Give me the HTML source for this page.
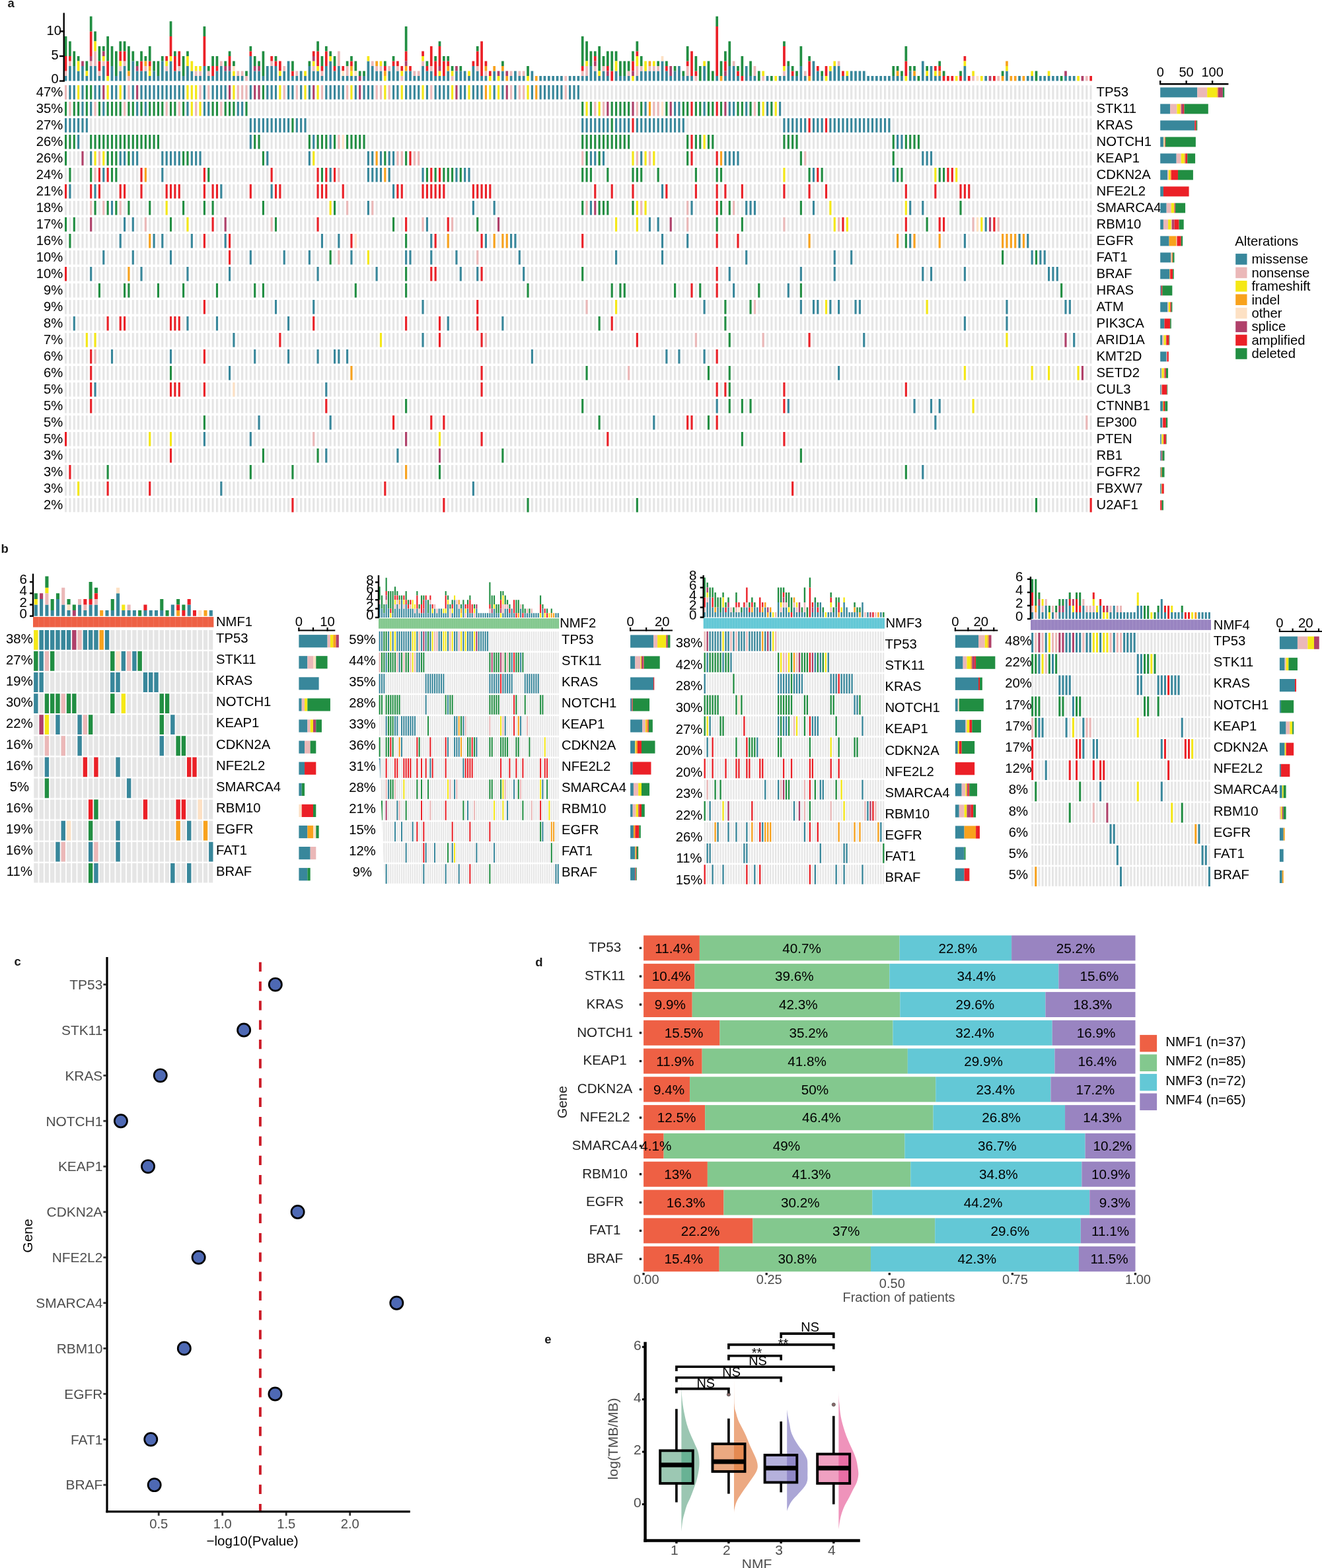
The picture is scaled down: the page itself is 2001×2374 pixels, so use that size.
<!DOCTYPE html><html><head><meta charset="utf-8"><style>html,body{margin:0;padding:0;background:#fff}svg{display:block}text{font-family:Liberation Sans, Arial, Helvetica, sans-serif}</style></head><body>
<svg xmlns="http://www.w3.org/2000/svg" width="2001" height="2374" viewBox="0 0 2001 2374">
<rect x="0" y="0" width="2001" height="2374" fill="#fff"/>
<text x="11.5" y="11.3" font-size="18.5" text-anchor="start" fill="#1a1a1a" font-weight="bold">a</text>
<path fill="#38879b" d="M97.7 115.08h3.7v7.52h-3.7zM104.06 100.04h3.7v22.56h-3.7zM110.42 100.04h3.7v22.56h-3.7zM116.78 107.56h3.7v15.04h-3.7zM123.14 100.04h3.7v22.56h-3.7zM129.5 115.08h3.7v7.52h-3.7zM135.85 100.04h3.7v22.56h-3.7zM142.21 100.04h3.7v22.56h-3.7zM148.57 115.08h3.7v7.52h-3.7zM154.93 100.04h3.7v22.56h-3.7zM167.65 100.04h3.7v22.56h-3.7zM174.01 115.08h3.7v7.52h-3.7zM180.37 107.56h3.7v15.04h-3.7zM186.73 100.04h3.7v22.56h-3.7zM199.44 92.52h3.7v30.08h-3.7zM205.8 107.56h3.7v15.04h-3.7zM212.16 107.56h3.7v15.04h-3.7zM218.52 107.56h3.7v15.04h-3.7zM224.88 115.08h3.7v7.52h-3.7zM231.24 107.56h3.7v15.04h-3.7zM237.6 115.08h3.7v7.52h-3.7zM243.96 92.52h3.7v30.08h-3.7zM250.32 107.56h3.7v15.04h-3.7zM256.67 92.52h3.7v30.08h-3.7zM263.03 107.56h3.7v15.04h-3.7zM269.39 107.56h3.7v15.04h-3.7zM275.75 115.08h3.7v7.52h-3.7zM282.11 100.04h3.7v22.56h-3.7zM288.47 107.56h3.7v15.04h-3.7zM294.83 115.08h3.7v7.52h-3.7zM301.19 115.08h3.7v7.52h-3.7zM307.55 100.04h3.7v22.56h-3.7zM313.91 115.08h3.7v7.52h-3.7zM320.26 115.08h3.7v7.52h-3.7zM326.62 107.56h3.7v15.04h-3.7zM332.98 100.04h3.7v22.56h-3.7zM339.34 107.56h3.7v15.04h-3.7zM345.7 107.56h3.7v15.04h-3.7zM352.06 115.08h3.7v7.52h-3.7zM358.42 115.08h3.7v7.52h-3.7zM364.78 115.08h3.7v7.52h-3.7zM377.5 85h3.7v37.6h-3.7zM383.85 107.56h3.7v15.04h-3.7zM390.21 107.56h3.7v15.04h-3.7zM396.57 115.08h3.7v7.52h-3.7zM402.93 100.04h3.7v22.56h-3.7zM409.29 100.04h3.7v22.56h-3.7zM415.65 100.04h3.7v22.56h-3.7zM422.01 115.08h3.7v7.52h-3.7zM428.37 107.56h3.7v15.04h-3.7zM434.73 92.52h3.7v30.08h-3.7zM441.09 115.08h3.7v7.52h-3.7zM447.44 115.08h3.7v7.52h-3.7zM453.8 107.56h3.7v15.04h-3.7zM460.16 115.08h3.7v7.52h-3.7zM466.52 100.04h3.7v22.56h-3.7zM472.88 107.56h3.7v15.04h-3.7zM479.24 107.56h3.7v15.04h-3.7zM485.6 115.08h3.7v7.52h-3.7zM491.96 100.04h3.7v22.56h-3.7zM498.32 92.52h3.7v30.08h-3.7zM504.68 107.56h3.7v15.04h-3.7zM511.03 100.04h3.7v22.56h-3.7zM517.39 115.08h3.7v7.52h-3.7zM523.75 115.08h3.7v7.52h-3.7zM530.11 115.08h3.7v7.52h-3.7zM536.47 115.08h3.7v7.52h-3.7zM549.19 115.08h3.7v7.52h-3.7zM555.55 92.52h3.7v30.08h-3.7zM561.91 100.04h3.7v22.56h-3.7zM568.27 107.56h3.7v15.04h-3.7zM574.62 107.56h3.7v15.04h-3.7zM587.34 107.56h3.7v15.04h-3.7zM593.7 100.04h3.7v22.56h-3.7zM600.06 107.56h3.7v15.04h-3.7zM612.78 107.56h3.7v15.04h-3.7zM619.14 107.56h3.7v15.04h-3.7zM625.5 115.08h3.7v7.52h-3.7zM631.86 115.08h3.7v7.52h-3.7zM638.21 100.04h3.7v22.56h-3.7zM644.57 107.56h3.7v15.04h-3.7zM650.93 107.56h3.7v15.04h-3.7zM657.29 115.08h3.7v7.52h-3.7zM663.65 115.08h3.7v7.52h-3.7zM670.01 115.08h3.7v7.52h-3.7zM676.37 107.56h3.7v15.04h-3.7zM689.09 107.56h3.7v15.04h-3.7zM695.45 107.56h3.7v15.04h-3.7zM701.8 107.56h3.7v15.04h-3.7zM708.16 115.08h3.7v7.52h-3.7zM714.52 100.04h3.7v22.56h-3.7zM720.88 107.56h3.7v15.04h-3.7zM727.24 115.08h3.7v7.52h-3.7zM733.6 115.08h3.7v7.52h-3.7zM746.32 107.56h3.7v15.04h-3.7zM759.04 107.56h3.7v15.04h-3.7zM771.75 115.08h3.7v7.52h-3.7zM778.11 107.56h3.7v15.04h-3.7zM784.47 115.08h3.7v7.52h-3.7zM790.83 115.08h3.7v7.52h-3.7zM803.55 107.56h3.7v15.04h-3.7zM816.27 115.08h3.7v7.52h-3.7zM822.63 115.08h3.7v7.52h-3.7zM828.98 115.08h3.7v7.52h-3.7zM835.34 115.08h3.7v7.52h-3.7zM841.7 115.08h3.7v7.52h-3.7zM848.06 115.08h3.7v7.52h-3.7zM860.78 115.08h3.7v7.52h-3.7zM867.14 115.08h3.7v7.52h-3.7zM873.5 115.08h3.7v7.52h-3.7zM879.86 115.08h3.7v7.52h-3.7zM886.22 115.08h3.7v7.52h-3.7zM892.57 100.04h3.7v22.56h-3.7zM898.93 107.56h3.7v15.04h-3.7zM905.29 115.08h3.7v7.52h-3.7zM911.65 107.56h3.7v15.04h-3.7zM918.01 115.08h3.7v7.52h-3.7zM930.73 107.56h3.7v15.04h-3.7zM937.09 115.08h3.7v7.52h-3.7zM943.45 115.08h3.7v7.52h-3.7zM949.81 115.08h3.7v7.52h-3.7zM962.52 115.08h3.7v7.52h-3.7zM968.88 107.56h3.7v15.04h-3.7zM975.24 107.56h3.7v15.04h-3.7zM981.6 107.56h3.7v15.04h-3.7zM987.96 107.56h3.7v15.04h-3.7zM994.32 107.56h3.7v15.04h-3.7zM1000.68 92.52h3.7v30.08h-3.7zM1007.04 107.56h3.7v15.04h-3.7zM1013.4 115.08h3.7v7.52h-3.7zM1019.75 107.56h3.7v15.04h-3.7zM1026.11 100.04h3.7v22.56h-3.7zM1032.47 115.08h3.7v7.52h-3.7zM1038.83 115.08h3.7v7.52h-3.7zM1045.19 115.08h3.7v7.52h-3.7zM1064.27 100.04h3.7v22.56h-3.7zM1083.35 115.08h3.7v7.52h-3.7zM1096.06 115.08h3.7v7.52h-3.7zM1102.42 100.04h3.7v22.56h-3.7zM1108.78 100.04h3.7v22.56h-3.7zM1115.14 115.08h3.7v7.52h-3.7zM1127.86 100.04h3.7v22.56h-3.7zM1134.22 115.08h3.7v7.52h-3.7zM1140.58 115.08h3.7v7.52h-3.7zM1159.65 115.08h3.7v7.52h-3.7zM1178.73 115.08h3.7v7.52h-3.7zM1185.09 115.08h3.7v7.52h-3.7zM1191.45 100.04h3.7v22.56h-3.7zM1197.81 115.08h3.7v7.52h-3.7zM1204.17 115.08h3.7v7.52h-3.7zM1210.53 100.04h3.7v22.56h-3.7zM1216.88 115.08h3.7v7.52h-3.7zM1229.6 92.52h3.7v30.08h-3.7zM1235.96 107.56h3.7v15.04h-3.7zM1242.32 115.08h3.7v7.52h-3.7zM1255.04 107.56h3.7v15.04h-3.7zM1261.4 100.04h3.7v22.56h-3.7zM1267.76 100.04h3.7v22.56h-3.7zM1274.12 115.08h3.7v7.52h-3.7zM1280.47 115.08h3.7v7.52h-3.7zM1286.83 107.56h3.7v15.04h-3.7zM1293.19 107.56h3.7v15.04h-3.7zM1299.55 107.56h3.7v15.04h-3.7zM1305.91 107.56h3.7v15.04h-3.7zM1312.27 115.08h3.7v7.52h-3.7zM1318.63 115.08h3.7v7.52h-3.7zM1324.99 115.08h3.7v7.52h-3.7zM1331.35 115.08h3.7v7.52h-3.7zM1337.71 115.08h3.7v7.52h-3.7zM1344.06 115.08h3.7v7.52h-3.7zM1350.42 115.08h3.7v7.52h-3.7zM1356.78 115.08h3.7v7.52h-3.7zM1363.14 115.08h3.7v7.52h-3.7zM1375.86 107.56h3.7v15.04h-3.7zM1382.22 115.08h3.7v7.52h-3.7zM1394.94 92.52h3.7v30.08h-3.7zM1401.3 115.08h3.7v7.52h-3.7zM1407.65 100.04h3.7v22.56h-3.7zM1414.01 115.08h3.7v7.52h-3.7zM1420.37 115.08h3.7v7.52h-3.7zM1458.53 100.04h3.7v22.56h-3.7zM1490.32 115.08h3.7v7.52h-3.7zM1522.12 107.56h3.7v15.04h-3.7zM1541.19 115.08h3.7v7.52h-3.7zM1553.91 115.08h3.7v7.52h-3.7zM1560.27 115.08h3.7v7.52h-3.7zM1572.99 115.08h3.7v7.52h-3.7zM1579.35 115.08h3.7v7.52h-3.7zM1585.71 115.08h3.7v7.52h-3.7zM1592.07 115.08h3.7v7.52h-3.7zM1598.42 115.08h3.7v7.52h-3.7zM1611.14 115.08h3.7v7.52h-3.7zM1617.5 115.08h3.7v7.52h-3.7zM1623.86 115.08h3.7v7.52h-3.7z"/>
<path fill="#ebb8b8" d="M97.7 107.56h3.7v7.52h-3.7zM104.06 92.52h3.7v7.52h-3.7zM135.85 92.52h3.7v7.52h-3.7zM142.21 77.48h3.7v22.56h-3.7zM148.57 107.56h3.7v7.52h-3.7zM154.93 92.52h3.7v7.52h-3.7zM180.37 100.04h3.7v7.52h-3.7zM186.73 92.52h3.7v7.52h-3.7zM193.09 115.08h3.7v7.52h-3.7zM218.52 100.04h3.7v7.52h-3.7zM250.32 100.04h3.7v7.52h-3.7zM269.39 100.04h3.7v7.52h-3.7zM294.83 107.56h3.7v7.52h-3.7zM301.19 107.56h3.7v7.52h-3.7zM313.91 107.56h3.7v7.52h-3.7zM332.98 92.52h3.7v7.52h-3.7zM358.42 107.56h3.7v7.52h-3.7zM364.78 107.56h3.7v7.52h-3.7zM371.14 115.08h3.7v7.52h-3.7zM409.29 92.52h3.7v7.52h-3.7zM428.37 100.04h3.7v7.52h-3.7zM447.44 107.56h3.7v7.52h-3.7zM472.88 100.04h3.7v7.52h-3.7zM485.6 107.56h3.7v7.52h-3.7zM511.03 77.48h3.7v22.56h-3.7zM523.75 100.04h3.7v15.04h-3.7zM561.91 92.52h3.7v7.52h-3.7zM568.27 100.04h3.7v7.52h-3.7zM574.62 100.04h3.7v7.52h-3.7zM587.34 100.04h3.7v7.52h-3.7zM600.06 100.04h3.7v7.52h-3.7zM606.42 115.08h3.7v7.52h-3.7zM625.5 107.56h3.7v7.52h-3.7zM631.86 107.56h3.7v7.52h-3.7zM638.21 92.52h3.7v7.52h-3.7zM650.93 100.04h3.7v7.52h-3.7zM682.73 115.08h3.7v7.52h-3.7zM720.88 100.04h3.7v7.52h-3.7zM733.6 107.56h3.7v7.52h-3.7zM771.75 107.56h3.7v7.52h-3.7zM784.47 107.56h3.7v7.52h-3.7zM790.83 107.56h3.7v7.52h-3.7zM854.42 115.08h3.7v7.52h-3.7zM879.86 107.56h3.7v7.52h-3.7zM886.22 100.04h3.7v15.04h-3.7zM898.93 100.04h3.7v7.52h-3.7zM911.65 100.04h3.7v7.52h-3.7zM949.81 107.56h3.7v7.52h-3.7zM962.52 100.04h3.7v15.04h-3.7zM968.88 100.04h3.7v7.52h-3.7zM981.6 100.04h3.7v7.52h-3.7zM987.96 100.04h3.7v7.52h-3.7zM994.32 100.04h3.7v7.52h-3.7zM1038.83 100.04h3.7v15.04h-3.7zM1051.55 115.08h3.7v7.52h-3.7zM1108.78 92.52h3.7v7.52h-3.7zM1140.58 100.04h3.7v15.04h-3.7zM1153.29 115.08h3.7v7.52h-3.7zM1185.09 107.56h3.7v7.52h-3.7zM1216.88 107.56h3.7v7.52h-3.7zM1267.76 92.52h3.7v7.52h-3.7zM1471.24 115.08h3.7v7.52h-3.7zM1509.4 115.08h3.7v7.52h-3.7zM1642.94 115.08h3.7v7.52h-3.7z"/>
<path fill="#eb2027" d="M97.7 85h3.7v22.56h-3.7zM104.06 85h3.7v7.52h-3.7zM135.85 47.4h3.7v37.6h-3.7zM148.57 92.52h3.7v15.04h-3.7zM161.29 92.52h3.7v22.56h-3.7zM180.37 77.48h3.7v15.04h-3.7zM186.73 77.48h3.7v15.04h-3.7zM212.16 92.52h3.7v15.04h-3.7zM224.88 92.52h3.7v7.52h-3.7zM250.32 85h3.7v7.52h-3.7zM256.67 54.92h3.7v30.08h-3.7zM263.03 85h3.7v22.56h-3.7zM269.39 77.48h3.7v22.56h-3.7zM307.55 54.92h3.7v45.12h-3.7zM320.26 100.04h3.7v15.04h-3.7zM326.62 100.04h3.7v7.52h-3.7zM345.7 85h3.7v15.04h-3.7zM377.5 77.48h3.7v7.52h-3.7zM409.29 85h3.7v7.52h-3.7zM415.65 92.52h3.7v7.52h-3.7zM422.01 92.52h3.7v15.04h-3.7zM441.09 107.56h3.7v7.52h-3.7zM472.88 77.48h3.7v7.52h-3.7zM479.24 77.48h3.7v22.56h-3.7zM485.6 100.04h3.7v7.52h-3.7zM491.96 77.48h3.7v22.56h-3.7zM504.68 100.04h3.7v7.52h-3.7zM517.39 100.04h3.7v7.52h-3.7zM530.11 92.52h3.7v7.52h-3.7zM580.98 100.04h3.7v7.52h-3.7zM593.7 92.52h3.7v7.52h-3.7zM600.06 92.52h3.7v7.52h-3.7zM606.42 100.04h3.7v7.52h-3.7zM612.78 77.48h3.7v15.04h-3.7zM619.14 100.04h3.7v7.52h-3.7zM638.21 77.48h3.7v7.52h-3.7zM644.57 100.04h3.7v7.52h-3.7zM650.93 69.96h3.7v30.08h-3.7zM657.29 92.52h3.7v22.56h-3.7zM663.65 69.96h3.7v30.08h-3.7zM670.01 92.52h3.7v22.56h-3.7zM676.37 92.52h3.7v7.52h-3.7zM714.52 92.52h3.7v7.52h-3.7zM720.88 77.48h3.7v22.56h-3.7zM727.24 62.44h3.7v52.64h-3.7zM733.6 92.52h3.7v7.52h-3.7zM739.96 107.56h3.7v7.52h-3.7zM879.86 100.04h3.7v7.52h-3.7zM898.93 85h3.7v7.52h-3.7zM918.01 100.04h3.7v7.52h-3.7zM924.37 107.56h3.7v15.04h-3.7zM956.16 92.52h3.7v15.04h-3.7zM962.52 77.48h3.7v7.52h-3.7zM1007.04 100.04h3.7v7.52h-3.7zM1038.83 92.52h3.7v7.52h-3.7zM1045.19 77.48h3.7v37.6h-3.7zM1051.55 107.56h3.7v7.52h-3.7zM1083.35 39.88h3.7v75.2h-3.7zM1096.06 92.52h3.7v15.04h-3.7zM1115.14 107.56h3.7v7.52h-3.7zM1121.5 115.08h3.7v7.52h-3.7zM1185.09 69.96h3.7v30.08h-3.7zM1197.81 107.56h3.7v7.52h-3.7zM1223.24 92.52h3.7v22.56h-3.7zM1235.96 100.04h3.7v7.52h-3.7zM1248.68 100.04h3.7v15.04h-3.7zM1274.12 107.56h3.7v7.52h-3.7zM1369.5 92.52h3.7v22.56h-3.7zM1414.01 100.04h3.7v7.52h-3.7zM1420.37 100.04h3.7v7.52h-3.7zM1426.73 115.08h3.7v7.52h-3.7zM1433.09 115.08h3.7v7.52h-3.7zM1439.45 115.08h3.7v7.52h-3.7zM1452.17 115.08h3.7v7.52h-3.7zM1458.53 85h3.7v7.52h-3.7zM1464.88 115.08h3.7v7.52h-3.7zM1503.04 115.08h3.7v7.52h-3.7zM1649.3 115.08h3.7v7.52h-3.7z"/>
<path fill="#218e42" d="M97.7 54.92h3.7v30.08h-3.7zM104.06 62.44h3.7v22.56h-3.7zM110.42 77.48h3.7v22.56h-3.7zM116.78 85h3.7v7.52h-3.7zM129.5 92.52h3.7v15.04h-3.7zM135.85 24.84h3.7v22.56h-3.7zM142.21 47.4h3.7v15.04h-3.7zM148.57 69.96h3.7v22.56h-3.7zM154.93 69.96h3.7v7.52h-3.7zM161.29 54.92h3.7v37.6h-3.7zM167.65 69.96h3.7v30.08h-3.7zM174.01 77.48h3.7v37.6h-3.7zM180.37 62.44h3.7v15.04h-3.7zM186.73 62.44h3.7v15.04h-3.7zM193.09 69.96h3.7v37.6h-3.7zM199.44 77.48h3.7v15.04h-3.7zM205.8 92.52h3.7v7.52h-3.7zM212.16 77.48h3.7v15.04h-3.7zM218.52 85h3.7v7.52h-3.7zM224.88 69.96h3.7v22.56h-3.7zM231.24 92.52h3.7v15.04h-3.7zM237.6 92.52h3.7v22.56h-3.7zM243.96 85h3.7v7.52h-3.7zM256.67 32.36h3.7v22.56h-3.7zM263.03 77.48h3.7v7.52h-3.7zM275.75 85h3.7v30.08h-3.7zM282.11 77.48h3.7v7.52h-3.7zM307.55 39.88h3.7v15.04h-3.7zM313.91 100.04h3.7v7.52h-3.7zM320.26 85h3.7v15.04h-3.7zM326.62 85h3.7v15.04h-3.7zM339.34 92.52h3.7v7.52h-3.7zM345.7 77.48h3.7v7.52h-3.7zM352.06 92.52h3.7v7.52h-3.7zM371.14 107.56h3.7v7.52h-3.7zM377.5 69.96h3.7v7.52h-3.7zM383.85 85h3.7v15.04h-3.7zM390.21 92.52h3.7v7.52h-3.7zM396.57 77.48h3.7v37.6h-3.7zM415.65 85h3.7v7.52h-3.7zM441.09 92.52h3.7v15.04h-3.7zM466.52 92.52h3.7v7.52h-3.7zM479.24 62.44h3.7v15.04h-3.7zM485.6 85h3.7v15.04h-3.7zM491.96 69.96h3.7v7.52h-3.7zM498.32 77.48h3.7v7.52h-3.7zM504.68 85h3.7v15.04h-3.7zM523.75 92.52h3.7v7.52h-3.7zM530.11 85h3.7v7.52h-3.7zM536.47 92.52h3.7v15.04h-3.7zM542.83 107.56h3.7v7.52h-3.7zM549.19 107.56h3.7v7.52h-3.7zM580.98 92.52h3.7v7.52h-3.7zM593.7 85h3.7v7.52h-3.7zM612.78 39.88h3.7v37.6h-3.7zM644.57 92.52h3.7v7.52h-3.7zM657.29 85h3.7v7.52h-3.7zM663.65 62.44h3.7v7.52h-3.7zM670.01 85h3.7v7.52h-3.7zM676.37 85h3.7v7.52h-3.7zM682.73 100.04h3.7v7.52h-3.7zM695.45 100.04h3.7v7.52h-3.7zM720.88 69.96h3.7v7.52h-3.7zM759.04 92.52h3.7v7.52h-3.7zM797.19 100.04h3.7v15.04h-3.7zM879.86 54.92h3.7v45.12h-3.7zM886.22 62.44h3.7v30.08h-3.7zM892.57 77.48h3.7v22.56h-3.7zM898.93 77.48h3.7v7.52h-3.7zM905.29 69.96h3.7v37.6h-3.7zM911.65 85h3.7v15.04h-3.7zM918.01 77.48h3.7v22.56h-3.7zM924.37 77.48h3.7v30.08h-3.7zM930.73 77.48h3.7v15.04h-3.7zM937.09 92.52h3.7v22.56h-3.7zM943.45 92.52h3.7v22.56h-3.7zM949.81 92.52h3.7v15.04h-3.7zM956.16 77.48h3.7v15.04h-3.7zM962.52 62.44h3.7v15.04h-3.7zM968.88 85h3.7v15.04h-3.7zM994.32 92.52h3.7v7.52h-3.7zM1007.04 92.52h3.7v7.52h-3.7zM1019.75 100.04h3.7v7.52h-3.7zM1032.47 107.56h3.7v7.52h-3.7zM1038.83 69.96h3.7v22.56h-3.7zM1051.55 85h3.7v22.56h-3.7zM1057.91 100.04h3.7v22.56h-3.7zM1070.63 92.52h3.7v30.08h-3.7zM1076.99 107.56h3.7v15.04h-3.7zM1083.35 24.84h3.7v15.04h-3.7zM1089.7 92.52h3.7v22.56h-3.7zM1096.06 77.48h3.7v15.04h-3.7zM1102.42 62.44h3.7v37.6h-3.7zM1115.14 100.04h3.7v7.52h-3.7zM1121.5 85h3.7v30.08h-3.7zM1134.22 92.52h3.7v22.56h-3.7zM1146.93 107.56h3.7v15.04h-3.7zM1166.01 115.08h3.7v7.52h-3.7zM1185.09 62.44h3.7v7.52h-3.7zM1191.45 92.52h3.7v7.52h-3.7zM1197.81 100.04h3.7v7.52h-3.7zM1204.17 107.56h3.7v7.52h-3.7zM1210.53 69.96h3.7v30.08h-3.7zM1223.24 85h3.7v7.52h-3.7zM1242.32 107.56h3.7v7.52h-3.7zM1350.42 100.04h3.7v15.04h-3.7zM1356.78 100.04h3.7v7.52h-3.7zM1363.14 107.56h3.7v7.52h-3.7zM1369.5 69.96h3.7v22.56h-3.7zM1375.86 100.04h3.7v7.52h-3.7zM1382.22 100.04h3.7v7.52h-3.7zM1388.58 115.08h3.7v7.52h-3.7zM1401.3 100.04h3.7v7.52h-3.7zM1420.37 92.52h3.7v7.52h-3.7zM1426.73 107.56h3.7v7.52h-3.7zM1452.17 107.56h3.7v7.52h-3.7zM1515.76 107.56h3.7v7.52h-3.7zM1566.63 107.56h3.7v15.04h-3.7zM1604.78 115.08h3.7v7.52h-3.7z"/>
<path fill="#f5e816" d="M116.78 92.52h3.7v15.04h-3.7zM129.5 107.56h3.7v7.52h-3.7zM142.21 62.44h3.7v15.04h-3.7zM154.93 85h3.7v7.52h-3.7zM161.29 115.08h3.7v7.52h-3.7zM180.37 92.52h3.7v7.52h-3.7zM224.88 107.56h3.7v7.52h-3.7zM250.32 92.52h3.7v7.52h-3.7zM256.67 85h3.7v7.52h-3.7zM282.11 85h3.7v15.04h-3.7zM288.47 92.52h3.7v15.04h-3.7zM294.83 100.04h3.7v7.52h-3.7zM301.19 100.04h3.7v7.52h-3.7zM352.06 107.56h3.7v7.52h-3.7zM422.01 107.56h3.7v7.52h-3.7zM460.16 107.56h3.7v7.52h-3.7zM472.88 92.52h3.7v7.52h-3.7zM479.24 100.04h3.7v7.52h-3.7zM498.32 85h3.7v7.52h-3.7zM530.11 107.56h3.7v7.52h-3.7zM555.55 85h3.7v7.52h-3.7zM574.62 92.52h3.7v7.52h-3.7zM580.98 115.08h3.7v7.52h-3.7zM606.42 107.56h3.7v7.52h-3.7zM638.21 85h3.7v7.52h-3.7zM663.65 107.56h3.7v7.52h-3.7zM682.73 107.56h3.7v7.52h-3.7zM708.16 107.56h3.7v7.52h-3.7zM739.96 115.08h3.7v7.52h-3.7zM752.68 115.08h3.7v7.52h-3.7zM797.19 115.08h3.7v7.52h-3.7zM886.22 92.52h3.7v7.52h-3.7zM905.29 107.56h3.7v7.52h-3.7zM930.73 92.52h3.7v15.04h-3.7zM956.16 115.08h3.7v7.52h-3.7zM962.52 85h3.7v15.04h-3.7zM975.24 92.52h3.7v15.04h-3.7zM987.96 92.52h3.7v7.52h-3.7zM1064.27 92.52h3.7v7.52h-3.7zM1153.29 107.56h3.7v7.52h-3.7zM1172.37 115.08h3.7v7.52h-3.7zM1185.09 100.04h3.7v7.52h-3.7zM1248.68 115.08h3.7v7.52h-3.7zM1255.04 100.04h3.7v7.52h-3.7zM1261.4 92.52h3.7v7.52h-3.7zM1280.47 107.56h3.7v7.52h-3.7zM1369.5 115.08h3.7v7.52h-3.7zM1401.3 107.56h3.7v7.52h-3.7zM1414.01 107.56h3.7v7.52h-3.7zM1445.81 115.08h3.7v7.52h-3.7zM1458.53 92.52h3.7v7.52h-3.7zM1471.24 107.56h3.7v7.52h-3.7zM1483.96 115.08h3.7v7.52h-3.7zM1522.12 100.04h3.7v7.52h-3.7zM1560.27 107.56h3.7v7.52h-3.7zM1585.71 107.56h3.7v7.52h-3.7zM1630.22 115.08h3.7v7.52h-3.7z"/>
<path fill="#b0406a" d="M123.14 92.52h3.7v7.52h-3.7zM135.85 85h3.7v7.52h-3.7zM154.93 77.48h3.7v7.52h-3.7zM205.8 100.04h3.7v7.52h-3.7zM339.34 100.04h3.7v7.52h-3.7zM345.7 100.04h3.7v7.52h-3.7zM383.85 100.04h3.7v7.52h-3.7zM390.21 100.04h3.7v7.52h-3.7zM472.88 85h3.7v7.52h-3.7zM542.83 115.08h3.7v7.52h-3.7zM612.78 92.52h3.7v7.52h-3.7zM663.65 100.04h3.7v7.52h-3.7zM689.09 100.04h3.7v7.52h-3.7zM752.68 107.56h3.7v7.52h-3.7zM765.39 107.56h3.7v7.52h-3.7zM898.93 92.52h3.7v7.52h-3.7zM918.01 107.56h3.7v7.52h-3.7zM956.16 107.56h3.7v7.52h-3.7zM1013.4 100.04h3.7v15.04h-3.7zM1096.06 107.56h3.7v7.52h-3.7zM1496.68 115.08h3.7v7.52h-3.7zM1611.14 107.56h3.7v7.52h-3.7zM1636.58 115.08h3.7v7.52h-3.7z"/>
<path fill="#f8a21d" d="M193.09 107.56h3.7v7.52h-3.7zM218.52 92.52h3.7v7.52h-3.7zM224.88 100.04h3.7v7.52h-3.7zM530.11 100.04h3.7v7.52h-3.7zM568.27 92.52h3.7v7.52h-3.7zM580.98 107.56h3.7v7.52h-3.7zM612.78 100.04h3.7v7.52h-3.7zM676.37 100.04h3.7v7.52h-3.7zM733.6 100.04h3.7v7.52h-3.7zM746.32 100.04h3.7v7.52h-3.7zM759.04 100.04h3.7v7.52h-3.7zM765.39 115.08h3.7v7.52h-3.7zM809.91 115.08h3.7v7.52h-3.7zM981.6 92.52h3.7v7.52h-3.7zM1089.7 115.08h3.7v7.52h-3.7zM1223.24 115.08h3.7v7.52h-3.7zM1356.78 107.56h3.7v7.52h-3.7zM1382.22 107.56h3.7v7.52h-3.7zM1420.37 107.56h3.7v7.52h-3.7zM1515.76 115.08h3.7v7.52h-3.7zM1522.12 92.52h3.7v7.52h-3.7zM1528.48 115.08h3.7v7.52h-3.7zM1534.83 115.08h3.7v7.52h-3.7zM1547.55 115.08h3.7v7.52h-3.7z"/>
<path fill="#fde1c4" d="M352.06 100.04h3.7v7.52h-3.7zM517.39 107.56h3.7v7.52h-3.7zM536.47 107.56h3.7v7.52h-3.7zM1000.68 85h3.7v7.52h-3.7zM1477.6 115.08h3.7v7.52h-3.7z"/>
<line x1="96.7" y1="19.5" x2="96.7" y2="123.3" stroke="#000" stroke-width="2.4"/>
<line x1="90" y1="122.6" x2="97.8" y2="122.6" stroke="#000" stroke-width="2.4"/>
<line x1="90" y1="85" x2="97.8" y2="85" stroke="#000" stroke-width="2.4"/>
<line x1="90" y1="47.4" x2="97.8" y2="47.4" stroke="#000" stroke-width="2.4"/>
<text x="88.7" y="126.3" font-size="20" text-anchor="end" fill="#000">0</text>
<text x="88.7" y="89.6" font-size="20" text-anchor="end" fill="#000">5</text>
<text x="92.8" y="52.8" font-size="20" text-anchor="end" fill="#000">10</text>
<defs><pattern id="gp1" patternUnits="userSpaceOnUse" x="98" y="129.1" width="6.359" height="25.0"><rect x="0" y="0" width="3.1" height="21.5" fill="#e5e5e5"/></pattern></defs>
<rect x="98" y="129.1" width="1554.7" height="646.5" fill="url(#gp1)"/>
<path fill="#ebb8b8" d="M98 129.1h3.1v21.5h-3.1zM193.38 129.1h3.1v21.5h-3.1zM301.49 129.1h3.1v21.5h-3.1zM314.21 129.1h3.1v21.5h-3.1zM358.72 129.1h3.1v21.5h-3.1zM365.08 129.1h3.1v21.5h-3.1zM371.44 129.1h3.1v21.5h-3.1zM428.67 129.1h3.1v21.5h-3.1zM447.75 129.1h3.1v21.5h-3.1zM485.9 129.1h3.1v21.5h-3.1zM524.05 129.1h3.1v21.5h-3.1zM568.57 129.1h3.1v21.5h-3.1zM574.93 129.1h3.1v21.5h-3.1zM587.64 129.1h3.1v21.5h-3.1zM651.23 129.1h3.1v21.5h-3.1zM772.05 129.1h3.1v21.5h-3.1zM784.77 129.1h3.1v21.5h-3.1zM791.13 129.1h3.1v21.5h-3.1zM854.72 129.1h3.1v21.5h-3.1zM104.36 154.1h3.1v21.5h-3.1zM142.51 154.1h3.1v21.5h-3.1zM187.03 154.1h3.1v21.5h-3.1zM250.62 154.1h3.1v21.5h-3.1zM269.69 154.1h3.1v21.5h-3.1zM295.13 154.1h3.1v21.5h-3.1zM333.28 154.1h3.1v21.5h-3.1zM899.23 154.1h3.1v21.5h-3.1zM911.95 154.1h3.1v21.5h-3.1zM962.82 154.1h3.1v21.5h-3.1zM988.26 154.1h3.1v21.5h-3.1zM994.62 154.1h3.1v21.5h-3.1zM1140.88 154.1h3.1v21.5h-3.1zM511.33 204.1h3.1v21.5h-3.1zM148.87 229.1h3.1v21.5h-3.1zM600.36 229.1h3.1v21.5h-3.1zM606.72 229.1h3.1v21.5h-3.1zM625.8 229.1h3.1v21.5h-3.1zM632.16 229.1h3.1v21.5h-3.1zM880.16 229.1h3.1v21.5h-3.1zM962.82 229.1h3.1v21.5h-3.1zM981.9 229.1h3.1v21.5h-3.1zM1217.18 229.1h3.1v21.5h-3.1zM142.51 254.1h3.1v21.5h-3.1zM511.33 254.1h3.1v21.5h-3.1zM136.15 304.1h3.1v21.5h-3.1zM155.23 304.1h3.1v21.5h-3.1zM180.67 304.1h3.1v21.5h-3.1zM524.05 304.1h3.1v21.5h-3.1zM562.21 304.1h3.1v21.5h-3.1zM886.52 304.1h3.1v21.5h-3.1zM969.18 304.1h3.1v21.5h-3.1zM1039.13 304.1h3.1v21.5h-3.1zM1109.08 304.1h3.1v21.5h-3.1zM218.82 329.1h3.1v21.5h-3.1zM409.59 329.1h3.1v21.5h-3.1zM638.51 329.1h3.1v21.5h-3.1zM683.03 329.1h3.1v21.5h-3.1zM1039.13 329.1h3.1v21.5h-3.1zM1185.39 329.1h3.1v21.5h-3.1zM1268.06 329.1h3.1v21.5h-3.1zM1471.54 329.1h3.1v21.5h-3.1zM1509.7 329.1h3.1v21.5h-3.1zM511.33 379.1h3.1v21.5h-3.1zM721.18 379.1h3.1v21.5h-3.1zM886.52 454.1h3.1v21.5h-3.1zM1140.88 454.1h3.1v21.5h-3.1zM733.9 504.1h3.1v21.5h-3.1zM1051.85 504.1h3.1v21.5h-3.1zM1153.59 504.1h3.1v21.5h-3.1zM142.51 529.1h3.1v21.5h-3.1zM950.11 554.1h3.1v21.5h-3.1zM1643.24 629.1h3.1v21.5h-3.1zM473.18 654.1h3.1v21.5h-3.1z"/>
<path fill="#38879b" d="M104.36 129.1h3.1v21.5h-3.1zM110.72 129.1h3.1v21.5h-3.1zM123.44 129.1h3.1v21.5h-3.1zM142.51 129.1h3.1v21.5h-3.1zM148.87 129.1h3.1v21.5h-3.1zM167.95 129.1h3.1v21.5h-3.1zM174.31 129.1h3.1v21.5h-3.1zM187.03 129.1h3.1v21.5h-3.1zM199.74 129.1h3.1v21.5h-3.1zM212.46 129.1h3.1v21.5h-3.1zM218.82 129.1h3.1v21.5h-3.1zM225.18 129.1h3.1v21.5h-3.1zM231.54 129.1h3.1v21.5h-3.1zM237.9 129.1h3.1v21.5h-3.1zM244.26 129.1h3.1v21.5h-3.1zM250.62 129.1h3.1v21.5h-3.1zM256.97 129.1h3.1v21.5h-3.1zM263.33 129.1h3.1v21.5h-3.1zM269.69 129.1h3.1v21.5h-3.1zM276.05 129.1h3.1v21.5h-3.1zM307.85 129.1h3.1v21.5h-3.1zM320.56 129.1h3.1v21.5h-3.1zM326.92 129.1h3.1v21.5h-3.1zM333.28 129.1h3.1v21.5h-3.1zM339.64 129.1h3.1v21.5h-3.1zM377.8 129.1h3.1v21.5h-3.1zM403.23 129.1h3.1v21.5h-3.1zM409.59 129.1h3.1v21.5h-3.1zM415.95 129.1h3.1v21.5h-3.1zM435.03 129.1h3.1v21.5h-3.1zM441.39 129.1h3.1v21.5h-3.1zM454.1 129.1h3.1v21.5h-3.1zM466.82 129.1h3.1v21.5h-3.1zM492.26 129.1h3.1v21.5h-3.1zM498.62 129.1h3.1v21.5h-3.1zM504.98 129.1h3.1v21.5h-3.1zM511.33 129.1h3.1v21.5h-3.1zM517.69 129.1h3.1v21.5h-3.1zM536.77 129.1h3.1v21.5h-3.1zM549.49 129.1h3.1v21.5h-3.1zM555.85 129.1h3.1v21.5h-3.1zM562.21 129.1h3.1v21.5h-3.1zM594 129.1h3.1v21.5h-3.1zM600.36 129.1h3.1v21.5h-3.1zM613.08 129.1h3.1v21.5h-3.1zM619.44 129.1h3.1v21.5h-3.1zM625.8 129.1h3.1v21.5h-3.1zM632.16 129.1h3.1v21.5h-3.1zM644.87 129.1h3.1v21.5h-3.1zM657.59 129.1h3.1v21.5h-3.1zM663.95 129.1h3.1v21.5h-3.1zM670.31 129.1h3.1v21.5h-3.1zM676.67 129.1h3.1v21.5h-3.1zM695.75 129.1h3.1v21.5h-3.1zM702.11 129.1h3.1v21.5h-3.1zM714.82 129.1h3.1v21.5h-3.1zM721.18 129.1h3.1v21.5h-3.1zM727.54 129.1h3.1v21.5h-3.1zM746.62 129.1h3.1v21.5h-3.1zM759.34 129.1h3.1v21.5h-3.1zM778.41 129.1h3.1v21.5h-3.1zM803.85 129.1h3.1v21.5h-3.1zM816.57 129.1h3.1v21.5h-3.1zM822.93 129.1h3.1v21.5h-3.1zM829.28 129.1h3.1v21.5h-3.1zM835.64 129.1h3.1v21.5h-3.1zM842 129.1h3.1v21.5h-3.1zM848.36 129.1h3.1v21.5h-3.1zM861.08 129.1h3.1v21.5h-3.1zM867.44 129.1h3.1v21.5h-3.1zM873.8 129.1h3.1v21.5h-3.1zM123.44 154.1h3.1v21.5h-3.1zM136.15 154.1h3.1v21.5h-3.1zM155.23 154.1h3.1v21.5h-3.1zM206.1 154.1h3.1v21.5h-3.1zM218.82 154.1h3.1v21.5h-3.1zM282.41 154.1h3.1v21.5h-3.1zM307.85 154.1h3.1v21.5h-3.1zM314.21 154.1h3.1v21.5h-3.1zM358.72 154.1h3.1v21.5h-3.1zM365.08 154.1h3.1v21.5h-3.1zM975.54 154.1h3.1v21.5h-3.1zM1020.05 154.1h3.1v21.5h-3.1zM1026.41 154.1h3.1v21.5h-3.1zM1064.57 154.1h3.1v21.5h-3.1zM1102.72 154.1h3.1v21.5h-3.1zM1109.08 154.1h3.1v21.5h-3.1zM1128.16 154.1h3.1v21.5h-3.1zM1159.95 154.1h3.1v21.5h-3.1zM1179.03 154.1h3.1v21.5h-3.1zM98 179.1h3.1v21.5h-3.1zM104.36 179.1h3.1v21.5h-3.1zM110.72 179.1h3.1v21.5h-3.1zM117.08 179.1h3.1v21.5h-3.1zM123.44 179.1h3.1v21.5h-3.1zM129.79 179.1h3.1v21.5h-3.1zM377.8 179.1h3.1v21.5h-3.1zM384.15 179.1h3.1v21.5h-3.1zM390.51 179.1h3.1v21.5h-3.1zM396.87 179.1h3.1v21.5h-3.1zM403.23 179.1h3.1v21.5h-3.1zM409.59 179.1h3.1v21.5h-3.1zM415.95 179.1h3.1v21.5h-3.1zM422.31 179.1h3.1v21.5h-3.1zM428.67 179.1h3.1v21.5h-3.1zM435.03 179.1h3.1v21.5h-3.1zM447.75 179.1h3.1v21.5h-3.1zM454.1 179.1h3.1v21.5h-3.1zM460.46 179.1h3.1v21.5h-3.1zM880.16 179.1h3.1v21.5h-3.1zM886.52 179.1h3.1v21.5h-3.1zM892.88 179.1h3.1v21.5h-3.1zM899.23 179.1h3.1v21.5h-3.1zM905.59 179.1h3.1v21.5h-3.1zM911.95 179.1h3.1v21.5h-3.1zM918.31 179.1h3.1v21.5h-3.1zM931.03 179.1h3.1v21.5h-3.1zM937.39 179.1h3.1v21.5h-3.1zM943.75 179.1h3.1v21.5h-3.1zM950.11 179.1h3.1v21.5h-3.1zM962.82 179.1h3.1v21.5h-3.1zM969.18 179.1h3.1v21.5h-3.1zM975.54 179.1h3.1v21.5h-3.1zM981.9 179.1h3.1v21.5h-3.1zM988.26 179.1h3.1v21.5h-3.1zM994.62 179.1h3.1v21.5h-3.1zM1000.98 179.1h3.1v21.5h-3.1zM1007.34 179.1h3.1v21.5h-3.1zM1013.7 179.1h3.1v21.5h-3.1zM1020.05 179.1h3.1v21.5h-3.1zM1026.41 179.1h3.1v21.5h-3.1zM1032.77 179.1h3.1v21.5h-3.1zM1185.39 179.1h3.1v21.5h-3.1zM1191.75 179.1h3.1v21.5h-3.1zM1198.11 179.1h3.1v21.5h-3.1zM1204.47 179.1h3.1v21.5h-3.1zM1210.83 179.1h3.1v21.5h-3.1zM1217.18 179.1h3.1v21.5h-3.1zM1229.9 179.1h3.1v21.5h-3.1zM1236.26 179.1h3.1v21.5h-3.1zM1242.62 179.1h3.1v21.5h-3.1zM1255.34 179.1h3.1v21.5h-3.1zM1261.7 179.1h3.1v21.5h-3.1zM1268.06 179.1h3.1v21.5h-3.1zM1274.41 179.1h3.1v21.5h-3.1zM1280.77 179.1h3.1v21.5h-3.1zM1287.13 179.1h3.1v21.5h-3.1zM1293.49 179.1h3.1v21.5h-3.1zM1299.85 179.1h3.1v21.5h-3.1zM1306.21 179.1h3.1v21.5h-3.1zM1312.57 179.1h3.1v21.5h-3.1zM1318.93 179.1h3.1v21.5h-3.1zM1325.29 179.1h3.1v21.5h-3.1zM1331.65 179.1h3.1v21.5h-3.1zM1338.01 179.1h3.1v21.5h-3.1zM1344.36 179.1h3.1v21.5h-3.1zM117.08 204.1h3.1v21.5h-3.1zM377.8 204.1h3.1v21.5h-3.1zM473.18 204.1h3.1v21.5h-3.1zM498.62 204.1h3.1v21.5h-3.1zM1357.08 204.1h3.1v21.5h-3.1zM1363.44 204.1h3.1v21.5h-3.1zM136.15 229.1h3.1v21.5h-3.1zM180.67 229.1h3.1v21.5h-3.1zM187.03 229.1h3.1v21.5h-3.1zM199.74 229.1h3.1v21.5h-3.1zM206.1 229.1h3.1v21.5h-3.1zM244.26 229.1h3.1v21.5h-3.1zM250.62 229.1h3.1v21.5h-3.1zM256.97 229.1h3.1v21.5h-3.1zM263.33 229.1h3.1v21.5h-3.1zM269.69 229.1h3.1v21.5h-3.1zM288.77 229.1h3.1v21.5h-3.1zM295.13 229.1h3.1v21.5h-3.1zM301.49 229.1h3.1v21.5h-3.1zM403.23 229.1h3.1v21.5h-3.1zM466.82 229.1h3.1v21.5h-3.1zM555.85 229.1h3.1v21.5h-3.1zM562.21 229.1h3.1v21.5h-3.1zM574.93 229.1h3.1v21.5h-3.1zM587.64 229.1h3.1v21.5h-3.1zM594 229.1h3.1v21.5h-3.1zM892.88 229.1h3.1v21.5h-3.1zM899.23 229.1h3.1v21.5h-3.1zM911.95 229.1h3.1v21.5h-3.1zM969.18 229.1h3.1v21.5h-3.1zM1096.36 229.1h3.1v21.5h-3.1zM1102.72 229.1h3.1v21.5h-3.1zM1109.08 229.1h3.1v21.5h-3.1zM1115.44 229.1h3.1v21.5h-3.1zM1395.24 229.1h3.1v21.5h-3.1zM1401.6 229.1h3.1v21.5h-3.1zM1407.95 229.1h3.1v21.5h-3.1zM155.23 254.1h3.1v21.5h-3.1zM244.26 254.1h3.1v21.5h-3.1zM498.62 254.1h3.1v21.5h-3.1zM555.85 254.1h3.1v21.5h-3.1zM562.21 254.1h3.1v21.5h-3.1zM568.57 254.1h3.1v21.5h-3.1zM574.93 254.1h3.1v21.5h-3.1zM587.64 254.1h3.1v21.5h-3.1zM638.51 254.1h3.1v21.5h-3.1zM689.39 254.1h3.1v21.5h-3.1zM702.11 254.1h3.1v21.5h-3.1zM708.46 254.1h3.1v21.5h-3.1zM1229.9 254.1h3.1v21.5h-3.1zM1350.72 254.1h3.1v21.5h-3.1zM104.36 279.1h3.1v21.5h-3.1zM142.51 279.1h3.1v21.5h-3.1zM333.28 279.1h3.1v21.5h-3.1zM409.59 279.1h3.1v21.5h-3.1zM594 279.1h3.1v21.5h-3.1zM1000.98 279.1h3.1v21.5h-3.1zM167.95 304.1h3.1v21.5h-3.1zM555.85 304.1h3.1v21.5h-3.1zM714.82 304.1h3.1v21.5h-3.1zM746.62 304.1h3.1v21.5h-3.1zM892.88 304.1h3.1v21.5h-3.1zM1045.49 304.1h3.1v21.5h-3.1zM1128.16 304.1h3.1v21.5h-3.1zM1134.52 304.1h3.1v21.5h-3.1zM1140.88 304.1h3.1v21.5h-3.1zM1229.9 304.1h3.1v21.5h-3.1zM1376.16 304.1h3.1v21.5h-3.1zM1395.24 304.1h3.1v21.5h-3.1zM187.03 329.1h3.1v21.5h-3.1zM199.74 329.1h3.1v21.5h-3.1zM644.87 329.1h3.1v21.5h-3.1zM981.9 329.1h3.1v21.5h-3.1zM994.62 329.1h3.1v21.5h-3.1zM1490.62 329.1h3.1v21.5h-3.1zM180.67 354.1h3.1v21.5h-3.1zM231.54 354.1h3.1v21.5h-3.1zM244.26 354.1h3.1v21.5h-3.1zM288.77 354.1h3.1v21.5h-3.1zM339.64 354.1h3.1v21.5h-3.1zM485.9 354.1h3.1v21.5h-3.1zM511.33 354.1h3.1v21.5h-3.1zM651.23 354.1h3.1v21.5h-3.1zM733.9 354.1h3.1v21.5h-3.1zM772.05 354.1h3.1v21.5h-3.1zM778.41 354.1h3.1v21.5h-3.1zM1000.98 354.1h3.1v21.5h-3.1zM1039.13 354.1h3.1v21.5h-3.1zM1376.16 354.1h3.1v21.5h-3.1zM1458.83 354.1h3.1v21.5h-3.1zM1541.49 354.1h3.1v21.5h-3.1zM1554.21 354.1h3.1v21.5h-3.1zM155.23 379.1h3.1v21.5h-3.1zM199.74 379.1h3.1v21.5h-3.1zM256.97 379.1h3.1v21.5h-3.1zM377.8 379.1h3.1v21.5h-3.1zM428.67 379.1h3.1v21.5h-3.1zM466.82 379.1h3.1v21.5h-3.1zM530.41 379.1h3.1v21.5h-3.1zM613.08 379.1h3.1v21.5h-3.1zM619.44 379.1h3.1v21.5h-3.1zM651.23 379.1h3.1v21.5h-3.1zM689.39 379.1h3.1v21.5h-3.1zM784.77 379.1h3.1v21.5h-3.1zM931.03 379.1h3.1v21.5h-3.1zM1000.98 379.1h3.1v21.5h-3.1zM1128.16 379.1h3.1v21.5h-3.1zM1261.7 379.1h3.1v21.5h-3.1zM1287.13 379.1h3.1v21.5h-3.1zM1560.57 379.1h3.1v21.5h-3.1zM1573.29 379.1h3.1v21.5h-3.1zM1579.65 379.1h3.1v21.5h-3.1zM136.15 404.1h3.1v21.5h-3.1zM212.46 404.1h3.1v21.5h-3.1zM282.41 404.1h3.1v21.5h-3.1zM346 404.1h3.1v21.5h-3.1zM479.54 404.1h3.1v21.5h-3.1zM568.57 404.1h3.1v21.5h-3.1zM695.75 404.1h3.1v21.5h-3.1zM721.18 404.1h3.1v21.5h-3.1zM791.13 404.1h3.1v21.5h-3.1zM1102.72 404.1h3.1v21.5h-3.1zM1210.83 404.1h3.1v21.5h-3.1zM1261.7 404.1h3.1v21.5h-3.1zM1395.24 404.1h3.1v21.5h-3.1zM1407.95 404.1h3.1v21.5h-3.1zM1458.83 404.1h3.1v21.5h-3.1zM1586.01 404.1h3.1v21.5h-3.1zM1592.37 404.1h3.1v21.5h-3.1zM1598.72 404.1h3.1v21.5h-3.1zM1109.08 429.1h3.1v21.5h-3.1zM1191.75 429.1h3.1v21.5h-3.1zM415.95 454.1h3.1v21.5h-3.1zM473.18 454.1h3.1v21.5h-3.1zM638.51 454.1h3.1v21.5h-3.1zM1064.57 454.1h3.1v21.5h-3.1zM1210.83 454.1h3.1v21.5h-3.1zM1229.9 454.1h3.1v21.5h-3.1zM1236.26 454.1h3.1v21.5h-3.1zM1255.34 454.1h3.1v21.5h-3.1zM1268.06 454.1h3.1v21.5h-3.1zM1293.49 454.1h3.1v21.5h-3.1zM1299.85 454.1h3.1v21.5h-3.1zM1522.42 454.1h3.1v21.5h-3.1zM1611.44 454.1h3.1v21.5h-3.1zM1617.8 454.1h3.1v21.5h-3.1zM110.72 479.1h3.1v21.5h-3.1zM282.41 479.1h3.1v21.5h-3.1zM326.92 479.1h3.1v21.5h-3.1zM435.03 479.1h3.1v21.5h-3.1zM676.67 479.1h3.1v21.5h-3.1zM759.34 479.1h3.1v21.5h-3.1zM1458.83 479.1h3.1v21.5h-3.1zM1522.42 479.1h3.1v21.5h-3.1zM352.36 504.1h3.1v21.5h-3.1zM638.51 504.1h3.1v21.5h-3.1zM1306.21 504.1h3.1v21.5h-3.1zM1624.16 504.1h3.1v21.5h-3.1zM167.95 529.1h3.1v21.5h-3.1zM256.97 529.1h3.1v21.5h-3.1zM384.15 529.1h3.1v21.5h-3.1zM435.03 529.1h3.1v21.5h-3.1zM479.54 529.1h3.1v21.5h-3.1zM504.98 529.1h3.1v21.5h-3.1zM511.33 529.1h3.1v21.5h-3.1zM524.05 529.1h3.1v21.5h-3.1zM803.85 529.1h3.1v21.5h-3.1zM1007.34 529.1h3.1v21.5h-3.1zM1026.41 529.1h3.1v21.5h-3.1zM1064.57 529.1h3.1v21.5h-3.1zM346 554.1h3.1v21.5h-3.1zM1268.06 554.1h3.1v21.5h-3.1zM142.51 579.1h3.1v21.5h-3.1zM492.26 579.1h3.1v21.5h-3.1zM1083.64 604.1h3.1v21.5h-3.1zM1191.75 604.1h3.1v21.5h-3.1zM1382.52 604.1h3.1v21.5h-3.1zM1407.95 604.1h3.1v21.5h-3.1zM1420.67 604.1h3.1v21.5h-3.1zM390.51 629.1h3.1v21.5h-3.1zM498.62 629.1h3.1v21.5h-3.1zM988.26 629.1h3.1v21.5h-3.1zM1414.31 629.1h3.1v21.5h-3.1zM307.85 654.1h3.1v21.5h-3.1zM377.8 654.1h3.1v21.5h-3.1zM492.26 679.1h3.1v21.5h-3.1zM600.36 679.1h3.1v21.5h-3.1zM1395.24 704.1h3.1v21.5h-3.1zM333.28 729.1h3.1v21.5h-3.1zM714.82 729.1h3.1v21.5h-3.1z"/>
<path fill="#f5e816" d="M117.08 129.1h3.1v21.5h-3.1zM161.59 129.1h3.1v21.5h-3.1zM180.67 129.1h3.1v21.5h-3.1zM282.41 129.1h3.1v21.5h-3.1zM288.77 129.1h3.1v21.5h-3.1zM295.13 129.1h3.1v21.5h-3.1zM352.36 129.1h3.1v21.5h-3.1zM422.31 129.1h3.1v21.5h-3.1zM460.46 129.1h3.1v21.5h-3.1zM479.54 129.1h3.1v21.5h-3.1zM530.41 129.1h3.1v21.5h-3.1zM581.28 129.1h3.1v21.5h-3.1zM606.72 129.1h3.1v21.5h-3.1zM638.51 129.1h3.1v21.5h-3.1zM683.03 129.1h3.1v21.5h-3.1zM708.46 129.1h3.1v21.5h-3.1zM740.26 129.1h3.1v21.5h-3.1zM752.98 129.1h3.1v21.5h-3.1zM797.49 129.1h3.1v21.5h-3.1zM288.77 154.1h3.1v21.5h-3.1zM301.49 154.1h3.1v21.5h-3.1zM886.52 154.1h3.1v21.5h-3.1zM905.59 154.1h3.1v21.5h-3.1zM1153.59 154.1h3.1v21.5h-3.1zM1172.67 154.1h3.1v21.5h-3.1zM1064.57 204.1h3.1v21.5h-3.1zM142.51 229.1h3.1v21.5h-3.1zM155.23 229.1h3.1v21.5h-3.1zM473.18 229.1h3.1v21.5h-3.1zM956.47 229.1h3.1v21.5h-3.1zM975.54 229.1h3.1v21.5h-3.1zM988.26 229.1h3.1v21.5h-3.1zM1185.39 254.1h3.1v21.5h-3.1zM1414.31 254.1h3.1v21.5h-3.1zM1446.11 254.1h3.1v21.5h-3.1zM250.62 304.1h3.1v21.5h-3.1zM498.62 304.1h3.1v21.5h-3.1zM962.82 304.1h3.1v21.5h-3.1zM975.54 304.1h3.1v21.5h-3.1zM1255.34 304.1h3.1v21.5h-3.1zM1369.8 304.1h3.1v21.5h-3.1zM282.41 329.1h3.1v21.5h-3.1zM931.03 329.1h3.1v21.5h-3.1zM962.82 329.1h3.1v21.5h-3.1zM1261.7 329.1h3.1v21.5h-3.1zM1280.77 329.1h3.1v21.5h-3.1zM1484.26 329.1h3.1v21.5h-3.1zM555.85 379.1h3.1v21.5h-3.1zM931.03 454.1h3.1v21.5h-3.1zM1248.98 454.1h3.1v21.5h-3.1zM1401.6 454.1h3.1v21.5h-3.1zM129.79 504.1h3.1v21.5h-3.1zM142.51 504.1h3.1v21.5h-3.1zM574.93 504.1h3.1v21.5h-3.1zM1522.42 504.1h3.1v21.5h-3.1zM1458.83 554.1h3.1v21.5h-3.1zM1560.57 554.1h3.1v21.5h-3.1zM1586.01 554.1h3.1v21.5h-3.1zM1630.52 554.1h3.1v21.5h-3.1zM1471.54 604.1h3.1v21.5h-3.1zM225.18 654.1h3.1v21.5h-3.1zM256.97 654.1h3.1v21.5h-3.1zM663.95 654.1h3.1v21.5h-3.1zM117.08 729.1h3.1v21.5h-3.1z"/>
<path fill="#218e42" d="M129.79 129.1h3.1v21.5h-3.1zM136.15 129.1h3.1v21.5h-3.1zM396.87 129.1h3.1v21.5h-3.1zM98 154.1h3.1v21.5h-3.1zM110.72 154.1h3.1v21.5h-3.1zM117.08 154.1h3.1v21.5h-3.1zM129.79 154.1h3.1v21.5h-3.1zM148.87 154.1h3.1v21.5h-3.1zM161.59 154.1h3.1v21.5h-3.1zM167.95 154.1h3.1v21.5h-3.1zM174.31 154.1h3.1v21.5h-3.1zM180.67 154.1h3.1v21.5h-3.1zM193.38 154.1h3.1v21.5h-3.1zM199.74 154.1h3.1v21.5h-3.1zM212.46 154.1h3.1v21.5h-3.1zM225.18 154.1h3.1v21.5h-3.1zM231.54 154.1h3.1v21.5h-3.1zM237.9 154.1h3.1v21.5h-3.1zM244.26 154.1h3.1v21.5h-3.1zM256.97 154.1h3.1v21.5h-3.1zM263.33 154.1h3.1v21.5h-3.1zM276.05 154.1h3.1v21.5h-3.1zM320.56 154.1h3.1v21.5h-3.1zM326.92 154.1h3.1v21.5h-3.1zM339.64 154.1h3.1v21.5h-3.1zM346 154.1h3.1v21.5h-3.1zM352.36 154.1h3.1v21.5h-3.1zM371.44 154.1h3.1v21.5h-3.1zM880.16 154.1h3.1v21.5h-3.1zM892.88 154.1h3.1v21.5h-3.1zM924.67 154.1h3.1v21.5h-3.1zM931.03 154.1h3.1v21.5h-3.1zM937.39 154.1h3.1v21.5h-3.1zM943.75 154.1h3.1v21.5h-3.1zM950.11 154.1h3.1v21.5h-3.1zM969.18 154.1h3.1v21.5h-3.1zM1007.34 154.1h3.1v21.5h-3.1zM1032.77 154.1h3.1v21.5h-3.1zM1039.13 154.1h3.1v21.5h-3.1zM1051.85 154.1h3.1v21.5h-3.1zM1058.21 154.1h3.1v21.5h-3.1zM1070.93 154.1h3.1v21.5h-3.1zM1077.29 154.1h3.1v21.5h-3.1zM1090 154.1h3.1v21.5h-3.1zM1115.44 154.1h3.1v21.5h-3.1zM1121.8 154.1h3.1v21.5h-3.1zM1134.52 154.1h3.1v21.5h-3.1zM1147.23 154.1h3.1v21.5h-3.1zM1166.31 154.1h3.1v21.5h-3.1zM441.39 179.1h3.1v21.5h-3.1zM924.67 179.1h3.1v21.5h-3.1zM98 204.1h3.1v21.5h-3.1zM104.36 204.1h3.1v21.5h-3.1zM110.72 204.1h3.1v21.5h-3.1zM136.15 204.1h3.1v21.5h-3.1zM142.51 204.1h3.1v21.5h-3.1zM148.87 204.1h3.1v21.5h-3.1zM155.23 204.1h3.1v21.5h-3.1zM161.59 204.1h3.1v21.5h-3.1zM167.95 204.1h3.1v21.5h-3.1zM174.31 204.1h3.1v21.5h-3.1zM180.67 204.1h3.1v21.5h-3.1zM187.03 204.1h3.1v21.5h-3.1zM193.38 204.1h3.1v21.5h-3.1zM199.74 204.1h3.1v21.5h-3.1zM206.1 204.1h3.1v21.5h-3.1zM212.46 204.1h3.1v21.5h-3.1zM218.82 204.1h3.1v21.5h-3.1zM225.18 204.1h3.1v21.5h-3.1zM231.54 204.1h3.1v21.5h-3.1zM237.9 204.1h3.1v21.5h-3.1zM384.15 204.1h3.1v21.5h-3.1zM390.51 204.1h3.1v21.5h-3.1zM466.82 204.1h3.1v21.5h-3.1zM479.54 204.1h3.1v21.5h-3.1zM485.9 204.1h3.1v21.5h-3.1zM492.26 204.1h3.1v21.5h-3.1zM504.98 204.1h3.1v21.5h-3.1zM524.05 204.1h3.1v21.5h-3.1zM530.41 204.1h3.1v21.5h-3.1zM536.77 204.1h3.1v21.5h-3.1zM543.13 204.1h3.1v21.5h-3.1zM549.49 204.1h3.1v21.5h-3.1zM880.16 204.1h3.1v21.5h-3.1zM886.52 204.1h3.1v21.5h-3.1zM892.88 204.1h3.1v21.5h-3.1zM899.23 204.1h3.1v21.5h-3.1zM905.59 204.1h3.1v21.5h-3.1zM911.95 204.1h3.1v21.5h-3.1zM918.31 204.1h3.1v21.5h-3.1zM924.67 204.1h3.1v21.5h-3.1zM931.03 204.1h3.1v21.5h-3.1zM937.39 204.1h3.1v21.5h-3.1zM943.75 204.1h3.1v21.5h-3.1zM950.11 204.1h3.1v21.5h-3.1zM1039.13 204.1h3.1v21.5h-3.1zM1051.85 204.1h3.1v21.5h-3.1zM1058.21 204.1h3.1v21.5h-3.1zM1070.93 204.1h3.1v21.5h-3.1zM1077.29 204.1h3.1v21.5h-3.1zM1185.39 204.1h3.1v21.5h-3.1zM1191.75 204.1h3.1v21.5h-3.1zM1198.11 204.1h3.1v21.5h-3.1zM1204.47 204.1h3.1v21.5h-3.1zM1350.72 204.1h3.1v21.5h-3.1zM1369.8 204.1h3.1v21.5h-3.1zM1376.16 204.1h3.1v21.5h-3.1zM1382.52 204.1h3.1v21.5h-3.1zM1388.88 204.1h3.1v21.5h-3.1zM98 229.1h3.1v21.5h-3.1zM161.59 229.1h3.1v21.5h-3.1zM167.95 229.1h3.1v21.5h-3.1zM174.31 229.1h3.1v21.5h-3.1zM193.38 229.1h3.1v21.5h-3.1zM276.05 229.1h3.1v21.5h-3.1zM282.41 229.1h3.1v21.5h-3.1zM396.87 229.1h3.1v21.5h-3.1zM581.28 229.1h3.1v21.5h-3.1zM613.08 229.1h3.1v21.5h-3.1zM886.52 229.1h3.1v21.5h-3.1zM905.59 229.1h3.1v21.5h-3.1zM1039.13 229.1h3.1v21.5h-3.1zM1210.83 229.1h3.1v21.5h-3.1zM1350.72 229.1h3.1v21.5h-3.1zM104.36 254.1h3.1v21.5h-3.1zM136.15 254.1h3.1v21.5h-3.1zM167.95 254.1h3.1v21.5h-3.1zM174.31 254.1h3.1v21.5h-3.1zM314.21 254.1h3.1v21.5h-3.1zM485.9 254.1h3.1v21.5h-3.1zM644.87 254.1h3.1v21.5h-3.1zM657.59 254.1h3.1v21.5h-3.1zM670.31 254.1h3.1v21.5h-3.1zM676.67 254.1h3.1v21.5h-3.1zM683.03 254.1h3.1v21.5h-3.1zM695.75 254.1h3.1v21.5h-3.1zM880.16 254.1h3.1v21.5h-3.1zM886.52 254.1h3.1v21.5h-3.1zM892.88 254.1h3.1v21.5h-3.1zM918.31 254.1h3.1v21.5h-3.1zM956.47 254.1h3.1v21.5h-3.1zM962.82 254.1h3.1v21.5h-3.1zM969.18 254.1h3.1v21.5h-3.1zM994.62 254.1h3.1v21.5h-3.1zM1051.85 254.1h3.1v21.5h-3.1zM1083.64 254.1h3.1v21.5h-3.1zM1090 254.1h3.1v21.5h-3.1zM1223.54 254.1h3.1v21.5h-3.1zM1242.62 254.1h3.1v21.5h-3.1zM1357.08 254.1h3.1v21.5h-3.1zM1363.44 254.1h3.1v21.5h-3.1zM1420.67 254.1h3.1v21.5h-3.1zM1427.03 254.1h3.1v21.5h-3.1zM142.51 304.1h3.1v21.5h-3.1zM161.59 304.1h3.1v21.5h-3.1zM174.31 304.1h3.1v21.5h-3.1zM193.38 304.1h3.1v21.5h-3.1zM225.18 304.1h3.1v21.5h-3.1zM276.05 304.1h3.1v21.5h-3.1zM307.85 304.1h3.1v21.5h-3.1zM320.56 304.1h3.1v21.5h-3.1zM396.87 304.1h3.1v21.5h-3.1zM504.98 304.1h3.1v21.5h-3.1zM880.16 304.1h3.1v21.5h-3.1zM905.59 304.1h3.1v21.5h-3.1zM911.95 304.1h3.1v21.5h-3.1zM918.31 304.1h3.1v21.5h-3.1zM956.47 304.1h3.1v21.5h-3.1zM1090 304.1h3.1v21.5h-3.1zM1102.72 304.1h3.1v21.5h-3.1zM1210.83 304.1h3.1v21.5h-3.1zM1452.47 304.1h3.1v21.5h-3.1zM98 329.1h3.1v21.5h-3.1zM110.72 329.1h3.1v21.5h-3.1zM256.97 329.1h3.1v21.5h-3.1zM415.95 329.1h3.1v21.5h-3.1zM594 329.1h3.1v21.5h-3.1zM721.18 329.1h3.1v21.5h-3.1zM1083.64 329.1h3.1v21.5h-3.1zM1121.8 329.1h3.1v21.5h-3.1zM1401.6 329.1h3.1v21.5h-3.1zM104.36 354.1h3.1v21.5h-3.1zM613.08 354.1h3.1v21.5h-3.1zM1369.8 354.1h3.1v21.5h-3.1zM498.62 379.1h3.1v21.5h-3.1zM1516.06 379.1h3.1v21.5h-3.1zM1566.93 379.1h3.1v21.5h-3.1zM613.08 404.1h3.1v21.5h-3.1zM880.16 404.1h3.1v21.5h-3.1zM148.87 429.1h3.1v21.5h-3.1zM187.03 429.1h3.1v21.5h-3.1zM193.38 429.1h3.1v21.5h-3.1zM237.9 429.1h3.1v21.5h-3.1zM276.05 429.1h3.1v21.5h-3.1zM326.92 429.1h3.1v21.5h-3.1zM384.15 429.1h3.1v21.5h-3.1zM396.87 429.1h3.1v21.5h-3.1zM536.77 429.1h3.1v21.5h-3.1zM613.08 429.1h3.1v21.5h-3.1zM797.49 429.1h3.1v21.5h-3.1zM924.67 429.1h3.1v21.5h-3.1zM937.39 429.1h3.1v21.5h-3.1zM943.75 429.1h3.1v21.5h-3.1zM1020.05 429.1h3.1v21.5h-3.1zM1058.21 429.1h3.1v21.5h-3.1zM1147.23 429.1h3.1v21.5h-3.1zM1210.83 429.1h3.1v21.5h-3.1zM1605.08 429.1h3.1v21.5h-3.1zM1096.36 454.1h3.1v21.5h-3.1zM1134.52 454.1h3.1v21.5h-3.1zM905.59 479.1h3.1v21.5h-3.1zM1096.36 479.1h3.1v21.5h-3.1zM1102.72 504.1h3.1v21.5h-3.1zM256.97 554.1h3.1v21.5h-3.1zM886.52 554.1h3.1v21.5h-3.1zM1070.93 554.1h3.1v21.5h-3.1zM1102.72 554.1h3.1v21.5h-3.1zM1102.72 579.1h3.1v21.5h-3.1zM613.08 604.1h3.1v21.5h-3.1zM880.16 604.1h3.1v21.5h-3.1zM1102.72 604.1h3.1v21.5h-3.1zM1121.8 604.1h3.1v21.5h-3.1zM1134.52 604.1h3.1v21.5h-3.1zM307.85 629.1h3.1v21.5h-3.1zM905.59 629.1h3.1v21.5h-3.1zM1070.93 629.1h3.1v21.5h-3.1zM1121.8 654.1h3.1v21.5h-3.1zM396.87 679.1h3.1v21.5h-3.1zM479.54 679.1h3.1v21.5h-3.1zM759.34 679.1h3.1v21.5h-3.1zM1210.83 679.1h3.1v21.5h-3.1zM161.59 704.1h3.1v21.5h-3.1zM377.8 704.1h3.1v21.5h-3.1zM441.39 704.1h3.1v21.5h-3.1zM663.95 704.1h3.1v21.5h-3.1zM1369.8 704.1h3.1v21.5h-3.1zM797.49 754.1h3.1v21.5h-3.1zM962.82 754.1h3.1v21.5h-3.1zM1566.93 754.1h3.1v21.5h-3.1z"/>
<path fill="#b0406a" d="M155.23 129.1h3.1v21.5h-3.1zM206.1 129.1h3.1v21.5h-3.1zM346 129.1h3.1v21.5h-3.1zM384.15 129.1h3.1v21.5h-3.1zM390.51 129.1h3.1v21.5h-3.1zM473.18 129.1h3.1v21.5h-3.1zM543.13 129.1h3.1v21.5h-3.1zM689.39 129.1h3.1v21.5h-3.1zM765.7 129.1h3.1v21.5h-3.1zM918.31 154.1h3.1v21.5h-3.1zM956.47 154.1h3.1v21.5h-3.1zM1013.7 154.1h3.1v21.5h-3.1zM1096.36 154.1h3.1v21.5h-3.1zM123.44 229.1h3.1v21.5h-3.1zM899.23 304.1h3.1v21.5h-3.1zM136.15 329.1h3.1v21.5h-3.1zM339.64 329.1h3.1v21.5h-3.1zM752.98 329.1h3.1v21.5h-3.1zM1013.7 329.1h3.1v21.5h-3.1zM1496.98 329.1h3.1v21.5h-3.1zM1611.44 504.1h3.1v21.5h-3.1zM1636.88 554.1h3.1v21.5h-3.1zM613.08 654.1h3.1v21.5h-3.1zM663.95 679.1h3.1v21.5h-3.1z"/>
<path fill="#f8a21d" d="M733.9 129.1h3.1v21.5h-3.1zM810.21 129.1h3.1v21.5h-3.1zM981.9 154.1h3.1v21.5h-3.1zM568.57 229.1h3.1v21.5h-3.1zM1090 229.1h3.1v21.5h-3.1zM218.82 254.1h3.1v21.5h-3.1zM581.28 254.1h3.1v21.5h-3.1zM225.18 354.1h3.1v21.5h-3.1zM676.67 354.1h3.1v21.5h-3.1zM746.62 354.1h3.1v21.5h-3.1zM759.34 354.1h3.1v21.5h-3.1zM765.7 354.1h3.1v21.5h-3.1zM1223.54 354.1h3.1v21.5h-3.1zM1357.08 354.1h3.1v21.5h-3.1zM1382.52 354.1h3.1v21.5h-3.1zM1420.67 354.1h3.1v21.5h-3.1zM1516.06 354.1h3.1v21.5h-3.1zM1522.42 354.1h3.1v21.5h-3.1zM1528.78 354.1h3.1v21.5h-3.1zM1535.13 354.1h3.1v21.5h-3.1zM1547.85 354.1h3.1v21.5h-3.1zM193.38 404.1h3.1v21.5h-3.1zM530.41 554.1h3.1v21.5h-3.1zM613.08 704.1h3.1v21.5h-3.1z"/>
<path fill="#fde1c4" d="M1000.98 154.1h3.1v21.5h-3.1zM517.69 204.1h3.1v21.5h-3.1zM1477.9 329.1h3.1v21.5h-3.1zM536.77 354.1h3.1v21.5h-3.1zM352.36 579.1h3.1v21.5h-3.1z"/>
<path fill="#eb2027" d="M1045.49 154.1h3.1v21.5h-3.1zM1083.64 154.1h3.1v21.5h-3.1zM956.47 179.1h3.1v21.5h-3.1zM1223.54 179.1h3.1v21.5h-3.1zM1248.98 179.1h3.1v21.5h-3.1zM1045.49 204.1h3.1v21.5h-3.1zM619.44 229.1h3.1v21.5h-3.1zM1045.49 229.1h3.1v21.5h-3.1zM1083.64 229.1h3.1v21.5h-3.1zM148.87 254.1h3.1v21.5h-3.1zM161.59 254.1h3.1v21.5h-3.1zM212.46 254.1h3.1v21.5h-3.1zM307.85 254.1h3.1v21.5h-3.1zM409.59 254.1h3.1v21.5h-3.1zM479.54 254.1h3.1v21.5h-3.1zM492.26 254.1h3.1v21.5h-3.1zM504.98 254.1h3.1v21.5h-3.1zM651.23 254.1h3.1v21.5h-3.1zM663.95 254.1h3.1v21.5h-3.1zM1236.26 254.1h3.1v21.5h-3.1zM1433.39 254.1h3.1v21.5h-3.1zM1439.75 254.1h3.1v21.5h-3.1zM98 279.1h3.1v21.5h-3.1zM136.15 279.1h3.1v21.5h-3.1zM148.87 279.1h3.1v21.5h-3.1zM180.67 279.1h3.1v21.5h-3.1zM187.03 279.1h3.1v21.5h-3.1zM212.46 279.1h3.1v21.5h-3.1zM250.62 279.1h3.1v21.5h-3.1zM256.97 279.1h3.1v21.5h-3.1zM263.33 279.1h3.1v21.5h-3.1zM269.69 279.1h3.1v21.5h-3.1zM307.85 279.1h3.1v21.5h-3.1zM320.56 279.1h3.1v21.5h-3.1zM326.92 279.1h3.1v21.5h-3.1zM377.8 279.1h3.1v21.5h-3.1zM415.95 279.1h3.1v21.5h-3.1zM422.31 279.1h3.1v21.5h-3.1zM479.54 279.1h3.1v21.5h-3.1zM485.9 279.1h3.1v21.5h-3.1zM492.26 279.1h3.1v21.5h-3.1zM517.69 279.1h3.1v21.5h-3.1zM600.36 279.1h3.1v21.5h-3.1zM606.72 279.1h3.1v21.5h-3.1zM638.51 279.1h3.1v21.5h-3.1zM644.87 279.1h3.1v21.5h-3.1zM651.23 279.1h3.1v21.5h-3.1zM657.59 279.1h3.1v21.5h-3.1zM663.95 279.1h3.1v21.5h-3.1zM670.31 279.1h3.1v21.5h-3.1zM714.82 279.1h3.1v21.5h-3.1zM721.18 279.1h3.1v21.5h-3.1zM727.54 279.1h3.1v21.5h-3.1zM733.9 279.1h3.1v21.5h-3.1zM740.26 279.1h3.1v21.5h-3.1zM899.23 279.1h3.1v21.5h-3.1zM924.67 279.1h3.1v21.5h-3.1zM956.47 279.1h3.1v21.5h-3.1zM1007.34 279.1h3.1v21.5h-3.1zM1051.85 279.1h3.1v21.5h-3.1zM1083.64 279.1h3.1v21.5h-3.1zM1096.36 279.1h3.1v21.5h-3.1zM1121.8 279.1h3.1v21.5h-3.1zM1185.39 279.1h3.1v21.5h-3.1zM1223.54 279.1h3.1v21.5h-3.1zM1248.98 279.1h3.1v21.5h-3.1zM1369.8 279.1h3.1v21.5h-3.1zM1414.31 279.1h3.1v21.5h-3.1zM1452.47 279.1h3.1v21.5h-3.1zM1458.83 279.1h3.1v21.5h-3.1zM1465.18 279.1h3.1v21.5h-3.1zM1083.64 304.1h3.1v21.5h-3.1zM320.56 329.1h3.1v21.5h-3.1zM479.54 329.1h3.1v21.5h-3.1zM613.08 329.1h3.1v21.5h-3.1zM676.67 329.1h3.1v21.5h-3.1zM1274.41 329.1h3.1v21.5h-3.1zM1369.8 329.1h3.1v21.5h-3.1zM1420.67 329.1h3.1v21.5h-3.1zM1427.03 329.1h3.1v21.5h-3.1zM1503.34 329.1h3.1v21.5h-3.1zM307.85 354.1h3.1v21.5h-3.1zM346 354.1h3.1v21.5h-3.1zM530.41 354.1h3.1v21.5h-3.1zM657.59 354.1h3.1v21.5h-3.1zM727.54 354.1h3.1v21.5h-3.1zM880.16 354.1h3.1v21.5h-3.1zM1083.64 354.1h3.1v21.5h-3.1zM1115.44 354.1h3.1v21.5h-3.1zM346 379.1h3.1v21.5h-3.1zM98 404.1h3.1v21.5h-3.1zM651.23 404.1h3.1v21.5h-3.1zM657.59 404.1h3.1v21.5h-3.1zM727.54 404.1h3.1v21.5h-3.1zM1083.64 404.1h3.1v21.5h-3.1zM1045.49 429.1h3.1v21.5h-3.1zM1083.64 429.1h3.1v21.5h-3.1zM307.85 454.1h3.1v21.5h-3.1zM721.18 454.1h3.1v21.5h-3.1zM161.59 479.1h3.1v21.5h-3.1zM180.67 479.1h3.1v21.5h-3.1zM187.03 479.1h3.1v21.5h-3.1zM256.97 479.1h3.1v21.5h-3.1zM263.33 479.1h3.1v21.5h-3.1zM269.69 479.1h3.1v21.5h-3.1zM473.18 479.1h3.1v21.5h-3.1zM613.08 479.1h3.1v21.5h-3.1zM663.95 479.1h3.1v21.5h-3.1zM721.18 479.1h3.1v21.5h-3.1zM924.67 479.1h3.1v21.5h-3.1zM422.31 504.1h3.1v21.5h-3.1zM663.95 504.1h3.1v21.5h-3.1zM727.54 504.1h3.1v21.5h-3.1zM962.82 504.1h3.1v21.5h-3.1zM1223.54 504.1h3.1v21.5h-3.1zM136.15 529.1h3.1v21.5h-3.1zM307.85 529.1h3.1v21.5h-3.1zM1083.64 529.1h3.1v21.5h-3.1zM136.15 554.1h3.1v21.5h-3.1zM727.54 554.1h3.1v21.5h-3.1zM136.15 579.1h3.1v21.5h-3.1zM256.97 579.1h3.1v21.5h-3.1zM263.33 579.1h3.1v21.5h-3.1zM269.69 579.1h3.1v21.5h-3.1zM307.85 579.1h3.1v21.5h-3.1zM727.54 579.1h3.1v21.5h-3.1zM1083.64 579.1h3.1v21.5h-3.1zM1096.36 579.1h3.1v21.5h-3.1zM1185.39 579.1h3.1v21.5h-3.1zM1369.8 579.1h3.1v21.5h-3.1zM136.15 604.1h3.1v21.5h-3.1zM492.26 604.1h3.1v21.5h-3.1zM1185.39 604.1h3.1v21.5h-3.1zM594 629.1h3.1v21.5h-3.1zM651.23 629.1h3.1v21.5h-3.1zM670.31 629.1h3.1v21.5h-3.1zM1039.13 629.1h3.1v21.5h-3.1zM1045.49 629.1h3.1v21.5h-3.1zM1083.64 629.1h3.1v21.5h-3.1zM98 654.1h3.1v21.5h-3.1zM727.54 654.1h3.1v21.5h-3.1zM918.31 654.1h3.1v21.5h-3.1zM1185.39 654.1h3.1v21.5h-3.1zM256.97 679.1h3.1v21.5h-3.1zM104.36 704.1h3.1v21.5h-3.1zM161.59 729.1h3.1v21.5h-3.1zM225.18 729.1h3.1v21.5h-3.1zM581.28 729.1h3.1v21.5h-3.1zM1198.11 729.1h3.1v21.5h-3.1zM441.39 754.1h3.1v21.5h-3.1zM670.31 754.1h3.1v21.5h-3.1zM1649.6 754.1h3.1v21.5h-3.1z"/>
<text x="95.2" y="146.4" font-size="20.2" text-anchor="end" fill="#000">47%</text>
<text x="1659.6" y="145.8" font-size="20.3" text-anchor="start" fill="#000">TP53</text>
<rect x="1756.2" y="132.4" width="56.02" height="15" fill="#38879b"/>
<rect x="1812.22" y="132.4" width="14.99" height="15" fill="#ebb8b8"/>
<rect x="1827.21" y="132.4" width="14.99" height="15" fill="#f5e816"/>
<rect x="1842.2" y="132.4" width="1.58" height="15" fill="#f8a21d"/>
<rect x="1843.78" y="132.4" width="7.1" height="15" fill="#b0406a"/>
<rect x="1850.88" y="132.4" width="2.37" height="15" fill="#218e42"/>
<text x="95.2" y="171.4" font-size="20.2" text-anchor="end" fill="#000">35%</text>
<text x="1659.6" y="170.8" font-size="20.3" text-anchor="start" fill="#000">STK11</text>
<rect x="1756.2" y="157.4" width="14.99" height="15" fill="#38879b"/>
<rect x="1771.19" y="157.4" width="10.26" height="15" fill="#ebb8b8"/>
<rect x="1781.45" y="157.4" width="4.73" height="15" fill="#f5e816"/>
<rect x="1786.18" y="157.4" width="0.79" height="15" fill="#f8a21d"/>
<rect x="1786.97" y="157.4" width="0.79" height="15" fill="#fde1c4"/>
<rect x="1787.76" y="157.4" width="3.16" height="15" fill="#b0406a"/>
<rect x="1790.92" y="157.4" width="1.58" height="15" fill="#eb2027"/>
<rect x="1792.49" y="157.4" width="36.29" height="15" fill="#218e42"/>
<text x="95.2" y="196.4" font-size="20.2" text-anchor="end" fill="#000">27%</text>
<text x="1659.6" y="195.8" font-size="20.3" text-anchor="start" fill="#000">KRAS</text>
<rect x="1756.2" y="182.4" width="52.07" height="15" fill="#38879b"/>
<rect x="1808.27" y="182.4" width="2.37" height="15" fill="#eb2027"/>
<rect x="1810.64" y="182.4" width="1.58" height="15" fill="#218e42"/>
<text x="95.2" y="221.4" font-size="20.2" text-anchor="end" fill="#000">26%</text>
<text x="1659.6" y="220.8" font-size="20.3" text-anchor="start" fill="#000">NOTCH1</text>
<rect x="1756.2" y="207.4" width="4.73" height="15" fill="#38879b"/>
<rect x="1760.93" y="207.4" width="0.79" height="15" fill="#ebb8b8"/>
<rect x="1761.72" y="207.4" width="0.79" height="15" fill="#f5e816"/>
<rect x="1762.51" y="207.4" width="0.79" height="15" fill="#fde1c4"/>
<rect x="1763.3" y="207.4" width="0.79" height="15" fill="#eb2027"/>
<rect x="1764.09" y="207.4" width="45.76" height="15" fill="#218e42"/>
<text x="95.2" y="246.4" font-size="20.2" text-anchor="end" fill="#000">26%</text>
<text x="1659.6" y="245.8" font-size="20.3" text-anchor="start" fill="#000">KEAP1</text>
<rect x="1756.2" y="232.4" width="24.46" height="15" fill="#38879b"/>
<rect x="1780.66" y="232.4" width="7.1" height="15" fill="#ebb8b8"/>
<rect x="1787.76" y="232.4" width="4.73" height="15" fill="#f5e816"/>
<rect x="1792.49" y="232.4" width="1.58" height="15" fill="#f8a21d"/>
<rect x="1794.07" y="232.4" width="0.79" height="15" fill="#b0406a"/>
<rect x="1794.86" y="232.4" width="2.37" height="15" fill="#eb2027"/>
<rect x="1797.23" y="232.4" width="11.84" height="15" fill="#218e42"/>
<text x="95.2" y="271.4" font-size="20.2" text-anchor="end" fill="#000">24%</text>
<text x="1659.6" y="270.8" font-size="20.3" text-anchor="start" fill="#000">CDKN2A</text>
<rect x="1756.2" y="257.4" width="11.05" height="15" fill="#38879b"/>
<rect x="1767.25" y="257.4" width="1.58" height="15" fill="#ebb8b8"/>
<rect x="1768.82" y="257.4" width="2.37" height="15" fill="#f5e816"/>
<rect x="1771.19" y="257.4" width="1.58" height="15" fill="#f8a21d"/>
<rect x="1772.77" y="257.4" width="10.26" height="15" fill="#eb2027"/>
<rect x="1783.03" y="257.4" width="22.88" height="15" fill="#218e42"/>
<text x="95.2" y="296.4" font-size="20.2" text-anchor="end" fill="#000">21%</text>
<text x="1659.6" y="295.8" font-size="20.3" text-anchor="start" fill="#000">NFE2L2</text>
<rect x="1756.2" y="282.4" width="4.73" height="15" fill="#38879b"/>
<rect x="1760.93" y="282.4" width="38.66" height="15" fill="#eb2027"/>
<text x="95.2" y="321.4" font-size="20.2" text-anchor="end" fill="#000">18%</text>
<text x="1659.6" y="320.8" font-size="20.3" text-anchor="start" fill="#000">SMARCA4</text>
<rect x="1756.2" y="307.4" width="9.47" height="15" fill="#38879b"/>
<rect x="1765.67" y="307.4" width="7.1" height="15" fill="#ebb8b8"/>
<rect x="1772.77" y="307.4" width="4.73" height="15" fill="#f5e816"/>
<rect x="1777.5" y="307.4" width="0.79" height="15" fill="#b0406a"/>
<rect x="1778.29" y="307.4" width="0.79" height="15" fill="#eb2027"/>
<rect x="1779.08" y="307.4" width="14.99" height="15" fill="#218e42"/>
<text x="95.2" y="346.4" font-size="20.2" text-anchor="end" fill="#000">17%</text>
<text x="1659.6" y="345.8" font-size="20.3" text-anchor="start" fill="#000">RBM10</text>
<rect x="1756.2" y="332.4" width="4.73" height="15" fill="#38879b"/>
<rect x="1760.93" y="332.4" width="7.1" height="15" fill="#ebb8b8"/>
<rect x="1768.04" y="332.4" width="4.73" height="15" fill="#f5e816"/>
<rect x="1772.77" y="332.4" width="0.79" height="15" fill="#fde1c4"/>
<rect x="1773.56" y="332.4" width="3.95" height="15" fill="#b0406a"/>
<rect x="1777.5" y="332.4" width="7.1" height="15" fill="#eb2027"/>
<rect x="1784.6" y="332.4" width="7.1" height="15" fill="#218e42"/>
<text x="95.2" y="371.4" font-size="20.2" text-anchor="end" fill="#000">16%</text>
<text x="1659.6" y="370.8" font-size="20.3" text-anchor="start" fill="#000">EGFR</text>
<rect x="1756.2" y="357.4" width="13.41" height="15" fill="#38879b"/>
<rect x="1769.61" y="357.4" width="11.05" height="15" fill="#f8a21d"/>
<rect x="1780.66" y="357.4" width="0.79" height="15" fill="#fde1c4"/>
<rect x="1781.45" y="357.4" width="6.31" height="15" fill="#eb2027"/>
<rect x="1787.76" y="357.4" width="2.37" height="15" fill="#218e42"/>
<text x="95.2" y="396.4" font-size="20.2" text-anchor="end" fill="#000">10%</text>
<text x="1659.6" y="395.8" font-size="20.3" text-anchor="start" fill="#000">FAT1</text>
<rect x="1756.2" y="382.4" width="15.78" height="15" fill="#38879b"/>
<rect x="1771.98" y="382.4" width="1.58" height="15" fill="#ebb8b8"/>
<rect x="1773.56" y="382.4" width="0.79" height="15" fill="#f5e816"/>
<rect x="1774.35" y="382.4" width="0.79" height="15" fill="#eb2027"/>
<rect x="1775.14" y="382.4" width="2.37" height="15" fill="#218e42"/>
<text x="95.2" y="421.4" font-size="20.2" text-anchor="end" fill="#000">10%</text>
<text x="1659.6" y="420.8" font-size="20.3" text-anchor="start" fill="#000">BRAF</text>
<rect x="1756.2" y="407.4" width="14.2" height="15" fill="#38879b"/>
<rect x="1770.4" y="407.4" width="0.79" height="15" fill="#f8a21d"/>
<rect x="1771.19" y="407.4" width="3.95" height="15" fill="#eb2027"/>
<rect x="1775.14" y="407.4" width="1.58" height="15" fill="#218e42"/>
<text x="95.2" y="446.4" font-size="20.2" text-anchor="end" fill="#000">9%</text>
<text x="1659.6" y="445.8" font-size="20.3" text-anchor="start" fill="#000">HRAS</text>
<rect x="1756.2" y="432.4" width="1.58" height="15" fill="#38879b"/>
<rect x="1757.78" y="432.4" width="1.58" height="15" fill="#eb2027"/>
<rect x="1759.36" y="432.4" width="14.99" height="15" fill="#218e42"/>
<text x="95.2" y="471.4" font-size="20.2" text-anchor="end" fill="#000">9%</text>
<text x="1659.6" y="470.8" font-size="20.3" text-anchor="start" fill="#000">ATM</text>
<rect x="1756.2" y="457.4" width="11.05" height="15" fill="#38879b"/>
<rect x="1767.25" y="457.4" width="1.58" height="15" fill="#ebb8b8"/>
<rect x="1768.82" y="457.4" width="2.37" height="15" fill="#f5e816"/>
<rect x="1771.19" y="457.4" width="1.58" height="15" fill="#eb2027"/>
<rect x="1772.77" y="457.4" width="1.58" height="15" fill="#218e42"/>
<text x="95.2" y="496.4" font-size="20.2" text-anchor="end" fill="#000">8%</text>
<text x="1659.6" y="495.8" font-size="20.3" text-anchor="start" fill="#000">PIK3CA</text>
<rect x="1756.2" y="482.4" width="6.31" height="15" fill="#38879b"/>
<rect x="1762.51" y="482.4" width="8.68" height="15" fill="#eb2027"/>
<rect x="1771.19" y="482.4" width="1.58" height="15" fill="#218e42"/>
<text x="95.2" y="521.4" font-size="20.2" text-anchor="end" fill="#000">7%</text>
<text x="1659.6" y="520.8" font-size="20.3" text-anchor="start" fill="#000">ARID1A</text>
<rect x="1756.2" y="507.4" width="3.16" height="15" fill="#38879b"/>
<rect x="1759.36" y="507.4" width="2.37" height="15" fill="#ebb8b8"/>
<rect x="1761.72" y="507.4" width="3.16" height="15" fill="#f5e816"/>
<rect x="1764.88" y="507.4" width="0.79" height="15" fill="#b0406a"/>
<rect x="1765.67" y="507.4" width="3.95" height="15" fill="#eb2027"/>
<rect x="1769.61" y="507.4" width="0.79" height="15" fill="#218e42"/>
<text x="95.2" y="546.4" font-size="20.2" text-anchor="end" fill="#000">6%</text>
<text x="1659.6" y="545.8" font-size="20.3" text-anchor="start" fill="#000">KMT2D</text>
<rect x="1756.2" y="532.4" width="9.47" height="15" fill="#38879b"/>
<rect x="1765.67" y="532.4" width="0.79" height="15" fill="#ebb8b8"/>
<rect x="1766.46" y="532.4" width="2.37" height="15" fill="#eb2027"/>
<text x="95.2" y="571.4" font-size="20.2" text-anchor="end" fill="#000">6%</text>
<text x="1659.6" y="570.8" font-size="20.3" text-anchor="start" fill="#000">SETD2</text>
<rect x="1756.2" y="557.4" width="1.58" height="15" fill="#38879b"/>
<rect x="1757.78" y="557.4" width="0.79" height="15" fill="#ebb8b8"/>
<rect x="1758.57" y="557.4" width="3.16" height="15" fill="#f5e816"/>
<rect x="1761.72" y="557.4" width="0.79" height="15" fill="#f8a21d"/>
<rect x="1762.51" y="557.4" width="0.79" height="15" fill="#b0406a"/>
<rect x="1763.3" y="557.4" width="1.58" height="15" fill="#eb2027"/>
<rect x="1764.88" y="557.4" width="3.16" height="15" fill="#218e42"/>
<text x="95.2" y="596.4" font-size="20.2" text-anchor="end" fill="#000">5%</text>
<text x="1659.6" y="595.8" font-size="20.3" text-anchor="start" fill="#000">CUL3</text>
<rect x="1756.2" y="582.4" width="1.58" height="15" fill="#38879b"/>
<rect x="1757.78" y="582.4" width="0.79" height="15" fill="#fde1c4"/>
<rect x="1758.57" y="582.4" width="7.89" height="15" fill="#eb2027"/>
<rect x="1766.46" y="582.4" width="0.79" height="15" fill="#218e42"/>
<text x="95.2" y="621.4" font-size="20.2" text-anchor="end" fill="#000">5%</text>
<text x="1659.6" y="620.8" font-size="20.3" text-anchor="start" fill="#000">CTNNB1</text>
<rect x="1756.2" y="607.4" width="3.95" height="15" fill="#38879b"/>
<rect x="1760.14" y="607.4" width="0.79" height="15" fill="#f5e816"/>
<rect x="1760.93" y="607.4" width="2.37" height="15" fill="#eb2027"/>
<rect x="1763.3" y="607.4" width="3.95" height="15" fill="#218e42"/>
<text x="95.2" y="646.4" font-size="20.2" text-anchor="end" fill="#000">5%</text>
<text x="1659.6" y="645.8" font-size="20.3" text-anchor="start" fill="#000">EP300</text>
<rect x="1756.2" y="632.4" width="3.16" height="15" fill="#38879b"/>
<rect x="1759.36" y="632.4" width="0.79" height="15" fill="#ebb8b8"/>
<rect x="1760.14" y="632.4" width="4.73" height="15" fill="#eb2027"/>
<rect x="1764.88" y="632.4" width="2.37" height="15" fill="#218e42"/>
<text x="95.2" y="671.4" font-size="20.2" text-anchor="end" fill="#000">5%</text>
<text x="1659.6" y="670.8" font-size="20.3" text-anchor="start" fill="#000">PTEN</text>
<rect x="1756.2" y="657.4" width="1.58" height="15" fill="#38879b"/>
<rect x="1757.78" y="657.4" width="0.79" height="15" fill="#ebb8b8"/>
<rect x="1758.57" y="657.4" width="2.37" height="15" fill="#f5e816"/>
<rect x="1760.93" y="657.4" width="0.79" height="15" fill="#b0406a"/>
<rect x="1761.72" y="657.4" width="3.16" height="15" fill="#eb2027"/>
<rect x="1764.88" y="657.4" width="0.79" height="15" fill="#218e42"/>
<text x="95.2" y="696.4" font-size="20.2" text-anchor="end" fill="#000">3%</text>
<text x="1659.6" y="695.8" font-size="20.3" text-anchor="start" fill="#000">RB1</text>
<rect x="1756.2" y="682.4" width="1.58" height="15" fill="#38879b"/>
<rect x="1757.78" y="682.4" width="0.79" height="15" fill="#b0406a"/>
<rect x="1758.57" y="682.4" width="0.79" height="15" fill="#eb2027"/>
<rect x="1759.36" y="682.4" width="3.16" height="15" fill="#218e42"/>
<text x="95.2" y="721.4" font-size="20.2" text-anchor="end" fill="#000">3%</text>
<text x="1659.6" y="720.8" font-size="20.3" text-anchor="start" fill="#000">FGFR2</text>
<rect x="1756.2" y="707.4" width="0.79" height="15" fill="#38879b"/>
<rect x="1756.99" y="707.4" width="0.79" height="15" fill="#f8a21d"/>
<rect x="1757.78" y="707.4" width="0.79" height="15" fill="#eb2027"/>
<rect x="1758.57" y="707.4" width="3.95" height="15" fill="#218e42"/>
<text x="95.2" y="746.4" font-size="20.2" text-anchor="end" fill="#000">3%</text>
<text x="1659.6" y="745.8" font-size="20.3" text-anchor="start" fill="#000">FBXW7</text>
<rect x="1756.2" y="732.4" width="1.58" height="15" fill="#38879b"/>
<rect x="1757.78" y="732.4" width="0.79" height="15" fill="#f5e816"/>
<rect x="1758.57" y="732.4" width="3.16" height="15" fill="#eb2027"/>
<text x="95.2" y="771.4" font-size="20.2" text-anchor="end" fill="#000">2%</text>
<text x="1659.6" y="770.8" font-size="20.3" text-anchor="start" fill="#000">U2AF1</text>
<rect x="1756.2" y="757.4" width="2.37" height="15" fill="#eb2027"/>
<rect x="1758.57" y="757.4" width="2.37" height="15" fill="#218e42"/>
<line x1="1755" y1="127.2" x2="1859.4" y2="127.2" stroke="#000" stroke-width="2.4"/>
<line x1="1756.2" y1="122" x2="1756.2" y2="128" stroke="#000" stroke-width="2.4"/>
<line x1="1795.65" y1="122" x2="1795.65" y2="128" stroke="#000" stroke-width="2.4"/>
<line x1="1835.1" y1="122" x2="1835.1" y2="128" stroke="#000" stroke-width="2.4"/>
<text x="1756.2" y="116.3" font-size="20" text-anchor="middle" fill="#000">0</text>
<text x="1795.6" y="116.3" font-size="20" text-anchor="middle" fill="#000">50</text>
<text x="1835.1" y="116.3" font-size="20" text-anchor="middle" fill="#000">100</text>
<text x="1869.3" y="371.8" font-size="20.3" text-anchor="start" fill="#000">Alterations</text>
<rect x="1870.2" y="384.1" width="17.3" height="16.6" fill="#38879b"/>
<text x="1894.4" y="399.2" font-size="20.3" text-anchor="start" fill="#000">missense</text>
<rect x="1870.2" y="404.54" width="17.3" height="16.6" fill="#ebb8b8"/>
<text x="1894.4" y="419.64" font-size="20.3" text-anchor="start" fill="#000">nonsense</text>
<rect x="1870.2" y="424.98" width="17.3" height="16.6" fill="#f5e816"/>
<text x="1894.4" y="440.08" font-size="20.3" text-anchor="start" fill="#000">frameshift</text>
<rect x="1870.2" y="445.42" width="17.3" height="16.6" fill="#f8a21d"/>
<text x="1894.4" y="460.52" font-size="20.3" text-anchor="start" fill="#000">indel</text>
<rect x="1870.2" y="465.86" width="17.3" height="16.6" fill="#fde1c4"/>
<text x="1894.4" y="480.96" font-size="20.3" text-anchor="start" fill="#000">other</text>
<rect x="1870.2" y="486.3" width="17.3" height="16.6" fill="#b0406a"/>
<text x="1894.4" y="501.4" font-size="20.3" text-anchor="start" fill="#000">splice</text>
<rect x="1870.2" y="506.74" width="17.3" height="16.6" fill="#eb2027"/>
<text x="1894.4" y="521.84" font-size="20.3" text-anchor="start" fill="#000">amplified</text>
<rect x="1870.2" y="527.18" width="17.3" height="16.6" fill="#218e42"/>
<text x="1894.4" y="542.28" font-size="20.3" text-anchor="start" fill="#000">deleted</text>
<text x="1.5" y="836.8" font-size="18.5" text-anchor="start" fill="#1a1a1a" font-weight="bold">b</text>
<path fill="#38879b" d="M51.8 915.5h5.1v17.2h-5.1zM60.08 906.9h5.1v25.8h-5.1zM68.36 915.5h5.1v17.2h-5.1zM76.64 924.1h5.1v8.6h-5.1zM84.92 906.9h5.1v25.8h-5.1zM93.2 915.5h5.1v17.2h-5.1zM101.48 924.1h5.1v8.6h-5.1zM118.04 915.5h5.1v17.2h-5.1zM126.32 924.1h5.1v8.6h-5.1zM134.6 915.5h5.1v17.2h-5.1zM142.88 915.5h5.1v17.2h-5.1zM159.44 924.1h5.1v8.6h-5.1zM167.72 924.1h5.1v8.6h-5.1zM176 898.3h5.1v34.4h-5.1zM184.28 924.1h5.1v8.6h-5.1zM192.56 924.1h5.1v8.6h-5.1zM200.84 924.1h5.1v8.6h-5.1zM217.4 924.1h5.1v8.6h-5.1zM225.68 924.1h5.1v8.6h-5.1zM233.96 924.1h5.1v8.6h-5.1zM242.24 924.1h5.1v8.6h-5.1zM258.8 915.5h5.1v17.2h-5.1zM283.64 915.5h5.1v17.2h-5.1zM316.76 924.1h5.1v8.6h-5.1z"/>
<path fill="#f5e816" d="M51.8 906.9h5.1v8.6h-5.1zM68.36 889.7h5.1v8.6h-5.1zM184.28 915.5h5.1v8.6h-5.1z"/>
<path fill="#218e42" d="M51.8 898.3h5.1v8.6h-5.1zM68.36 872.5h5.1v17.2h-5.1zM76.64 906.9h5.1v17.2h-5.1zM84.92 898.3h5.1v8.6h-5.1zM101.48 906.9h5.1v8.6h-5.1zM109.76 915.5h5.1v8.6h-5.1zM134.6 881.1h5.1v25.8h-5.1zM142.88 889.7h5.1v8.6h-5.1zM167.72 906.9h5.1v17.2h-5.1zM209.12 924.1h5.1v8.6h-5.1zM242.24 906.9h5.1v17.2h-5.1zM250.52 924.1h5.1v8.6h-5.1zM267.08 906.9h5.1v8.6h-5.1zM275.36 915.5h5.1v8.6h-5.1z"/>
<path fill="#b0406a" d="M60.08 898.3h5.1v8.6h-5.1zM109.76 924.1h5.1v8.6h-5.1z"/>
<path fill="#ebb8b8" d="M68.36 898.3h5.1v17.2h-5.1zM93.2 889.7h5.1v25.8h-5.1zM118.04 906.9h5.1v8.6h-5.1zM126.32 915.5h5.1v8.6h-5.1zM142.88 906.9h5.1v8.6h-5.1zM192.56 915.5h5.1v8.6h-5.1z"/>
<path fill="#fde1c4" d="M101.48 915.5h5.1v8.6h-5.1zM176 889.7h5.1v8.6h-5.1zM300.2 924.1h5.1v8.6h-5.1z"/>
<path fill="#eb2027" d="M126.32 906.9h5.1v8.6h-5.1zM134.6 906.9h5.1v8.6h-5.1zM142.88 898.3h5.1v8.6h-5.1zM217.4 915.5h5.1v8.6h-5.1zM267.08 915.5h5.1v8.6h-5.1zM275.36 924.1h5.1v8.6h-5.1zM283.64 906.9h5.1v8.6h-5.1zM291.92 924.1h5.1v8.6h-5.1z"/>
<path fill="#f8a21d" d="M151.16 924.1h5.1v8.6h-5.1zM267.08 924.1h5.1v8.6h-5.1zM308.48 924.1h5.1v8.6h-5.1z"/>
<line x1="50" y1="868.6" x2="50" y2="933.7" stroke="#000" stroke-width="2.4"/>
<line x1="45" y1="932.7" x2="50.5" y2="932.7" stroke="#000" stroke-width="2.4"/>
<text x="40.8" y="935.7" font-size="20.5" text-anchor="end" fill="#000">0</text>
<line x1="45" y1="915.5" x2="50.5" y2="915.5" stroke="#000" stroke-width="2.4"/>
<text x="40.8" y="918.5" font-size="20.5" text-anchor="end" fill="#000">2</text>
<line x1="45" y1="898.3" x2="50.5" y2="898.3" stroke="#000" stroke-width="2.4"/>
<text x="40.8" y="901.3" font-size="20.5" text-anchor="end" fill="#000">4</text>
<line x1="45" y1="881.1" x2="50.5" y2="881.1" stroke="#000" stroke-width="2.4"/>
<text x="40.8" y="884.1" font-size="20.5" text-anchor="end" fill="#000">6</text>
<rect x="50" y="934" width="273.4" height="15.6" fill="#ee6044"/>
<line x1="58.49" y1="934" x2="58.49" y2="949.6" stroke="#ffffff" stroke-width="0.6" stroke-opacity="0.2"/>
<line x1="66.77" y1="934" x2="66.77" y2="949.6" stroke="#ffffff" stroke-width="0.6" stroke-opacity="0.2"/>
<line x1="75.05" y1="934" x2="75.05" y2="949.6" stroke="#ffffff" stroke-width="0.6" stroke-opacity="0.2"/>
<line x1="83.33" y1="934" x2="83.33" y2="949.6" stroke="#ffffff" stroke-width="0.6" stroke-opacity="0.2"/>
<line x1="91.61" y1="934" x2="91.61" y2="949.6" stroke="#ffffff" stroke-width="0.6" stroke-opacity="0.2"/>
<line x1="99.89" y1="934" x2="99.89" y2="949.6" stroke="#ffffff" stroke-width="0.6" stroke-opacity="0.2"/>
<line x1="108.17" y1="934" x2="108.17" y2="949.6" stroke="#ffffff" stroke-width="0.6" stroke-opacity="0.2"/>
<line x1="116.45" y1="934" x2="116.45" y2="949.6" stroke="#ffffff" stroke-width="0.6" stroke-opacity="0.2"/>
<line x1="124.73" y1="934" x2="124.73" y2="949.6" stroke="#ffffff" stroke-width="0.6" stroke-opacity="0.2"/>
<line x1="133.01" y1="934" x2="133.01" y2="949.6" stroke="#ffffff" stroke-width="0.6" stroke-opacity="0.2"/>
<line x1="141.29" y1="934" x2="141.29" y2="949.6" stroke="#ffffff" stroke-width="0.6" stroke-opacity="0.2"/>
<line x1="149.57" y1="934" x2="149.57" y2="949.6" stroke="#ffffff" stroke-width="0.6" stroke-opacity="0.2"/>
<line x1="157.85" y1="934" x2="157.85" y2="949.6" stroke="#ffffff" stroke-width="0.6" stroke-opacity="0.2"/>
<line x1="166.13" y1="934" x2="166.13" y2="949.6" stroke="#ffffff" stroke-width="0.6" stroke-opacity="0.2"/>
<line x1="174.41" y1="934" x2="174.41" y2="949.6" stroke="#ffffff" stroke-width="0.6" stroke-opacity="0.2"/>
<line x1="182.69" y1="934" x2="182.69" y2="949.6" stroke="#ffffff" stroke-width="0.6" stroke-opacity="0.2"/>
<line x1="190.97" y1="934" x2="190.97" y2="949.6" stroke="#ffffff" stroke-width="0.6" stroke-opacity="0.2"/>
<line x1="199.25" y1="934" x2="199.25" y2="949.6" stroke="#ffffff" stroke-width="0.6" stroke-opacity="0.2"/>
<line x1="207.53" y1="934" x2="207.53" y2="949.6" stroke="#ffffff" stroke-width="0.6" stroke-opacity="0.2"/>
<line x1="215.81" y1="934" x2="215.81" y2="949.6" stroke="#ffffff" stroke-width="0.6" stroke-opacity="0.2"/>
<line x1="224.09" y1="934" x2="224.09" y2="949.6" stroke="#ffffff" stroke-width="0.6" stroke-opacity="0.2"/>
<line x1="232.37" y1="934" x2="232.37" y2="949.6" stroke="#ffffff" stroke-width="0.6" stroke-opacity="0.2"/>
<line x1="240.65" y1="934" x2="240.65" y2="949.6" stroke="#ffffff" stroke-width="0.6" stroke-opacity="0.2"/>
<line x1="248.93" y1="934" x2="248.93" y2="949.6" stroke="#ffffff" stroke-width="0.6" stroke-opacity="0.2"/>
<line x1="257.21" y1="934" x2="257.21" y2="949.6" stroke="#ffffff" stroke-width="0.6" stroke-opacity="0.2"/>
<line x1="265.49" y1="934" x2="265.49" y2="949.6" stroke="#ffffff" stroke-width="0.6" stroke-opacity="0.2"/>
<line x1="273.77" y1="934" x2="273.77" y2="949.6" stroke="#ffffff" stroke-width="0.6" stroke-opacity="0.2"/>
<line x1="282.05" y1="934" x2="282.05" y2="949.6" stroke="#ffffff" stroke-width="0.6" stroke-opacity="0.2"/>
<line x1="290.33" y1="934" x2="290.33" y2="949.6" stroke="#ffffff" stroke-width="0.6" stroke-opacity="0.2"/>
<line x1="298.61" y1="934" x2="298.61" y2="949.6" stroke="#ffffff" stroke-width="0.6" stroke-opacity="0.2"/>
<line x1="306.89" y1="934" x2="306.89" y2="949.6" stroke="#ffffff" stroke-width="0.6" stroke-opacity="0.2"/>
<line x1="315.17" y1="934" x2="315.17" y2="949.6" stroke="#ffffff" stroke-width="0.6" stroke-opacity="0.2"/>
<text x="327" y="947.8" font-size="20.2" text-anchor="start" fill="#000">NMF1</text>
<defs><pattern id="gp2" patternUnits="userSpaceOnUse" x="51.15" y="953.9" width="8.28" height="32.09"><rect x="0" y="0" width="6.4" height="29.8" fill="#e5e5e5"/></pattern></defs>
<rect x="51.15" y="953.9" width="271.36" height="382.79" fill="url(#gp2)"/>
<path fill="#f5e816" d="M51.15 953.9h6.4v29.8h-6.4zM183.63 1050.17h6.4v29.8h-6.4zM67.71 1082.26h6.4v29.8h-6.4z"/>
<path fill="#38879b" d="M59.43 953.9h6.4v29.8h-6.4zM67.71 953.9h6.4v29.8h-6.4zM75.99 953.9h6.4v29.8h-6.4zM84.27 953.9h6.4v29.8h-6.4zM92.55 953.9h6.4v29.8h-6.4zM100.83 953.9h6.4v29.8h-6.4zM125.67 953.9h6.4v29.8h-6.4zM133.95 953.9h6.4v29.8h-6.4zM142.23 953.9h6.4v29.8h-6.4zM158.79 953.9h6.4v29.8h-6.4zM59.43 985.99h6.4v29.8h-6.4zM183.63 985.99h6.4v29.8h-6.4zM200.19 985.99h6.4v29.8h-6.4zM51.15 1018.08h6.4v29.8h-6.4zM59.43 1018.08h6.4v29.8h-6.4zM167.07 1018.08h6.4v29.8h-6.4zM175.35 1018.08h6.4v29.8h-6.4zM216.75 1018.08h6.4v29.8h-6.4zM225.03 1018.08h6.4v29.8h-6.4zM233.31 1018.08h6.4v29.8h-6.4zM51.15 1050.17h6.4v29.8h-6.4zM84.27 1082.26h6.4v29.8h-6.4zM117.39 1082.26h6.4v29.8h-6.4zM258.15 1082.26h6.4v29.8h-6.4zM117.39 1114.35h6.4v29.8h-6.4zM241.59 1114.35h6.4v29.8h-6.4zM67.71 1146.44h6.4v29.8h-6.4zM175.35 1146.44h6.4v29.8h-6.4zM191.91 1178.53h6.4v29.8h-6.4zM92.55 1242.71h6.4v29.8h-6.4zM175.35 1242.71h6.4v29.8h-6.4zM282.99 1242.71h6.4v29.8h-6.4zM84.27 1274.8h6.4v29.8h-6.4zM133.95 1274.8h6.4v29.8h-6.4zM175.35 1274.8h6.4v29.8h-6.4zM316.11 1274.8h6.4v29.8h-6.4zM142.23 1306.89h6.4v29.8h-6.4zM258.15 1306.89h6.4v29.8h-6.4zM282.99 1306.89h6.4v29.8h-6.4z"/>
<path fill="#b0406a" d="M109.11 953.9h6.4v29.8h-6.4zM59.43 1082.26h6.4v29.8h-6.4z"/>
<path fill="#ebb8b8" d="M117.39 953.9h6.4v29.8h-6.4zM67.71 985.99h6.4v29.8h-6.4zM191.91 985.99h6.4v29.8h-6.4zM92.55 1050.17h6.4v29.8h-6.4zM125.67 1082.26h6.4v29.8h-6.4zM67.71 1114.35h6.4v29.8h-6.4zM92.55 1114.35h6.4v29.8h-6.4zM92.55 1274.8h6.4v29.8h-6.4zM142.23 1274.8h6.4v29.8h-6.4z"/>
<path fill="#f8a21d" d="M150.51 953.9h6.4v29.8h-6.4zM266.43 1242.71h6.4v29.8h-6.4zM307.83 1242.71h6.4v29.8h-6.4z"/>
<path fill="#218e42" d="M51.15 985.99h6.4v29.8h-6.4zM75.99 985.99h6.4v29.8h-6.4zM167.07 985.99h6.4v29.8h-6.4zM208.47 985.99h6.4v29.8h-6.4zM67.71 1050.17h6.4v29.8h-6.4zM75.99 1050.17h6.4v29.8h-6.4zM84.27 1050.17h6.4v29.8h-6.4zM100.83 1050.17h6.4v29.8h-6.4zM109.11 1050.17h6.4v29.8h-6.4zM167.07 1050.17h6.4v29.8h-6.4zM241.59 1050.17h6.4v29.8h-6.4zM249.87 1050.17h6.4v29.8h-6.4zM133.95 1082.26h6.4v29.8h-6.4zM241.59 1082.26h6.4v29.8h-6.4zM266.43 1114.35h6.4v29.8h-6.4zM274.71 1114.35h6.4v29.8h-6.4zM67.71 1178.53h6.4v29.8h-6.4zM142.23 1210.62h6.4v29.8h-6.4zM133.95 1242.71h6.4v29.8h-6.4zM133.95 1306.89h6.4v29.8h-6.4z"/>
<path fill="#fde1c4" d="M175.35 985.99h6.4v29.8h-6.4zM299.55 1210.62h6.4v29.8h-6.4zM100.83 1242.71h6.4v29.8h-6.4z"/>
<path fill="#eb2027" d="M125.67 1146.44h6.4v29.8h-6.4zM142.23 1146.44h6.4v29.8h-6.4zM282.99 1146.44h6.4v29.8h-6.4zM291.27 1146.44h6.4v29.8h-6.4zM133.95 1210.62h6.4v29.8h-6.4zM216.75 1210.62h6.4v29.8h-6.4zM266.43 1210.62h6.4v29.8h-6.4zM274.71 1210.62h6.4v29.8h-6.4z"/>
<text x="327" y="973.1" font-size="20.3" text-anchor="start" fill="#000">TP53</text>
<rect x="452.4" y="961.1" width="43.2" height="19.2" fill="#38879b"/>
<rect x="495.6" y="961.1" width="4.32" height="19.2" fill="#ebb8b8"/>
<rect x="499.92" y="961.1" width="4.32" height="19.2" fill="#f5e816"/>
<rect x="504.24" y="961.1" width="4.32" height="19.2" fill="#f8a21d"/>
<rect x="508.56" y="961.1" width="4.32" height="19.2" fill="#b0406a"/>
<text x="327" y="1005.19" font-size="20.3" text-anchor="start" fill="#000">STK11</text>
<rect x="452.4" y="993.19" width="12.96" height="19.2" fill="#38879b"/>
<rect x="465.36" y="993.19" width="8.64" height="19.2" fill="#ebb8b8"/>
<rect x="474" y="993.19" width="4.32" height="19.2" fill="#fde1c4"/>
<rect x="478.32" y="993.19" width="17.28" height="19.2" fill="#218e42"/>
<text x="327" y="1037.28" font-size="20.3" text-anchor="start" fill="#000">KRAS</text>
<rect x="452.4" y="1025.28" width="30.24" height="19.2" fill="#38879b"/>
<text x="327" y="1069.37" font-size="20.3" text-anchor="start" fill="#000">NOTCH1</text>
<rect x="452.4" y="1057.37" width="4.32" height="19.2" fill="#38879b"/>
<rect x="456.72" y="1057.37" width="4.32" height="19.2" fill="#ebb8b8"/>
<rect x="461.04" y="1057.37" width="4.32" height="19.2" fill="#f5e816"/>
<rect x="465.36" y="1057.37" width="34.56" height="19.2" fill="#218e42"/>
<text x="327" y="1101.46" font-size="20.3" text-anchor="start" fill="#000">KEAP1</text>
<rect x="452.4" y="1089.46" width="12.96" height="19.2" fill="#38879b"/>
<rect x="465.36" y="1089.46" width="4.32" height="19.2" fill="#ebb8b8"/>
<rect x="469.68" y="1089.46" width="4.32" height="19.2" fill="#f5e816"/>
<rect x="474" y="1089.46" width="4.32" height="19.2" fill="#b0406a"/>
<rect x="478.32" y="1089.46" width="8.64" height="19.2" fill="#218e42"/>
<text x="327" y="1133.55" font-size="20.3" text-anchor="start" fill="#000">CDKN2A</text>
<rect x="452.4" y="1121.55" width="8.64" height="19.2" fill="#38879b"/>
<rect x="461.04" y="1121.55" width="8.64" height="19.2" fill="#ebb8b8"/>
<rect x="469.68" y="1121.55" width="8.64" height="19.2" fill="#218e42"/>
<text x="327" y="1165.64" font-size="20.3" text-anchor="start" fill="#000">NFE2L2</text>
<rect x="452.4" y="1153.64" width="8.64" height="19.2" fill="#38879b"/>
<rect x="461.04" y="1153.64" width="17.28" height="19.2" fill="#eb2027"/>
<text x="327" y="1197.73" font-size="20.3" text-anchor="start" fill="#000">SMARCA4</text>
<rect x="452.4" y="1185.73" width="4.32" height="19.2" fill="#38879b"/>
<rect x="456.72" y="1185.73" width="4.32" height="19.2" fill="#218e42"/>
<text x="327" y="1229.82" font-size="20.3" text-anchor="start" fill="#000">RBM10</text>
<rect x="452.4" y="1217.82" width="4.32" height="19.2" fill="#fde1c4"/>
<rect x="456.72" y="1217.82" width="17.28" height="19.2" fill="#eb2027"/>
<rect x="474" y="1217.82" width="4.32" height="19.2" fill="#218e42"/>
<text x="327" y="1261.91" font-size="20.3" text-anchor="start" fill="#000">EGFR</text>
<rect x="452.4" y="1249.91" width="12.96" height="19.2" fill="#38879b"/>
<rect x="465.36" y="1249.91" width="8.64" height="19.2" fill="#f8a21d"/>
<rect x="474" y="1249.91" width="4.32" height="19.2" fill="#fde1c4"/>
<rect x="478.32" y="1249.91" width="4.32" height="19.2" fill="#218e42"/>
<text x="327" y="1294" font-size="20.3" text-anchor="start" fill="#000">FAT1</text>
<rect x="452.4" y="1282" width="17.28" height="19.2" fill="#38879b"/>
<rect x="469.68" y="1282" width="8.64" height="19.2" fill="#ebb8b8"/>
<text x="327" y="1326.09" font-size="20.3" text-anchor="start" fill="#000">BRAF</text>
<rect x="452.4" y="1314.09" width="12.96" height="19.2" fill="#38879b"/>
<rect x="465.36" y="1314.09" width="4.32" height="19.2" fill="#218e42"/>
<text x="29.4" y="973.5" font-size="20.3" text-anchor="middle" fill="#000">38%</text>
<text x="29.4" y="1005.5" font-size="20.3" text-anchor="middle" fill="#000">27%</text>
<text x="29.4" y="1037.5" font-size="20.3" text-anchor="middle" fill="#000">19%</text>
<text x="29.4" y="1069.5" font-size="20.3" text-anchor="middle" fill="#000">30%</text>
<text x="29.4" y="1101.5" font-size="20.3" text-anchor="middle" fill="#000">22%</text>
<text x="29.4" y="1133.5" font-size="20.3" text-anchor="middle" fill="#000">16%</text>
<text x="29.4" y="1165.5" font-size="20.3" text-anchor="middle" fill="#000">16%</text>
<text x="29.4" y="1197.5" font-size="20.3" text-anchor="middle" fill="#000">5%</text>
<text x="29.4" y="1229.5" font-size="20.3" text-anchor="middle" fill="#000">16%</text>
<text x="29.4" y="1261.5" font-size="20.3" text-anchor="middle" fill="#000">19%</text>
<text x="29.4" y="1293.5" font-size="20.3" text-anchor="middle" fill="#000">16%</text>
<text x="29.4" y="1325.5" font-size="20.3" text-anchor="middle" fill="#000">11%</text>
<line x1="451.4" y1="954.5" x2="507.3" y2="954.5" stroke="#000" stroke-width="2.2"/>
<line x1="452.4" y1="950" x2="452.4" y2="955.5" stroke="#000" stroke-width="2.2"/>
<line x1="474" y1="950" x2="474" y2="955.5" stroke="#000" stroke-width="2.2"/>
<line x1="495.6" y1="950" x2="495.6" y2="955.5" stroke="#000" stroke-width="2.2"/>
<text x="452.4" y="948" font-size="20.3" text-anchor="middle" fill="#000">0</text>
<text x="495.6" y="948" font-size="20.3" text-anchor="middle" fill="#000">10</text>
<path fill="#38879b" d="M573.6 914.89h2.1v20.01h-2.1zM576.94 921.56h2.1v13.34h-2.1zM580.27 928.23h2.1v6.67h-2.1zM583.61 914.89h2.1v20.01h-2.1zM586.94 921.56h2.1v13.34h-2.1zM593.61 928.23h2.1v6.67h-2.1zM596.95 921.56h2.1v13.34h-2.1zM600.28 914.89h2.1v20.01h-2.1zM603.62 921.56h2.1v13.34h-2.1zM606.95 908.22h2.1v26.68h-2.1zM610.29 921.56h2.1v13.34h-2.1zM613.62 914.89h2.1v20.01h-2.1zM616.96 921.56h2.1v13.34h-2.1zM620.29 921.56h2.1v13.34h-2.1zM623.62 921.56h2.1v13.34h-2.1zM626.96 928.23h2.1v6.67h-2.1zM630.3 921.56h2.1v13.34h-2.1zM633.63 928.23h2.1v6.67h-2.1zM636.97 928.23h2.1v6.67h-2.1zM640.3 928.23h2.1v6.67h-2.1zM643.63 908.22h2.1v26.68h-2.1zM646.97 928.23h2.1v6.67h-2.1zM650.31 914.89h2.1v20.01h-2.1zM653.64 928.23h2.1v6.67h-2.1zM656.98 921.56h2.1v13.34h-2.1zM660.31 928.23h2.1v6.67h-2.1zM663.64 921.56h2.1v13.34h-2.1zM666.98 921.56h2.1v13.34h-2.1zM670.32 928.23h2.1v6.67h-2.1zM673.65 928.23h2.1v6.67h-2.1zM676.99 914.89h2.1v20.01h-2.1zM683.65 928.23h2.1v6.67h-2.1zM686.99 908.22h2.1v26.68h-2.1zM690.33 914.89h2.1v20.01h-2.1zM693.66 921.56h2.1v13.34h-2.1zM700.33 914.89h2.1v20.01h-2.1zM707 921.56h2.1v13.34h-2.1zM710.34 928.23h2.1v6.67h-2.1zM713.67 928.23h2.1v6.67h-2.1zM720.34 921.56h2.1v13.34h-2.1zM723.67 928.23h2.1v6.67h-2.1zM727.01 928.23h2.1v6.67h-2.1zM730.35 928.23h2.1v6.67h-2.1zM733.68 928.23h2.1v6.67h-2.1zM737.01 928.23h2.1v6.67h-2.1zM740.35 928.23h2.1v6.67h-2.1zM743.69 928.23h2.1v6.67h-2.1zM747.02 921.56h2.1v13.34h-2.1zM750.36 928.23h2.1v6.67h-2.1zM753.69 928.23h2.1v6.67h-2.1zM760.36 928.23h2.1v6.67h-2.1zM763.7 921.56h2.1v13.34h-2.1zM767.03 921.56h2.1v13.34h-2.1zM770.37 928.23h2.1v6.67h-2.1zM773.7 921.56h2.1v13.34h-2.1zM777.04 928.23h2.1v6.67h-2.1zM787.04 921.56h2.1v13.34h-2.1zM793.71 928.23h2.1v6.67h-2.1zM797.05 928.23h2.1v6.67h-2.1zM800.38 928.23h2.1v6.67h-2.1zM803.72 928.23h2.1v6.67h-2.1zM807.05 928.23h2.1v6.67h-2.1zM810.38 928.23h2.1v6.67h-2.1zM813.72 928.23h2.1v6.67h-2.1zM820.39 921.56h2.1v13.34h-2.1zM840.4 928.23h2.1v6.67h-2.1zM843.74 928.23h2.1v6.67h-2.1z"/>
<path fill="#ebb8b8" d="M573.6 908.22h2.1v6.67h-2.1zM583.61 908.22h2.1v6.67h-2.1zM596.95 914.89h2.1v6.67h-2.1zM600.28 908.22h2.1v6.67h-2.1zM603.62 914.89h2.1v6.67h-2.1zM610.29 914.89h2.1v6.67h-2.1zM620.29 914.89h2.1v6.67h-2.1zM626.96 921.56h2.1v6.67h-2.1zM633.63 921.56h2.1v6.67h-2.1zM650.31 908.22h2.1v6.67h-2.1zM656.98 914.89h2.1v6.67h-2.1zM660.31 921.56h2.1v6.67h-2.1zM680.32 921.56h2.1v13.34h-2.1zM690.33 908.22h2.1v6.67h-2.1zM693.66 914.89h2.1v6.67h-2.1zM703.66 928.23h2.1v6.67h-2.1zM717 928.23h2.1v6.67h-2.1zM740.35 921.56h2.1v6.67h-2.1zM760.36 914.89h2.1v13.34h-2.1zM763.7 914.89h2.1v6.67h-2.1zM767.03 914.89h2.1v6.67h-2.1zM787.04 914.89h2.1v6.67h-2.1zM797.05 921.56h2.1v6.67h-2.1zM803.72 921.56h2.1v6.67h-2.1z"/>
<path fill="#218e42" d="M573.6 888.21h2.1v20.01h-2.1zM576.94 901.55h2.1v20.01h-2.1zM580.27 914.89h2.1v13.34h-2.1zM583.61 874.87h2.1v20.01h-2.1zM586.94 894.88h2.1v26.68h-2.1zM590.27 894.88h2.1v26.68h-2.1zM593.61 894.88h2.1v33.35h-2.1zM596.95 888.21h2.1v13.34h-2.1zM600.28 894.88h2.1v6.67h-2.1zM603.62 901.55h2.1v6.67h-2.1zM606.95 901.55h2.1v6.67h-2.1zM613.62 894.88h2.1v13.34h-2.1zM616.96 908.22h2.1v6.67h-2.1zM630.3 894.88h2.1v6.67h-2.1zM633.63 914.89h2.1v6.67h-2.1zM636.97 901.55h2.1v13.34h-2.1zM640.3 901.55h2.1v6.67h-2.1zM646.97 908.22h2.1v20.01h-2.1zM673.65 894.88h2.1v6.67h-2.1zM676.99 901.55h2.1v6.67h-2.1zM680.32 914.89h2.1v6.67h-2.1zM683.65 908.22h2.1v6.67h-2.1zM697 914.89h2.1v6.67h-2.1zM700.33 908.22h2.1v6.67h-2.1zM707 908.22h2.1v6.67h-2.1zM710.34 901.55h2.1v6.67h-2.1zM717 914.89h2.1v6.67h-2.1zM740.35 881.54h2.1v33.35h-2.1zM743.69 901.55h2.1v20.01h-2.1zM747.02 901.55h2.1v13.34h-2.1zM750.36 914.89h2.1v13.34h-2.1zM753.69 914.89h2.1v13.34h-2.1zM757.03 894.88h2.1v13.34h-2.1zM760.36 894.88h2.1v6.67h-2.1zM763.7 901.55h2.1v13.34h-2.1zM767.03 908.22h2.1v6.67h-2.1zM770.37 914.89h2.1v6.67h-2.1zM780.37 908.22h2.1v20.01h-2.1zM783.71 908.22h2.1v20.01h-2.1zM790.38 914.89h2.1v13.34h-2.1zM793.71 921.56h2.1v6.67h-2.1zM800.38 921.56h2.1v6.67h-2.1zM817.06 901.55h2.1v13.34h-2.1zM820.39 914.89h2.1v6.67h-2.1zM827.06 921.56h2.1v6.67h-2.1zM833.73 921.56h2.1v6.67h-2.1z"/>
<path fill="#b0406a" d="M583.61 901.55h2.1v6.67h-2.1zM640.3 921.56h2.1v6.67h-2.1zM720.34 914.89h2.1v6.67h-2.1zM743.69 921.56h2.1v6.67h-2.1zM757.03 921.56h2.1v6.67h-2.1z"/>
<path fill="#eb2027" d="M583.61 894.88h2.1v6.67h-2.1zM590.27 921.56h2.1v6.67h-2.1zM596.95 901.55h2.1v6.67h-2.1zM600.28 901.55h2.1v6.67h-2.1zM610.29 901.55h2.1v6.67h-2.1zM613.62 908.22h2.1v6.67h-2.1zM616.96 914.89h2.1v6.67h-2.1zM620.29 908.22h2.1v6.67h-2.1zM630.3 901.55h2.1v20.01h-2.1zM636.97 914.89h2.1v13.34h-2.1zM640.3 908.22h2.1v13.34h-2.1zM643.63 901.55h2.1v6.67h-2.1zM650.31 901.55h2.1v6.67h-2.1zM653.64 914.89h2.1v6.67h-2.1zM673.65 901.55h2.1v20.01h-2.1zM683.65 914.89h2.1v6.67h-2.1zM703.66 914.89h2.1v6.67h-2.1zM707 914.89h2.1v6.67h-2.1zM710.34 908.22h2.1v20.01h-2.1zM713.67 914.89h2.1v13.34h-2.1zM740.35 914.89h2.1v6.67h-2.1zM757.03 908.22h2.1v13.34h-2.1zM770.37 921.56h2.1v6.67h-2.1zM777.04 908.22h2.1v20.01h-2.1zM780.37 928.23h2.1v6.67h-2.1zM790.38 928.23h2.1v6.67h-2.1zM817.06 914.89h2.1v13.34h-2.1zM823.73 921.56h2.1v6.67h-2.1zM827.06 928.23h2.1v6.67h-2.1z"/>
<path fill="#f5e816" d="M590.27 928.23h2.1v6.67h-2.1zM596.95 908.22h2.1v6.67h-2.1zM610.29 908.22h2.1v6.67h-2.1zM623.62 908.22h2.1v13.34h-2.1zM626.96 914.89h2.1v6.67h-2.1zM653.64 921.56h2.1v6.67h-2.1zM670.32 921.56h2.1v6.67h-2.1zM673.65 921.56h2.1v6.67h-2.1zM676.99 908.22h2.1v6.67h-2.1zM683.65 921.56h2.1v6.67h-2.1zM686.99 901.55h2.1v6.67h-2.1zM697 928.23h2.1v6.67h-2.1zM703.66 921.56h2.1v6.67h-2.1zM717 921.56h2.1v6.67h-2.1zM747.02 914.89h2.1v6.67h-2.1zM757.03 928.23h2.1v6.67h-2.1zM760.36 901.55h2.1v13.34h-2.1zM817.06 928.23h2.1v6.67h-2.1zM823.73 928.23h2.1v6.67h-2.1zM830.39 928.23h2.1v6.67h-2.1z"/>
<path fill="#f8a21d" d="M603.62 908.22h2.1v6.67h-2.1zM693.66 908.22h2.1v6.67h-2.1zM697 921.56h2.1v6.67h-2.1zM783.71 928.23h2.1v6.67h-2.1zM833.73 928.23h2.1v6.67h-2.1zM837.07 928.23h2.1v6.67h-2.1z"/>
<line x1="573" y1="870.9" x2="573" y2="935.9" stroke="#000" stroke-width="2.4"/>
<line x1="568" y1="934.9" x2="573.5" y2="934.9" stroke="#000" stroke-width="2.4"/>
<text x="565.7" y="937.9" font-size="20.5" text-anchor="end" fill="#000">0</text>
<line x1="568" y1="921.56" x2="573.5" y2="921.56" stroke="#000" stroke-width="2.4"/>
<text x="565.7" y="924.56" font-size="20.5" text-anchor="end" fill="#000">2</text>
<line x1="568" y1="908.22" x2="573.5" y2="908.22" stroke="#000" stroke-width="2.4"/>
<text x="565.7" y="911.22" font-size="20.5" text-anchor="end" fill="#000">4</text>
<line x1="568" y1="894.88" x2="573.5" y2="894.88" stroke="#000" stroke-width="2.4"/>
<text x="565.7" y="897.88" font-size="20.5" text-anchor="end" fill="#000">6</text>
<line x1="568" y1="881.54" x2="573.5" y2="881.54" stroke="#000" stroke-width="2.4"/>
<text x="565.7" y="884.54" font-size="20.5" text-anchor="end" fill="#000">8</text>
<rect x="573" y="936.3" width="273.3" height="15.4" fill="#83c88e"/>
<line x1="576.32" y1="936.3" x2="576.32" y2="951.7" stroke="#ffffff" stroke-width="0.6" stroke-opacity="0.2"/>
<line x1="579.65" y1="936.3" x2="579.65" y2="951.7" stroke="#ffffff" stroke-width="0.6" stroke-opacity="0.2"/>
<line x1="582.99" y1="936.3" x2="582.99" y2="951.7" stroke="#ffffff" stroke-width="0.6" stroke-opacity="0.2"/>
<line x1="586.32" y1="936.3" x2="586.32" y2="951.7" stroke="#ffffff" stroke-width="0.6" stroke-opacity="0.2"/>
<line x1="589.66" y1="936.3" x2="589.66" y2="951.7" stroke="#ffffff" stroke-width="0.6" stroke-opacity="0.2"/>
<line x1="592.99" y1="936.3" x2="592.99" y2="951.7" stroke="#ffffff" stroke-width="0.6" stroke-opacity="0.2"/>
<line x1="596.33" y1="936.3" x2="596.33" y2="951.7" stroke="#ffffff" stroke-width="0.6" stroke-opacity="0.2"/>
<line x1="599.66" y1="936.3" x2="599.66" y2="951.7" stroke="#ffffff" stroke-width="0.6" stroke-opacity="0.2"/>
<line x1="603" y1="936.3" x2="603" y2="951.7" stroke="#ffffff" stroke-width="0.6" stroke-opacity="0.2"/>
<line x1="606.33" y1="936.3" x2="606.33" y2="951.7" stroke="#ffffff" stroke-width="0.6" stroke-opacity="0.2"/>
<line x1="609.67" y1="936.3" x2="609.67" y2="951.7" stroke="#ffffff" stroke-width="0.6" stroke-opacity="0.2"/>
<line x1="613" y1="936.3" x2="613" y2="951.7" stroke="#ffffff" stroke-width="0.6" stroke-opacity="0.2"/>
<line x1="616.34" y1="936.3" x2="616.34" y2="951.7" stroke="#ffffff" stroke-width="0.6" stroke-opacity="0.2"/>
<line x1="619.67" y1="936.3" x2="619.67" y2="951.7" stroke="#ffffff" stroke-width="0.6" stroke-opacity="0.2"/>
<line x1="623.01" y1="936.3" x2="623.01" y2="951.7" stroke="#ffffff" stroke-width="0.6" stroke-opacity="0.2"/>
<line x1="626.34" y1="936.3" x2="626.34" y2="951.7" stroke="#ffffff" stroke-width="0.6" stroke-opacity="0.2"/>
<line x1="629.68" y1="936.3" x2="629.68" y2="951.7" stroke="#ffffff" stroke-width="0.6" stroke-opacity="0.2"/>
<line x1="633.01" y1="936.3" x2="633.01" y2="951.7" stroke="#ffffff" stroke-width="0.6" stroke-opacity="0.2"/>
<line x1="636.35" y1="936.3" x2="636.35" y2="951.7" stroke="#ffffff" stroke-width="0.6" stroke-opacity="0.2"/>
<line x1="639.68" y1="936.3" x2="639.68" y2="951.7" stroke="#ffffff" stroke-width="0.6" stroke-opacity="0.2"/>
<line x1="643.02" y1="936.3" x2="643.02" y2="951.7" stroke="#ffffff" stroke-width="0.6" stroke-opacity="0.2"/>
<line x1="646.35" y1="936.3" x2="646.35" y2="951.7" stroke="#ffffff" stroke-width="0.6" stroke-opacity="0.2"/>
<line x1="649.69" y1="936.3" x2="649.69" y2="951.7" stroke="#ffffff" stroke-width="0.6" stroke-opacity="0.2"/>
<line x1="653.02" y1="936.3" x2="653.02" y2="951.7" stroke="#ffffff" stroke-width="0.6" stroke-opacity="0.2"/>
<line x1="656.36" y1="936.3" x2="656.36" y2="951.7" stroke="#ffffff" stroke-width="0.6" stroke-opacity="0.2"/>
<line x1="659.69" y1="936.3" x2="659.69" y2="951.7" stroke="#ffffff" stroke-width="0.6" stroke-opacity="0.2"/>
<line x1="663.03" y1="936.3" x2="663.03" y2="951.7" stroke="#ffffff" stroke-width="0.6" stroke-opacity="0.2"/>
<line x1="666.36" y1="936.3" x2="666.36" y2="951.7" stroke="#ffffff" stroke-width="0.6" stroke-opacity="0.2"/>
<line x1="669.7" y1="936.3" x2="669.7" y2="951.7" stroke="#ffffff" stroke-width="0.6" stroke-opacity="0.2"/>
<line x1="673.03" y1="936.3" x2="673.03" y2="951.7" stroke="#ffffff" stroke-width="0.6" stroke-opacity="0.2"/>
<line x1="676.37" y1="936.3" x2="676.37" y2="951.7" stroke="#ffffff" stroke-width="0.6" stroke-opacity="0.2"/>
<line x1="679.7" y1="936.3" x2="679.7" y2="951.7" stroke="#ffffff" stroke-width="0.6" stroke-opacity="0.2"/>
<line x1="683.04" y1="936.3" x2="683.04" y2="951.7" stroke="#ffffff" stroke-width="0.6" stroke-opacity="0.2"/>
<line x1="686.37" y1="936.3" x2="686.37" y2="951.7" stroke="#ffffff" stroke-width="0.6" stroke-opacity="0.2"/>
<line x1="689.71" y1="936.3" x2="689.71" y2="951.7" stroke="#ffffff" stroke-width="0.6" stroke-opacity="0.2"/>
<line x1="693.04" y1="936.3" x2="693.04" y2="951.7" stroke="#ffffff" stroke-width="0.6" stroke-opacity="0.2"/>
<line x1="696.38" y1="936.3" x2="696.38" y2="951.7" stroke="#ffffff" stroke-width="0.6" stroke-opacity="0.2"/>
<line x1="699.71" y1="936.3" x2="699.71" y2="951.7" stroke="#ffffff" stroke-width="0.6" stroke-opacity="0.2"/>
<line x1="703.05" y1="936.3" x2="703.05" y2="951.7" stroke="#ffffff" stroke-width="0.6" stroke-opacity="0.2"/>
<line x1="706.38" y1="936.3" x2="706.38" y2="951.7" stroke="#ffffff" stroke-width="0.6" stroke-opacity="0.2"/>
<line x1="709.72" y1="936.3" x2="709.72" y2="951.7" stroke="#ffffff" stroke-width="0.6" stroke-opacity="0.2"/>
<line x1="713.05" y1="936.3" x2="713.05" y2="951.7" stroke="#ffffff" stroke-width="0.6" stroke-opacity="0.2"/>
<line x1="716.39" y1="936.3" x2="716.39" y2="951.7" stroke="#ffffff" stroke-width="0.6" stroke-opacity="0.2"/>
<line x1="719.72" y1="936.3" x2="719.72" y2="951.7" stroke="#ffffff" stroke-width="0.6" stroke-opacity="0.2"/>
<line x1="723.06" y1="936.3" x2="723.06" y2="951.7" stroke="#ffffff" stroke-width="0.6" stroke-opacity="0.2"/>
<line x1="726.39" y1="936.3" x2="726.39" y2="951.7" stroke="#ffffff" stroke-width="0.6" stroke-opacity="0.2"/>
<line x1="729.73" y1="936.3" x2="729.73" y2="951.7" stroke="#ffffff" stroke-width="0.6" stroke-opacity="0.2"/>
<line x1="733.06" y1="936.3" x2="733.06" y2="951.7" stroke="#ffffff" stroke-width="0.6" stroke-opacity="0.2"/>
<line x1="736.4" y1="936.3" x2="736.4" y2="951.7" stroke="#ffffff" stroke-width="0.6" stroke-opacity="0.2"/>
<line x1="739.73" y1="936.3" x2="739.73" y2="951.7" stroke="#ffffff" stroke-width="0.6" stroke-opacity="0.2"/>
<line x1="743.07" y1="936.3" x2="743.07" y2="951.7" stroke="#ffffff" stroke-width="0.6" stroke-opacity="0.2"/>
<line x1="746.4" y1="936.3" x2="746.4" y2="951.7" stroke="#ffffff" stroke-width="0.6" stroke-opacity="0.2"/>
<line x1="749.74" y1="936.3" x2="749.74" y2="951.7" stroke="#ffffff" stroke-width="0.6" stroke-opacity="0.2"/>
<line x1="753.07" y1="936.3" x2="753.07" y2="951.7" stroke="#ffffff" stroke-width="0.6" stroke-opacity="0.2"/>
<line x1="756.41" y1="936.3" x2="756.41" y2="951.7" stroke="#ffffff" stroke-width="0.6" stroke-opacity="0.2"/>
<line x1="759.74" y1="936.3" x2="759.74" y2="951.7" stroke="#ffffff" stroke-width="0.6" stroke-opacity="0.2"/>
<line x1="763.08" y1="936.3" x2="763.08" y2="951.7" stroke="#ffffff" stroke-width="0.6" stroke-opacity="0.2"/>
<line x1="766.41" y1="936.3" x2="766.41" y2="951.7" stroke="#ffffff" stroke-width="0.6" stroke-opacity="0.2"/>
<line x1="769.75" y1="936.3" x2="769.75" y2="951.7" stroke="#ffffff" stroke-width="0.6" stroke-opacity="0.2"/>
<line x1="773.08" y1="936.3" x2="773.08" y2="951.7" stroke="#ffffff" stroke-width="0.6" stroke-opacity="0.2"/>
<line x1="776.42" y1="936.3" x2="776.42" y2="951.7" stroke="#ffffff" stroke-width="0.6" stroke-opacity="0.2"/>
<line x1="779.75" y1="936.3" x2="779.75" y2="951.7" stroke="#ffffff" stroke-width="0.6" stroke-opacity="0.2"/>
<line x1="783.09" y1="936.3" x2="783.09" y2="951.7" stroke="#ffffff" stroke-width="0.6" stroke-opacity="0.2"/>
<line x1="786.42" y1="936.3" x2="786.42" y2="951.7" stroke="#ffffff" stroke-width="0.6" stroke-opacity="0.2"/>
<line x1="789.76" y1="936.3" x2="789.76" y2="951.7" stroke="#ffffff" stroke-width="0.6" stroke-opacity="0.2"/>
<line x1="793.09" y1="936.3" x2="793.09" y2="951.7" stroke="#ffffff" stroke-width="0.6" stroke-opacity="0.2"/>
<line x1="796.43" y1="936.3" x2="796.43" y2="951.7" stroke="#ffffff" stroke-width="0.6" stroke-opacity="0.2"/>
<line x1="799.76" y1="936.3" x2="799.76" y2="951.7" stroke="#ffffff" stroke-width="0.6" stroke-opacity="0.2"/>
<line x1="803.1" y1="936.3" x2="803.1" y2="951.7" stroke="#ffffff" stroke-width="0.6" stroke-opacity="0.2"/>
<line x1="806.43" y1="936.3" x2="806.43" y2="951.7" stroke="#ffffff" stroke-width="0.6" stroke-opacity="0.2"/>
<line x1="809.77" y1="936.3" x2="809.77" y2="951.7" stroke="#ffffff" stroke-width="0.6" stroke-opacity="0.2"/>
<line x1="813.1" y1="936.3" x2="813.1" y2="951.7" stroke="#ffffff" stroke-width="0.6" stroke-opacity="0.2"/>
<line x1="816.44" y1="936.3" x2="816.44" y2="951.7" stroke="#ffffff" stroke-width="0.6" stroke-opacity="0.2"/>
<line x1="819.77" y1="936.3" x2="819.77" y2="951.7" stroke="#ffffff" stroke-width="0.6" stroke-opacity="0.2"/>
<line x1="823.11" y1="936.3" x2="823.11" y2="951.7" stroke="#ffffff" stroke-width="0.6" stroke-opacity="0.2"/>
<line x1="826.44" y1="936.3" x2="826.44" y2="951.7" stroke="#ffffff" stroke-width="0.6" stroke-opacity="0.2"/>
<line x1="829.78" y1="936.3" x2="829.78" y2="951.7" stroke="#ffffff" stroke-width="0.6" stroke-opacity="0.2"/>
<line x1="833.11" y1="936.3" x2="833.11" y2="951.7" stroke="#ffffff" stroke-width="0.6" stroke-opacity="0.2"/>
<line x1="836.45" y1="936.3" x2="836.45" y2="951.7" stroke="#ffffff" stroke-width="0.6" stroke-opacity="0.2"/>
<line x1="839.78" y1="936.3" x2="839.78" y2="951.7" stroke="#ffffff" stroke-width="0.6" stroke-opacity="0.2"/>
<line x1="843.12" y1="936.3" x2="843.12" y2="951.7" stroke="#ffffff" stroke-width="0.6" stroke-opacity="0.2"/>
<text x="847.2" y="949.8" font-size="20.2" text-anchor="start" fill="#000">NMF2</text>
<defs><pattern id="gp3" patternUnits="userSpaceOnUse" x="573.65" y="956.1" width="3.335" height="32.02"><rect x="0" y="0" width="2" height="29.6" fill="#e5e5e5"/></pattern></defs>
<rect x="573.65" y="956.1" width="272.13" height="381.82" fill="url(#gp3)"/>
<path fill="#38879b" d="M573.65 956.1h2v29.6h-2zM576.99 956.1h2v29.6h-2zM586.99 956.1h2v29.6h-2zM593.66 956.1h2v29.6h-2zM600.33 956.1h2v29.6h-2zM603.66 956.1h2v29.6h-2zM607 956.1h2v29.6h-2zM610.34 956.1h2v29.6h-2zM613.67 956.1h2v29.6h-2zM617 956.1h2v29.6h-2zM620.34 956.1h2v29.6h-2zM630.35 956.1h2v29.6h-2zM637.01 956.1h2v29.6h-2zM643.68 956.1h2v29.6h-2zM650.36 956.1h2v29.6h-2zM663.69 956.1h2v29.6h-2zM667.03 956.1h2v29.6h-2zM677.03 956.1h2v29.6h-2zM687.04 956.1h2v29.6h-2zM690.38 956.1h2v29.6h-2zM700.38 956.1h2v29.6h-2zM707.05 956.1h2v29.6h-2zM710.38 956.1h2v29.6h-2zM713.72 956.1h2v29.6h-2zM723.72 956.1h2v29.6h-2zM727.06 956.1h2v29.6h-2zM730.39 956.1h2v29.6h-2zM733.73 956.1h2v29.6h-2zM737.06 956.1h2v29.6h-2zM583.65 988.12h2v29.6h-2zM603.66 988.12h2v29.6h-2zM630.35 988.12h2v29.6h-2zM633.68 988.12h2v29.6h-2zM773.75 988.12h2v29.6h-2zM787.09 988.12h2v29.6h-2zM573.65 1020.14h2v29.6h-2zM576.99 1020.14h2v29.6h-2zM580.32 1020.14h2v29.6h-2zM643.68 1020.14h2v29.6h-2zM647.02 1020.14h2v29.6h-2zM650.36 1020.14h2v29.6h-2zM653.69 1020.14h2v29.6h-2zM657.02 1020.14h2v29.6h-2zM660.36 1020.14h2v29.6h-2zM663.69 1020.14h2v29.6h-2zM667.03 1020.14h2v29.6h-2zM670.37 1020.14h2v29.6h-2zM740.4 1020.14h2v29.6h-2zM743.74 1020.14h2v29.6h-2zM747.07 1020.14h2v29.6h-2zM750.4 1020.14h2v29.6h-2zM753.74 1020.14h2v29.6h-2zM760.41 1020.14h2v29.6h-2zM763.75 1020.14h2v29.6h-2zM767.08 1020.14h2v29.6h-2zM770.41 1020.14h2v29.6h-2zM773.75 1020.14h2v29.6h-2zM793.76 1020.14h2v29.6h-2zM797.1 1020.14h2v29.6h-2zM800.43 1020.14h2v29.6h-2zM803.76 1020.14h2v29.6h-2zM807.1 1020.14h2v29.6h-2zM810.43 1020.14h2v29.6h-2zM813.77 1020.14h2v29.6h-2zM643.68 1052.16h2v29.6h-2zM677.03 1052.16h2v29.6h-2zM583.65 1084.18h2v29.6h-2zM597 1084.18h2v29.6h-2zM600.33 1084.18h2v29.6h-2zM607 1084.18h2v29.6h-2zM610.34 1084.18h2v29.6h-2zM613.67 1084.18h2v29.6h-2zM617 1084.18h2v29.6h-2zM620.34 1084.18h2v29.6h-2zM623.67 1084.18h2v29.6h-2zM627.01 1084.18h2v29.6h-2zM687.04 1084.18h2v29.6h-2zM690.38 1084.18h2v29.6h-2zM700.38 1084.18h2v29.6h-2zM763.75 1084.18h2v29.6h-2zM787.09 1084.18h2v29.6h-2zM607 1116.2h2v29.6h-2zM677.03 1116.2h2v29.6h-2zM687.04 1116.2h2v29.6h-2zM690.38 1116.2h2v29.6h-2zM693.71 1116.2h2v29.6h-2zM720.39 1116.2h2v29.6h-2zM573.65 1148.22h2v29.6h-2zM650.36 1148.22h2v29.6h-2zM700.38 1148.22h2v29.6h-2zM586.99 1180.24h2v29.6h-2zM687.04 1180.24h2v29.6h-2zM777.09 1180.24h2v29.6h-2zM820.44 1180.24h2v29.6h-2zM600.33 1212.26h2v29.6h-2zM707.05 1212.26h2v29.6h-2zM767.08 1212.26h2v29.6h-2zM597 1244.28h2v29.6h-2zM607 1244.28h2v29.6h-2zM623.67 1244.28h2v29.6h-2zM820.44 1244.28h2v29.6h-2zM613.67 1276.3h2v29.6h-2zM643.68 1276.3h2v29.6h-2zM657.02 1276.3h2v29.6h-2zM683.7 1276.3h2v29.6h-2zM720.39 1276.3h2v29.6h-2zM747.07 1276.3h2v29.6h-2zM583.65 1308.32h2v29.6h-2zM640.35 1308.32h2v29.6h-2zM673.7 1308.32h2v29.6h-2zM693.71 1308.32h2v29.6h-2zM840.45 1308.32h2v29.6h-2zM843.78 1308.32h2v29.6h-2z"/>
<path fill="#218e42" d="M580.32 956.1h2v29.6h-2zM583.65 956.1h2v29.6h-2zM647.02 956.1h2v29.6h-2zM576.99 988.12h2v29.6h-2zM580.32 988.12h2v29.6h-2zM586.99 988.12h2v29.6h-2zM590.32 988.12h2v29.6h-2zM593.66 988.12h2v29.6h-2zM597 988.12h2v29.6h-2zM607 988.12h2v29.6h-2zM613.67 988.12h2v29.6h-2zM617 988.12h2v29.6h-2zM637.01 988.12h2v29.6h-2zM640.35 988.12h2v29.6h-2zM740.4 988.12h2v29.6h-2zM747.07 988.12h2v29.6h-2zM750.4 988.12h2v29.6h-2zM753.74 988.12h2v29.6h-2zM763.75 988.12h2v29.6h-2zM770.41 988.12h2v29.6h-2zM780.42 988.12h2v29.6h-2zM783.75 988.12h2v29.6h-2zM790.42 988.12h2v29.6h-2zM573.65 1052.16h2v29.6h-2zM576.99 1052.16h2v29.6h-2zM583.65 1052.16h2v29.6h-2zM586.99 1052.16h2v29.6h-2zM590.32 1052.16h2v29.6h-2zM593.66 1052.16h2v29.6h-2zM597 1052.16h2v29.6h-2zM600.33 1052.16h2v29.6h-2zM603.66 1052.16h2v29.6h-2zM673.7 1052.16h2v29.6h-2zM680.37 1052.16h2v29.6h-2zM683.7 1052.16h2v29.6h-2zM740.4 1052.16h2v29.6h-2zM743.74 1052.16h2v29.6h-2zM747.07 1052.16h2v29.6h-2zM750.4 1052.16h2v29.6h-2zM753.74 1052.16h2v29.6h-2zM780.42 1052.16h2v29.6h-2zM793.76 1052.16h2v29.6h-2zM817.11 1052.16h2v29.6h-2zM820.44 1052.16h2v29.6h-2zM586.99 1084.18h2v29.6h-2zM590.32 1084.18h2v29.6h-2zM593.66 1084.18h2v29.6h-2zM647.02 1084.18h2v29.6h-2zM697.04 1084.18h2v29.6h-2zM573.65 1116.2h2v29.6h-2zM583.65 1116.2h2v29.6h-2zM586.99 1116.2h2v29.6h-2zM593.66 1116.2h2v29.6h-2zM633.68 1116.2h2v29.6h-2zM707.05 1116.2h2v29.6h-2zM710.38 1116.2h2v29.6h-2zM717.05 1116.2h2v29.6h-2zM740.4 1116.2h2v29.6h-2zM743.74 1116.2h2v29.6h-2zM757.08 1116.2h2v29.6h-2zM760.41 1116.2h2v29.6h-2zM763.75 1116.2h2v29.6h-2zM767.08 1116.2h2v29.6h-2zM780.42 1116.2h2v29.6h-2zM783.75 1116.2h2v29.6h-2zM800.43 1116.2h2v29.6h-2zM590.32 1180.24h2v29.6h-2zM593.66 1180.24h2v29.6h-2zM630.35 1180.24h2v29.6h-2zM637.01 1180.24h2v29.6h-2zM647.02 1180.24h2v29.6h-2zM740.4 1180.24h2v29.6h-2zM743.74 1180.24h2v29.6h-2zM757.08 1180.24h2v29.6h-2zM783.75 1180.24h2v29.6h-2zM827.11 1180.24h2v29.6h-2zM576.99 1212.26h2v29.6h-2zM613.67 1212.26h2v29.6h-2zM700.38 1212.26h2v29.6h-2zM790.42 1212.26h2v29.6h-2zM573.65 1244.28h2v29.6h-2zM817.11 1244.28h2v29.6h-2zM677.03 1276.3h2v29.6h-2zM833.78 1276.3h2v29.6h-2zM740.4 1308.32h2v29.6h-2z"/>
<path fill="#f5e816" d="M590.32 956.1h2v29.6h-2zM597 956.1h2v29.6h-2zM623.67 956.1h2v29.6h-2zM627.01 956.1h2v29.6h-2zM653.69 956.1h2v29.6h-2zM670.37 956.1h2v29.6h-2zM673.7 956.1h2v29.6h-2zM683.7 956.1h2v29.6h-2zM697.04 956.1h2v29.6h-2zM703.71 956.1h2v29.6h-2zM717.05 956.1h2v29.6h-2zM623.67 988.12h2v29.6h-2zM757.08 1084.18h2v29.6h-2zM823.77 1116.2h2v29.6h-2zM610.34 1180.24h2v29.6h-2zM677.03 1180.24h2v29.6h-2zM760.41 1180.24h2v29.6h-2zM817.11 1180.24h2v29.6h-2zM747.07 1212.26h2v29.6h-2zM760.41 1212.26h2v29.6h-2zM830.44 1212.26h2v29.6h-2zM687.04 1276.3h2v29.6h-2z"/>
<path fill="#ebb8b8" d="M633.68 956.1h2v29.6h-2zM657.02 956.1h2v29.6h-2zM660.36 956.1h2v29.6h-2zM680.37 956.1h2v29.6h-2zM693.71 956.1h2v29.6h-2zM573.65 988.12h2v29.6h-2zM600.33 988.12h2v29.6h-2zM610.34 988.12h2v29.6h-2zM620.34 988.12h2v29.6h-2zM627.01 988.12h2v29.6h-2zM760.41 988.12h2v29.6h-2zM767.08 988.12h2v29.6h-2zM703.71 1084.18h2v29.6h-2zM740.4 1084.18h2v29.6h-2zM760.41 1084.18h2v29.6h-2zM797.1 1084.18h2v29.6h-2zM583.65 1180.24h2v29.6h-2zM597 1180.24h2v29.6h-2zM680.37 1180.24h2v29.6h-2zM690.38 1180.24h2v29.6h-2zM763.75 1180.24h2v29.6h-2zM787.09 1180.24h2v29.6h-2zM603.66 1212.26h2v29.6h-2zM650.36 1212.26h2v29.6h-2zM717.05 1212.26h2v29.6h-2zM803.76 1212.26h2v29.6h-2z"/>
<path fill="#b0406a" d="M640.35 956.1h2v29.6h-2zM720.39 956.1h2v29.6h-2zM743.74 988.12h2v29.6h-2zM757.08 988.12h2v29.6h-2zM583.65 1212.26h2v29.6h-2z"/>
<path fill="#eb2027" d="M777.09 988.12h2v29.6h-2zM757.08 1020.14h2v29.6h-2zM777.09 1052.16h2v29.6h-2zM777.09 1084.18h2v29.6h-2zM590.32 1116.2h2v29.6h-2zM630.35 1116.2h2v29.6h-2zM650.36 1116.2h2v29.6h-2zM673.7 1116.2h2v29.6h-2zM713.72 1116.2h2v29.6h-2zM583.65 1148.22h2v29.6h-2zM597 1148.22h2v29.6h-2zM600.33 1148.22h2v29.6h-2zM610.34 1148.22h2v29.6h-2zM613.67 1148.22h2v29.6h-2zM617 1148.22h2v29.6h-2zM620.34 1148.22h2v29.6h-2zM630.35 1148.22h2v29.6h-2zM637.01 1148.22h2v29.6h-2zM643.68 1148.22h2v29.6h-2zM653.69 1148.22h2v29.6h-2zM673.7 1148.22h2v29.6h-2zM703.71 1148.22h2v29.6h-2zM707.05 1148.22h2v29.6h-2zM710.38 1148.22h2v29.6h-2zM713.72 1148.22h2v29.6h-2zM757.08 1148.22h2v29.6h-2zM770.41 1148.22h2v29.6h-2zM780.42 1148.22h2v29.6h-2zM790.42 1148.22h2v29.6h-2zM817.11 1148.22h2v29.6h-2zM823.77 1148.22h2v29.6h-2zM827.11 1148.22h2v29.6h-2zM637.01 1212.26h2v29.6h-2zM673.7 1212.26h2v29.6h-2zM817.11 1212.26h2v29.6h-2zM630.35 1244.28h2v29.6h-2zM640.35 1244.28h2v29.6h-2zM683.7 1244.28h2v29.6h-2zM710.38 1244.28h2v29.6h-2zM740.4 1244.28h2v29.6h-2zM640.35 1276.3h2v29.6h-2zM710.38 1308.32h2v29.6h-2z"/>
<path fill="#f8a21d" d="M693.71 1084.18h2v29.6h-2zM783.75 1084.18h2v29.6h-2zM603.66 1116.2h2v29.6h-2zM697.04 1116.2h2v29.6h-2zM833.78 1244.28h2v29.6h-2zM837.12 1244.28h2v29.6h-2z"/>
<text x="850" y="975" font-size="20.3" text-anchor="start" fill="#000">TP53</text>
<rect x="954.1" y="961.4" width="34.97" height="19.2" fill="#38879b"/>
<rect x="989.07" y="961.4" width="6.03" height="19.2" fill="#ebb8b8"/>
<rect x="995.1" y="961.4" width="13.27" height="19.2" fill="#f5e816"/>
<rect x="1008.37" y="961.4" width="2.41" height="19.2" fill="#b0406a"/>
<rect x="1010.78" y="961.4" width="3.62" height="19.2" fill="#218e42"/>
<text x="850" y="1007.02" font-size="20.3" text-anchor="start" fill="#000">STK11</text>
<rect x="954.1" y="993.42" width="7.24" height="19.2" fill="#38879b"/>
<rect x="961.34" y="993.42" width="8.44" height="19.2" fill="#ebb8b8"/>
<rect x="969.78" y="993.42" width="1.21" height="19.2" fill="#f5e816"/>
<rect x="970.98" y="993.42" width="2.41" height="19.2" fill="#b0406a"/>
<rect x="973.4" y="993.42" width="1.21" height="19.2" fill="#eb2027"/>
<rect x="974.6" y="993.42" width="24.12" height="19.2" fill="#218e42"/>
<text x="850" y="1039.04" font-size="20.3" text-anchor="start" fill="#000">KRAS</text>
<rect x="954.1" y="1025.44" width="34.97" height="19.2" fill="#38879b"/>
<rect x="989.07" y="1025.44" width="1.21" height="19.2" fill="#eb2027"/>
<text x="850" y="1071.06" font-size="20.3" text-anchor="start" fill="#000">NOTCH1</text>
<rect x="954.1" y="1057.46" width="2.41" height="19.2" fill="#38879b"/>
<rect x="956.51" y="1057.46" width="1.21" height="19.2" fill="#eb2027"/>
<rect x="957.72" y="1057.46" width="25.33" height="19.2" fill="#218e42"/>
<text x="850" y="1103.08" font-size="20.3" text-anchor="start" fill="#000">KEAP1</text>
<rect x="954.1" y="1089.48" width="18.09" height="19.2" fill="#38879b"/>
<rect x="972.19" y="1089.48" width="4.82" height="19.2" fill="#ebb8b8"/>
<rect x="977.01" y="1089.48" width="1.21" height="19.2" fill="#f5e816"/>
<rect x="978.22" y="1089.48" width="2.41" height="19.2" fill="#f8a21d"/>
<rect x="980.63" y="1089.48" width="1.21" height="19.2" fill="#eb2027"/>
<rect x="981.84" y="1089.48" width="6.03" height="19.2" fill="#218e42"/>
<text x="850" y="1135.1" font-size="20.3" text-anchor="start" fill="#000">CDKN2A</text>
<rect x="954.1" y="1121.5" width="7.24" height="19.2" fill="#38879b"/>
<rect x="961.34" y="1121.5" width="1.21" height="19.2" fill="#f5e816"/>
<rect x="962.54" y="1121.5" width="2.41" height="19.2" fill="#f8a21d"/>
<rect x="964.95" y="1121.5" width="6.03" height="19.2" fill="#eb2027"/>
<rect x="970.98" y="1121.5" width="20.5" height="19.2" fill="#218e42"/>
<text x="850" y="1167.12" font-size="20.3" text-anchor="start" fill="#000">NFE2L2</text>
<rect x="954.1" y="1153.52" width="3.62" height="19.2" fill="#38879b"/>
<rect x="957.72" y="1153.52" width="27.74" height="19.2" fill="#eb2027"/>
<text x="850" y="1199.14" font-size="20.3" text-anchor="start" fill="#000">SMARCA4</text>
<rect x="954.1" y="1185.54" width="4.82" height="19.2" fill="#38879b"/>
<rect x="958.92" y="1185.54" width="7.24" height="19.2" fill="#ebb8b8"/>
<rect x="966.16" y="1185.54" width="4.82" height="19.2" fill="#f5e816"/>
<rect x="970.98" y="1185.54" width="12.06" height="19.2" fill="#218e42"/>
<text x="850" y="1231.16" font-size="20.3" text-anchor="start" fill="#000">RBM10</text>
<rect x="954.1" y="1217.56" width="3.62" height="19.2" fill="#38879b"/>
<rect x="957.72" y="1217.56" width="4.82" height="19.2" fill="#ebb8b8"/>
<rect x="962.54" y="1217.56" width="3.62" height="19.2" fill="#f5e816"/>
<rect x="966.16" y="1217.56" width="1.21" height="19.2" fill="#b0406a"/>
<rect x="967.37" y="1217.56" width="3.62" height="19.2" fill="#eb2027"/>
<rect x="970.98" y="1217.56" width="4.82" height="19.2" fill="#218e42"/>
<text x="850" y="1263.18" font-size="20.3" text-anchor="start" fill="#000">EGFR</text>
<rect x="954.1" y="1249.58" width="4.82" height="19.2" fill="#38879b"/>
<rect x="958.92" y="1249.58" width="2.41" height="19.2" fill="#f8a21d"/>
<rect x="961.34" y="1249.58" width="6.03" height="19.2" fill="#eb2027"/>
<rect x="967.37" y="1249.58" width="2.41" height="19.2" fill="#218e42"/>
<text x="850" y="1295.2" font-size="20.3" text-anchor="start" fill="#000">FAT1</text>
<rect x="954.1" y="1281.6" width="7.24" height="19.2" fill="#38879b"/>
<rect x="961.34" y="1281.6" width="1.21" height="19.2" fill="#f5e816"/>
<rect x="962.54" y="1281.6" width="1.21" height="19.2" fill="#eb2027"/>
<rect x="963.75" y="1281.6" width="2.41" height="19.2" fill="#218e42"/>
<text x="850" y="1327.22" font-size="20.3" text-anchor="start" fill="#000">BRAF</text>
<rect x="954.1" y="1313.62" width="7.24" height="19.2" fill="#38879b"/>
<rect x="961.34" y="1313.62" width="1.21" height="19.2" fill="#eb2027"/>
<rect x="962.54" y="1313.62" width="1.21" height="19.2" fill="#218e42"/>
<polygon points="566,1150 574.2,1150 582.2,1339 566,1339" fill="#fff"/>
<text x="548.5" y="975.1" font-size="20.3" text-anchor="middle" fill="#000">59%</text>
<text x="548.5" y="1007.12" font-size="20.3" text-anchor="middle" fill="#000">44%</text>
<text x="548.5" y="1039.14" font-size="20.3" text-anchor="middle" fill="#000">35%</text>
<text x="548.5" y="1071.16" font-size="20.3" text-anchor="middle" fill="#000">28%</text>
<text x="548.5" y="1103.18" font-size="20.3" text-anchor="middle" fill="#000">33%</text>
<text x="548.5" y="1135.2" font-size="20.3" text-anchor="middle" fill="#000">36%</text>
<text x="548.5" y="1167.22" font-size="20.3" text-anchor="middle" fill="#000">31%</text>
<text x="548.5" y="1199.24" font-size="20.3" text-anchor="middle" fill="#000">28%</text>
<text x="548.5" y="1231.26" font-size="20.3" text-anchor="middle" fill="#000">21%</text>
<text x="548.5" y="1263.28" font-size="20.3" text-anchor="middle" fill="#000">15%</text>
<text x="548.5" y="1295.3" font-size="20.3" text-anchor="middle" fill="#000">12%</text>
<text x="548.5" y="1327.32" font-size="20.3" text-anchor="middle" fill="#000">9%</text>
<line x1="953.1" y1="954.5" x2="1018" y2="954.5" stroke="#000" stroke-width="2.2"/>
<line x1="954.1" y1="950" x2="954.1" y2="955.5" stroke="#000" stroke-width="2.2"/>
<line x1="978.2" y1="950" x2="978.2" y2="955.5" stroke="#000" stroke-width="2.2"/>
<line x1="1002.3" y1="950" x2="1002.3" y2="955.5" stroke="#000" stroke-width="2.2"/>
<text x="954.1" y="948" font-size="20.3" text-anchor="middle" fill="#000">0</text>
<text x="1002.3" y="948" font-size="20.3" text-anchor="middle" fill="#000">20</text>
<path fill="#38879b" d="M1065.5 927.1h2.4v7.5h-2.4zM1069.48 912.1h2.4v22.5h-2.4zM1073.46 904.6h2.4v30h-2.4zM1077.44 919.6h2.4v15h-2.4zM1081.42 927.1h2.4v7.5h-2.4zM1085.4 919.6h2.4v15h-2.4zM1089.38 927.1h2.4v7.5h-2.4zM1093.36 919.6h2.4v15h-2.4zM1097.34 927.1h2.4v7.5h-2.4zM1101.32 919.6h2.4v15h-2.4zM1105.3 927.1h2.4v7.5h-2.4zM1109.28 927.1h2.4v7.5h-2.4zM1113.26 927.1h2.4v7.5h-2.4zM1117.24 927.1h2.4v7.5h-2.4zM1121.22 927.1h2.4v7.5h-2.4zM1125.2 919.6h2.4v15h-2.4zM1129.18 919.6h2.4v15h-2.4zM1133.16 927.1h2.4v7.5h-2.4zM1137.14 927.1h2.4v7.5h-2.4zM1141.12 919.6h2.4v15h-2.4zM1145.1 919.6h2.4v15h-2.4zM1149.08 927.1h2.4v7.5h-2.4zM1153.06 927.1h2.4v7.5h-2.4zM1157.04 919.6h2.4v15h-2.4zM1165 927.1h2.4v7.5h-2.4zM1176.94 912.1h2.4v22.5h-2.4zM1180.92 927.1h2.4v7.5h-2.4zM1184.9 919.6h2.4v15h-2.4zM1188.88 919.6h2.4v15h-2.4zM1192.86 927.1h2.4v7.5h-2.4zM1200.82 919.6h2.4v15h-2.4zM1204.8 927.1h2.4v7.5h-2.4zM1208.78 927.1h2.4v7.5h-2.4zM1212.76 927.1h2.4v7.5h-2.4zM1216.74 927.1h2.4v7.5h-2.4zM1228.68 927.1h2.4v7.5h-2.4zM1232.66 912.1h2.4v22.5h-2.4zM1236.64 927.1h2.4v7.5h-2.4zM1240.62 912.1h2.4v22.5h-2.4zM1244.6 927.1h2.4v7.5h-2.4zM1252.56 927.1h2.4v7.5h-2.4zM1256.54 927.1h2.4v7.5h-2.4zM1260.52 927.1h2.4v7.5h-2.4zM1264.5 919.6h2.4v15h-2.4zM1272.46 927.1h2.4v7.5h-2.4zM1276.44 912.1h2.4v22.5h-2.4zM1280.42 919.6h2.4v15h-2.4zM1284.4 927.1h2.4v7.5h-2.4zM1288.38 927.1h2.4v7.5h-2.4zM1292.36 927.1h2.4v7.5h-2.4zM1296.34 927.1h2.4v7.5h-2.4zM1304.3 912.1h2.4v22.5h-2.4zM1312.26 927.1h2.4v7.5h-2.4zM1332.16 927.1h2.4v7.5h-2.4z"/>
<path fill="#ebb8b8" d="M1065.5 919.6h2.4v7.5h-2.4zM1069.48 904.6h2.4v7.5h-2.4zM1105.3 919.6h2.4v7.5h-2.4zM1113.26 919.6h2.4v7.5h-2.4zM1129.18 912.1h2.4v7.5h-2.4zM1172.96 927.1h2.4v7.5h-2.4zM1180.92 919.6h2.4v7.5h-2.4zM1184.9 912.1h2.4v7.5h-2.4zM1188.88 912.1h2.4v7.5h-2.4zM1200.82 912.1h2.4v7.5h-2.4zM1204.8 919.6h2.4v7.5h-2.4zM1216.74 912.1h2.4v15h-2.4zM1256.54 919.6h2.4v7.5h-2.4zM1308.28 927.1h2.4v7.5h-2.4zM1324.2 927.1h2.4v7.5h-2.4z"/>
<path fill="#eb2027" d="M1065.5 904.6h2.4v15h-2.4zM1077.44 904.6h2.4v15h-2.4zM1097.34 919.6h2.4v7.5h-2.4zM1113.26 912.1h2.4v7.5h-2.4zM1117.24 912.1h2.4v7.5h-2.4zM1125.2 912.1h2.4v7.5h-2.4zM1129.18 889.6h2.4v22.5h-2.4zM1133.16 919.6h2.4v7.5h-2.4zM1137.14 912.1h2.4v7.5h-2.4zM1149.08 904.6h2.4v22.5h-2.4zM1153.06 912.1h2.4v7.5h-2.4zM1184.9 897.1h2.4v7.5h-2.4zM1196.84 927.1h2.4v7.5h-2.4zM1224.7 889.6h2.4v45h-2.4zM1228.68 912.1h2.4v7.5h-2.4zM1236.64 919.6h2.4v7.5h-2.4zM1256.54 904.6h2.4v7.5h-2.4zM1268.48 912.1h2.4v15h-2.4zM1320.22 927.1h2.4v7.5h-2.4z"/>
<path fill="#218e42" d="M1065.5 874.6h2.4v30h-2.4zM1069.48 882.1h2.4v7.5h-2.4zM1073.46 889.6h2.4v15h-2.4zM1077.44 889.6h2.4v15h-2.4zM1081.42 897.1h2.4v22.5h-2.4zM1085.4 904.6h2.4v15h-2.4zM1089.38 904.6h2.4v22.5h-2.4zM1093.36 897.1h2.4v7.5h-2.4zM1097.34 912.1h2.4v7.5h-2.4zM1101.32 904.6h2.4v7.5h-2.4zM1109.28 919.6h2.4v7.5h-2.4zM1113.26 897.1h2.4v15h-2.4zM1121.22 919.6h2.4v7.5h-2.4zM1133.16 912.1h2.4v7.5h-2.4zM1137.14 904.6h2.4v7.5h-2.4zM1141.12 912.1h2.4v7.5h-2.4zM1176.94 889.6h2.4v22.5h-2.4zM1180.92 889.6h2.4v22.5h-2.4zM1184.9 889.6h2.4v7.5h-2.4zM1188.88 897.1h2.4v15h-2.4zM1192.86 897.1h2.4v22.5h-2.4zM1196.84 904.6h2.4v22.5h-2.4zM1212.76 919.6h2.4v7.5h-2.4zM1216.74 889.6h2.4v22.5h-2.4zM1220.72 919.6h2.4v15h-2.4zM1224.7 874.6h2.4v15h-2.4zM1232.66 904.6h2.4v7.5h-2.4zM1236.64 912.1h2.4v7.5h-2.4zM1244.6 919.6h2.4v7.5h-2.4zM1256.54 897.1h2.4v7.5h-2.4zM1260.52 919.6h2.4v7.5h-2.4zM1264.5 904.6h2.4v15h-2.4zM1268.48 904.6h2.4v7.5h-2.4zM1292.36 912.1h2.4v7.5h-2.4zM1296.34 919.6h2.4v7.5h-2.4zM1300.32 919.6h2.4v7.5h-2.4zM1336.14 927.1h2.4v7.5h-2.4z"/>
<path fill="#f5e816" d="M1069.48 897.1h2.4v7.5h-2.4zM1093.36 904.6h2.4v15h-2.4zM1168.98 927.1h2.4v7.5h-2.4zM1180.92 912.1h2.4v7.5h-2.4zM1192.86 919.6h2.4v7.5h-2.4zM1204.8 912.1h2.4v7.5h-2.4zM1248.58 927.1h2.4v7.5h-2.4zM1256.54 912.1h2.4v7.5h-2.4zM1272.46 919.6h2.4v7.5h-2.4zM1276.44 904.6h2.4v7.5h-2.4z"/>
<path fill="#b0406a" d="M1069.48 889.6h2.4v7.5h-2.4zM1101.32 912.1h2.4v7.5h-2.4zM1161.02 919.6h2.4v7.5h-2.4zM1184.9 904.6h2.4v7.5h-2.4zM1208.78 912.1h2.4v15h-2.4zM1228.68 919.6h2.4v7.5h-2.4zM1316.24 927.1h2.4v7.5h-2.4z"/>
<path fill="#f8a21d" d="M1081.42 919.6h2.4v7.5h-2.4zM1137.14 919.6h2.4v7.5h-2.4zM1153.06 919.6h2.4v7.5h-2.4zM1157.04 912.1h2.4v7.5h-2.4zM1161.02 927.1h2.4v7.5h-2.4zM1165 919.6h2.4v7.5h-2.4zM1200.82 904.6h2.4v7.5h-2.4zM1268.48 927.1h2.4v7.5h-2.4zM1292.36 919.6h2.4v7.5h-2.4zM1300.32 927.1h2.4v7.5h-2.4zM1328.18 927.1h2.4v7.5h-2.4z"/>
<path fill="#fde1c4" d="M1117.24 919.6h2.4v7.5h-2.4z"/>
<line x1="1064.7" y1="870.9" x2="1064.7" y2="935.6" stroke="#000" stroke-width="2.4"/>
<line x1="1059.7" y1="934.6" x2="1065.2" y2="934.6" stroke="#000" stroke-width="2.4"/>
<text x="1054.5" y="937.6" font-size="20.5" text-anchor="end" fill="#000">0</text>
<line x1="1059.7" y1="919.6" x2="1065.2" y2="919.6" stroke="#000" stroke-width="2.4"/>
<text x="1054.5" y="922.6" font-size="20.5" text-anchor="end" fill="#000">2</text>
<line x1="1059.7" y1="904.6" x2="1065.2" y2="904.6" stroke="#000" stroke-width="2.4"/>
<text x="1054.5" y="907.6" font-size="20.5" text-anchor="end" fill="#000">4</text>
<line x1="1059.7" y1="889.6" x2="1065.2" y2="889.6" stroke="#000" stroke-width="2.4"/>
<text x="1054.5" y="892.6" font-size="20.5" text-anchor="end" fill="#000">6</text>
<line x1="1059.7" y1="874.6" x2="1065.2" y2="874.6" stroke="#000" stroke-width="2.4"/>
<text x="1054.5" y="877.6" font-size="20.5" text-anchor="end" fill="#000">8</text>
<rect x="1064.7" y="935.7" width="274.3" height="16" fill="#63c8d6"/>
<line x1="1068.69" y1="935.7" x2="1068.69" y2="951.7" stroke="#ffffff" stroke-width="0.6" stroke-opacity="0.2"/>
<line x1="1072.67" y1="935.7" x2="1072.67" y2="951.7" stroke="#ffffff" stroke-width="0.6" stroke-opacity="0.2"/>
<line x1="1076.65" y1="935.7" x2="1076.65" y2="951.7" stroke="#ffffff" stroke-width="0.6" stroke-opacity="0.2"/>
<line x1="1080.63" y1="935.7" x2="1080.63" y2="951.7" stroke="#ffffff" stroke-width="0.6" stroke-opacity="0.2"/>
<line x1="1084.61" y1="935.7" x2="1084.61" y2="951.7" stroke="#ffffff" stroke-width="0.6" stroke-opacity="0.2"/>
<line x1="1088.59" y1="935.7" x2="1088.59" y2="951.7" stroke="#ffffff" stroke-width="0.6" stroke-opacity="0.2"/>
<line x1="1092.57" y1="935.7" x2="1092.57" y2="951.7" stroke="#ffffff" stroke-width="0.6" stroke-opacity="0.2"/>
<line x1="1096.55" y1="935.7" x2="1096.55" y2="951.7" stroke="#ffffff" stroke-width="0.6" stroke-opacity="0.2"/>
<line x1="1100.53" y1="935.7" x2="1100.53" y2="951.7" stroke="#ffffff" stroke-width="0.6" stroke-opacity="0.2"/>
<line x1="1104.51" y1="935.7" x2="1104.51" y2="951.7" stroke="#ffffff" stroke-width="0.6" stroke-opacity="0.2"/>
<line x1="1108.49" y1="935.7" x2="1108.49" y2="951.7" stroke="#ffffff" stroke-width="0.6" stroke-opacity="0.2"/>
<line x1="1112.47" y1="935.7" x2="1112.47" y2="951.7" stroke="#ffffff" stroke-width="0.6" stroke-opacity="0.2"/>
<line x1="1116.45" y1="935.7" x2="1116.45" y2="951.7" stroke="#ffffff" stroke-width="0.6" stroke-opacity="0.2"/>
<line x1="1120.43" y1="935.7" x2="1120.43" y2="951.7" stroke="#ffffff" stroke-width="0.6" stroke-opacity="0.2"/>
<line x1="1124.41" y1="935.7" x2="1124.41" y2="951.7" stroke="#ffffff" stroke-width="0.6" stroke-opacity="0.2"/>
<line x1="1128.39" y1="935.7" x2="1128.39" y2="951.7" stroke="#ffffff" stroke-width="0.6" stroke-opacity="0.2"/>
<line x1="1132.37" y1="935.7" x2="1132.37" y2="951.7" stroke="#ffffff" stroke-width="0.6" stroke-opacity="0.2"/>
<line x1="1136.35" y1="935.7" x2="1136.35" y2="951.7" stroke="#ffffff" stroke-width="0.6" stroke-opacity="0.2"/>
<line x1="1140.33" y1="935.7" x2="1140.33" y2="951.7" stroke="#ffffff" stroke-width="0.6" stroke-opacity="0.2"/>
<line x1="1144.31" y1="935.7" x2="1144.31" y2="951.7" stroke="#ffffff" stroke-width="0.6" stroke-opacity="0.2"/>
<line x1="1148.29" y1="935.7" x2="1148.29" y2="951.7" stroke="#ffffff" stroke-width="0.6" stroke-opacity="0.2"/>
<line x1="1152.27" y1="935.7" x2="1152.27" y2="951.7" stroke="#ffffff" stroke-width="0.6" stroke-opacity="0.2"/>
<line x1="1156.25" y1="935.7" x2="1156.25" y2="951.7" stroke="#ffffff" stroke-width="0.6" stroke-opacity="0.2"/>
<line x1="1160.23" y1="935.7" x2="1160.23" y2="951.7" stroke="#ffffff" stroke-width="0.6" stroke-opacity="0.2"/>
<line x1="1164.21" y1="935.7" x2="1164.21" y2="951.7" stroke="#ffffff" stroke-width="0.6" stroke-opacity="0.2"/>
<line x1="1168.19" y1="935.7" x2="1168.19" y2="951.7" stroke="#ffffff" stroke-width="0.6" stroke-opacity="0.2"/>
<line x1="1172.17" y1="935.7" x2="1172.17" y2="951.7" stroke="#ffffff" stroke-width="0.6" stroke-opacity="0.2"/>
<line x1="1176.15" y1="935.7" x2="1176.15" y2="951.7" stroke="#ffffff" stroke-width="0.6" stroke-opacity="0.2"/>
<line x1="1180.13" y1="935.7" x2="1180.13" y2="951.7" stroke="#ffffff" stroke-width="0.6" stroke-opacity="0.2"/>
<line x1="1184.11" y1="935.7" x2="1184.11" y2="951.7" stroke="#ffffff" stroke-width="0.6" stroke-opacity="0.2"/>
<line x1="1188.09" y1="935.7" x2="1188.09" y2="951.7" stroke="#ffffff" stroke-width="0.6" stroke-opacity="0.2"/>
<line x1="1192.07" y1="935.7" x2="1192.07" y2="951.7" stroke="#ffffff" stroke-width="0.6" stroke-opacity="0.2"/>
<line x1="1196.05" y1="935.7" x2="1196.05" y2="951.7" stroke="#ffffff" stroke-width="0.6" stroke-opacity="0.2"/>
<line x1="1200.03" y1="935.7" x2="1200.03" y2="951.7" stroke="#ffffff" stroke-width="0.6" stroke-opacity="0.2"/>
<line x1="1204.01" y1="935.7" x2="1204.01" y2="951.7" stroke="#ffffff" stroke-width="0.6" stroke-opacity="0.2"/>
<line x1="1207.99" y1="935.7" x2="1207.99" y2="951.7" stroke="#ffffff" stroke-width="0.6" stroke-opacity="0.2"/>
<line x1="1211.97" y1="935.7" x2="1211.97" y2="951.7" stroke="#ffffff" stroke-width="0.6" stroke-opacity="0.2"/>
<line x1="1215.95" y1="935.7" x2="1215.95" y2="951.7" stroke="#ffffff" stroke-width="0.6" stroke-opacity="0.2"/>
<line x1="1219.93" y1="935.7" x2="1219.93" y2="951.7" stroke="#ffffff" stroke-width="0.6" stroke-opacity="0.2"/>
<line x1="1223.91" y1="935.7" x2="1223.91" y2="951.7" stroke="#ffffff" stroke-width="0.6" stroke-opacity="0.2"/>
<line x1="1227.89" y1="935.7" x2="1227.89" y2="951.7" stroke="#ffffff" stroke-width="0.6" stroke-opacity="0.2"/>
<line x1="1231.87" y1="935.7" x2="1231.87" y2="951.7" stroke="#ffffff" stroke-width="0.6" stroke-opacity="0.2"/>
<line x1="1235.85" y1="935.7" x2="1235.85" y2="951.7" stroke="#ffffff" stroke-width="0.6" stroke-opacity="0.2"/>
<line x1="1239.83" y1="935.7" x2="1239.83" y2="951.7" stroke="#ffffff" stroke-width="0.6" stroke-opacity="0.2"/>
<line x1="1243.81" y1="935.7" x2="1243.81" y2="951.7" stroke="#ffffff" stroke-width="0.6" stroke-opacity="0.2"/>
<line x1="1247.79" y1="935.7" x2="1247.79" y2="951.7" stroke="#ffffff" stroke-width="0.6" stroke-opacity="0.2"/>
<line x1="1251.77" y1="935.7" x2="1251.77" y2="951.7" stroke="#ffffff" stroke-width="0.6" stroke-opacity="0.2"/>
<line x1="1255.75" y1="935.7" x2="1255.75" y2="951.7" stroke="#ffffff" stroke-width="0.6" stroke-opacity="0.2"/>
<line x1="1259.73" y1="935.7" x2="1259.73" y2="951.7" stroke="#ffffff" stroke-width="0.6" stroke-opacity="0.2"/>
<line x1="1263.71" y1="935.7" x2="1263.71" y2="951.7" stroke="#ffffff" stroke-width="0.6" stroke-opacity="0.2"/>
<line x1="1267.69" y1="935.7" x2="1267.69" y2="951.7" stroke="#ffffff" stroke-width="0.6" stroke-opacity="0.2"/>
<line x1="1271.67" y1="935.7" x2="1271.67" y2="951.7" stroke="#ffffff" stroke-width="0.6" stroke-opacity="0.2"/>
<line x1="1275.65" y1="935.7" x2="1275.65" y2="951.7" stroke="#ffffff" stroke-width="0.6" stroke-opacity="0.2"/>
<line x1="1279.63" y1="935.7" x2="1279.63" y2="951.7" stroke="#ffffff" stroke-width="0.6" stroke-opacity="0.2"/>
<line x1="1283.61" y1="935.7" x2="1283.61" y2="951.7" stroke="#ffffff" stroke-width="0.6" stroke-opacity="0.2"/>
<line x1="1287.59" y1="935.7" x2="1287.59" y2="951.7" stroke="#ffffff" stroke-width="0.6" stroke-opacity="0.2"/>
<line x1="1291.57" y1="935.7" x2="1291.57" y2="951.7" stroke="#ffffff" stroke-width="0.6" stroke-opacity="0.2"/>
<line x1="1295.55" y1="935.7" x2="1295.55" y2="951.7" stroke="#ffffff" stroke-width="0.6" stroke-opacity="0.2"/>
<line x1="1299.53" y1="935.7" x2="1299.53" y2="951.7" stroke="#ffffff" stroke-width="0.6" stroke-opacity="0.2"/>
<line x1="1303.51" y1="935.7" x2="1303.51" y2="951.7" stroke="#ffffff" stroke-width="0.6" stroke-opacity="0.2"/>
<line x1="1307.49" y1="935.7" x2="1307.49" y2="951.7" stroke="#ffffff" stroke-width="0.6" stroke-opacity="0.2"/>
<line x1="1311.47" y1="935.7" x2="1311.47" y2="951.7" stroke="#ffffff" stroke-width="0.6" stroke-opacity="0.2"/>
<line x1="1315.45" y1="935.7" x2="1315.45" y2="951.7" stroke="#ffffff" stroke-width="0.6" stroke-opacity="0.2"/>
<line x1="1319.43" y1="935.7" x2="1319.43" y2="951.7" stroke="#ffffff" stroke-width="0.6" stroke-opacity="0.2"/>
<line x1="1323.41" y1="935.7" x2="1323.41" y2="951.7" stroke="#ffffff" stroke-width="0.6" stroke-opacity="0.2"/>
<line x1="1327.39" y1="935.7" x2="1327.39" y2="951.7" stroke="#ffffff" stroke-width="0.6" stroke-opacity="0.2"/>
<line x1="1331.37" y1="935.7" x2="1331.37" y2="951.7" stroke="#ffffff" stroke-width="0.6" stroke-opacity="0.2"/>
<line x1="1335.35" y1="935.7" x2="1335.35" y2="951.7" stroke="#ffffff" stroke-width="0.6" stroke-opacity="0.2"/>
<text x="1340.5" y="949.8" font-size="20.2" text-anchor="start" fill="#000">NMF3</text>
<defs><pattern id="gp4" patternUnits="userSpaceOnUse" x="1065.55" y="956.1" width="3.98" height="32.1"><rect x="0" y="0" width="2.3" height="29.6" fill="#e5e5e5"/></pattern></defs>
<rect x="1065.55" y="956.1" width="272.94" height="382.7" fill="url(#gp4)"/>
<path fill="#ebb8b8" d="M1065.55 956.1h2.3v29.6h-2.3zM1105.35 956.1h2.3v29.6h-2.3zM1113.31 956.1h2.3v29.6h-2.3zM1129.23 956.1h2.3v29.6h-2.3zM1173.01 956.1h2.3v29.6h-2.3zM1184.95 988.2h2.3v29.6h-2.3zM1188.93 988.2h2.3v29.6h-2.3zM1204.85 988.2h2.3v29.6h-2.3zM1200.87 1084.5h2.3v29.6h-2.3zM1069.53 1180.8h2.3v29.6h-2.3zM1180.97 1180.8h2.3v29.6h-2.3zM1216.79 1180.8h2.3v29.6h-2.3zM1216.79 1212.9h2.3v29.6h-2.3zM1256.59 1212.9h2.3v29.6h-2.3zM1308.33 1212.9h2.3v29.6h-2.3zM1324.25 1212.9h2.3v29.6h-2.3z"/>
<path fill="#b0406a" d="M1069.53 956.1h2.3v29.6h-2.3zM1161.07 956.1h2.3v29.6h-2.3zM1208.83 988.2h2.3v29.6h-2.3zM1228.73 988.2h2.3v29.6h-2.3zM1184.95 1180.8h2.3v29.6h-2.3zM1101.37 1212.9h2.3v29.6h-2.3zM1208.83 1212.9h2.3v29.6h-2.3zM1316.29 1212.9h2.3v29.6h-2.3z"/>
<path fill="#38879b" d="M1073.51 956.1h2.3v29.6h-2.3zM1077.49 956.1h2.3v29.6h-2.3zM1081.47 956.1h2.3v29.6h-2.3zM1085.45 956.1h2.3v29.6h-2.3zM1089.43 956.1h2.3v29.6h-2.3zM1097.39 956.1h2.3v29.6h-2.3zM1101.37 956.1h2.3v29.6h-2.3zM1109.33 956.1h2.3v29.6h-2.3zM1117.29 956.1h2.3v29.6h-2.3zM1121.27 956.1h2.3v29.6h-2.3zM1125.25 956.1h2.3v29.6h-2.3zM1133.21 956.1h2.3v29.6h-2.3zM1137.19 956.1h2.3v29.6h-2.3zM1141.17 956.1h2.3v29.6h-2.3zM1145.15 956.1h2.3v29.6h-2.3zM1149.13 956.1h2.3v29.6h-2.3zM1157.09 956.1h2.3v29.6h-2.3zM1165.05 956.1h2.3v29.6h-2.3zM1069.53 988.2h2.3v29.6h-2.3zM1093.41 988.2h2.3v29.6h-2.3zM1105.35 988.2h2.3v29.6h-2.3zM1232.71 988.2h2.3v29.6h-2.3zM1240.67 988.2h2.3v29.6h-2.3zM1252.61 988.2h2.3v29.6h-2.3zM1065.55 1020.3h2.3v29.6h-2.3zM1176.99 1020.3h2.3v29.6h-2.3zM1180.97 1020.3h2.3v29.6h-2.3zM1184.95 1020.3h2.3v29.6h-2.3zM1188.93 1020.3h2.3v29.6h-2.3zM1192.91 1020.3h2.3v29.6h-2.3zM1200.87 1020.3h2.3v29.6h-2.3zM1204.85 1020.3h2.3v29.6h-2.3zM1208.83 1020.3h2.3v29.6h-2.3zM1212.81 1020.3h2.3v29.6h-2.3zM1256.59 1020.3h2.3v29.6h-2.3zM1260.57 1020.3h2.3v29.6h-2.3zM1264.55 1020.3h2.3v29.6h-2.3zM1272.51 1020.3h2.3v29.6h-2.3zM1276.49 1020.3h2.3v29.6h-2.3zM1280.47 1020.3h2.3v29.6h-2.3zM1284.45 1020.3h2.3v29.6h-2.3zM1288.43 1020.3h2.3v29.6h-2.3zM1292.41 1052.4h2.3v29.6h-2.3zM1296.39 1052.4h2.3v29.6h-2.3zM1073.51 1084.5h2.3v29.6h-2.3zM1176.99 1084.5h2.3v29.6h-2.3zM1184.95 1084.5h2.3v29.6h-2.3zM1188.93 1084.5h2.3v29.6h-2.3zM1228.73 1084.5h2.3v29.6h-2.3zM1232.71 1084.5h2.3v29.6h-2.3zM1236.69 1084.5h2.3v29.6h-2.3zM1304.35 1084.5h2.3v29.6h-2.3zM1069.53 1116.6h2.3v29.6h-2.3zM1145.15 1116.6h2.3v29.6h-2.3zM1157.09 1180.8h2.3v29.6h-2.3zM1176.99 1180.8h2.3v29.6h-2.3zM1240.67 1180.8h2.3v29.6h-2.3zM1244.65 1180.8h2.3v29.6h-2.3zM1304.35 1180.8h2.3v29.6h-2.3zM1073.51 1212.9h2.3v29.6h-2.3zM1200.87 1212.9h2.3v29.6h-2.3zM1312.31 1212.9h2.3v29.6h-2.3zM1085.45 1245h2.3v29.6h-2.3zM1101.37 1245h2.3v29.6h-2.3zM1113.31 1245h2.3v29.6h-2.3zM1129.23 1245h2.3v29.6h-2.3zM1153.11 1245h2.3v29.6h-2.3zM1216.79 1245h2.3v29.6h-2.3zM1332.21 1245h2.3v29.6h-2.3zM1069.53 1277.1h2.3v29.6h-2.3zM1073.51 1277.1h2.3v29.6h-2.3zM1125.25 1277.1h2.3v29.6h-2.3zM1129.23 1277.1h2.3v29.6h-2.3zM1240.67 1277.1h2.3v29.6h-2.3zM1276.49 1277.1h2.3v29.6h-2.3zM1280.47 1277.1h2.3v29.6h-2.3zM1077.49 1309.2h2.3v29.6h-2.3zM1093.41 1309.2h2.3v29.6h-2.3zM1141.17 1309.2h2.3v29.6h-2.3zM1232.71 1309.2h2.3v29.6h-2.3zM1264.55 1309.2h2.3v29.6h-2.3zM1276.49 1309.2h2.3v29.6h-2.3zM1304.35 1309.2h2.3v29.6h-2.3z"/>
<path fill="#f5e816" d="M1093.41 956.1h2.3v29.6h-2.3zM1169.03 956.1h2.3v29.6h-2.3zM1180.97 988.2h2.3v29.6h-2.3zM1192.91 988.2h2.3v29.6h-2.3zM1248.63 988.2h2.3v29.6h-2.3zM1069.53 1084.5h2.3v29.6h-2.3zM1204.85 1084.5h2.3v29.6h-2.3zM1256.59 1116.6h2.3v29.6h-2.3zM1272.51 1180.8h2.3v29.6h-2.3zM1093.41 1212.9h2.3v29.6h-2.3zM1276.49 1212.9h2.3v29.6h-2.3z"/>
<path fill="#f8a21d" d="M1153.11 956.1h2.3v29.6h-2.3zM1200.87 988.2h2.3v29.6h-2.3zM1081.47 1245h2.3v29.6h-2.3zM1137.19 1245h2.3v29.6h-2.3zM1157.09 1245h2.3v29.6h-2.3zM1161.07 1245h2.3v29.6h-2.3zM1165.05 1245h2.3v29.6h-2.3zM1268.53 1245h2.3v29.6h-2.3zM1292.41 1245h2.3v29.6h-2.3zM1300.37 1245h2.3v29.6h-2.3zM1328.23 1245h2.3v29.6h-2.3z"/>
<path fill="#218e42" d="M1065.55 988.2h2.3v29.6h-2.3zM1073.51 988.2h2.3v29.6h-2.3zM1077.49 988.2h2.3v29.6h-2.3zM1081.47 988.2h2.3v29.6h-2.3zM1085.45 988.2h2.3v29.6h-2.3zM1089.43 988.2h2.3v29.6h-2.3zM1097.39 988.2h2.3v29.6h-2.3zM1101.37 988.2h2.3v29.6h-2.3zM1176.99 988.2h2.3v29.6h-2.3zM1196.89 988.2h2.3v29.6h-2.3zM1212.81 988.2h2.3v29.6h-2.3zM1216.79 988.2h2.3v29.6h-2.3zM1220.77 988.2h2.3v29.6h-2.3zM1236.69 988.2h2.3v29.6h-2.3zM1244.65 988.2h2.3v29.6h-2.3zM1109.33 1020.3h2.3v29.6h-2.3zM1196.89 1020.3h2.3v29.6h-2.3zM1065.55 1052.4h2.3v29.6h-2.3zM1069.53 1052.4h2.3v29.6h-2.3zM1073.51 1052.4h2.3v29.6h-2.3zM1077.49 1052.4h2.3v29.6h-2.3zM1081.47 1052.4h2.3v29.6h-2.3zM1085.45 1052.4h2.3v29.6h-2.3zM1113.31 1052.4h2.3v29.6h-2.3zM1121.27 1052.4h2.3v29.6h-2.3zM1176.99 1052.4h2.3v29.6h-2.3zM1180.97 1052.4h2.3v29.6h-2.3zM1184.95 1052.4h2.3v29.6h-2.3zM1188.93 1052.4h2.3v29.6h-2.3zM1192.91 1052.4h2.3v29.6h-2.3zM1196.89 1052.4h2.3v29.6h-2.3zM1216.79 1052.4h2.3v29.6h-2.3zM1220.77 1052.4h2.3v29.6h-2.3zM1256.59 1052.4h2.3v29.6h-2.3zM1260.57 1052.4h2.3v29.6h-2.3zM1300.37 1052.4h2.3v29.6h-2.3zM1065.55 1084.5h2.3v29.6h-2.3zM1089.43 1084.5h2.3v29.6h-2.3zM1093.41 1084.5h2.3v29.6h-2.3zM1180.97 1084.5h2.3v29.6h-2.3zM1192.91 1084.5h2.3v29.6h-2.3zM1216.79 1084.5h2.3v29.6h-2.3zM1264.55 1084.5h2.3v29.6h-2.3zM1113.31 1116.6h2.3v29.6h-2.3zM1133.21 1116.6h2.3v29.6h-2.3zM1137.19 1116.6h2.3v29.6h-2.3zM1141.17 1116.6h2.3v29.6h-2.3zM1176.99 1116.6h2.3v29.6h-2.3zM1180.97 1116.6h2.3v29.6h-2.3zM1224.75 1116.6h2.3v29.6h-2.3zM1268.53 1116.6h2.3v29.6h-2.3zM1292.41 1116.6h2.3v29.6h-2.3zM1296.39 1116.6h2.3v29.6h-2.3zM1081.47 1180.8h2.3v29.6h-2.3zM1089.43 1180.8h2.3v29.6h-2.3zM1188.93 1180.8h2.3v29.6h-2.3zM1192.91 1180.8h2.3v29.6h-2.3zM1232.71 1180.8h2.3v29.6h-2.3zM1264.55 1180.8h2.3v29.6h-2.3zM1065.55 1212.9h2.3v29.6h-2.3zM1224.75 1212.9h2.3v29.6h-2.3zM1336.19 1277.1h2.3v29.6h-2.3z"/>
<path fill="#eb2027" d="M1224.75 988.2h2.3v29.6h-2.3zM1268.53 1020.3h2.3v29.6h-2.3zM1125.25 1084.5h2.3v29.6h-2.3zM1224.75 1084.5h2.3v29.6h-2.3zM1077.49 1116.6h2.3v29.6h-2.3zM1129.23 1116.6h2.3v29.6h-2.3zM1065.55 1148.7h2.3v29.6h-2.3zM1077.49 1148.7h2.3v29.6h-2.3zM1097.39 1148.7h2.3v29.6h-2.3zM1113.31 1148.7h2.3v29.6h-2.3zM1117.29 1148.7h2.3v29.6h-2.3zM1129.23 1148.7h2.3v29.6h-2.3zM1133.21 1148.7h2.3v29.6h-2.3zM1149.13 1148.7h2.3v29.6h-2.3zM1153.11 1148.7h2.3v29.6h-2.3zM1184.95 1148.7h2.3v29.6h-2.3zM1196.89 1148.7h2.3v29.6h-2.3zM1224.75 1148.7h2.3v29.6h-2.3zM1228.73 1148.7h2.3v29.6h-2.3zM1256.59 1148.7h2.3v29.6h-2.3zM1268.53 1148.7h2.3v29.6h-2.3zM1224.75 1180.8h2.3v29.6h-2.3zM1137.19 1212.9h2.3v29.6h-2.3zM1320.27 1212.9h2.3v29.6h-2.3zM1149.13 1245h2.3v29.6h-2.3zM1224.75 1245h2.3v29.6h-2.3zM1236.69 1245h2.3v29.6h-2.3zM1065.55 1309.2h2.3v29.6h-2.3zM1129.23 1309.2h2.3v29.6h-2.3zM1149.13 1309.2h2.3v29.6h-2.3zM1224.75 1309.2h2.3v29.6h-2.3z"/>
<path fill="#fde1c4" d="M1117.29 1052.4h2.3v29.6h-2.3z"/>
<text x="1339.4" y="982" font-size="20.3" text-anchor="start" fill="#000">TP53</text>
<rect x="1445.9" y="961.5" width="35.1" height="19.2" fill="#38879b"/>
<rect x="1481" y="961.5" width="9.75" height="19.2" fill="#ebb8b8"/>
<rect x="1490.75" y="961.5" width="3.9" height="19.2" fill="#f5e816"/>
<rect x="1494.65" y="961.5" width="1.95" height="19.2" fill="#f8a21d"/>
<rect x="1496.6" y="961.5" width="3.9" height="19.2" fill="#b0406a"/>
<text x="1339.4" y="1014.1" font-size="20.3" text-anchor="start" fill="#000">STK11</text>
<rect x="1445.9" y="993.6" width="11.7" height="19.2" fill="#38879b"/>
<rect x="1457.6" y="993.6" width="5.85" height="19.2" fill="#ebb8b8"/>
<rect x="1463.45" y="993.6" width="5.85" height="19.2" fill="#f5e816"/>
<rect x="1469.3" y="993.6" width="1.95" height="19.2" fill="#f8a21d"/>
<rect x="1471.25" y="993.6" width="3.9" height="19.2" fill="#b0406a"/>
<rect x="1475.15" y="993.6" width="1.95" height="19.2" fill="#eb2027"/>
<rect x="1477.1" y="993.6" width="29.25" height="19.2" fill="#218e42"/>
<text x="1339.4" y="1046.2" font-size="20.3" text-anchor="start" fill="#000">KRAS</text>
<rect x="1445.9" y="1025.7" width="35.1" height="19.2" fill="#38879b"/>
<rect x="1481" y="1025.7" width="1.95" height="19.2" fill="#eb2027"/>
<rect x="1482.95" y="1025.7" width="3.9" height="19.2" fill="#218e42"/>
<text x="1339.4" y="1078.3" font-size="20.3" text-anchor="start" fill="#000">NOTCH1</text>
<rect x="1445.9" y="1057.8" width="3.9" height="19.2" fill="#38879b"/>
<rect x="1449.8" y="1057.8" width="1.95" height="19.2" fill="#fde1c4"/>
<rect x="1451.75" y="1057.8" width="37.05" height="19.2" fill="#218e42"/>
<text x="1339.4" y="1110.4" font-size="20.3" text-anchor="start" fill="#000">KEAP1</text>
<rect x="1445.9" y="1089.9" width="15.6" height="19.2" fill="#38879b"/>
<rect x="1461.5" y="1089.9" width="1.95" height="19.2" fill="#ebb8b8"/>
<rect x="1463.45" y="1089.9" width="3.9" height="19.2" fill="#f5e816"/>
<rect x="1467.35" y="1089.9" width="3.9" height="19.2" fill="#eb2027"/>
<rect x="1471.25" y="1089.9" width="13.65" height="19.2" fill="#218e42"/>
<text x="1339.4" y="1142.5" font-size="20.3" text-anchor="start" fill="#000">CDKN2A</text>
<rect x="1445.9" y="1122" width="3.9" height="19.2" fill="#38879b"/>
<rect x="1449.8" y="1122" width="1.95" height="19.2" fill="#f5e816"/>
<rect x="1451.75" y="1122" width="3.9" height="19.2" fill="#eb2027"/>
<rect x="1455.65" y="1122" width="19.5" height="19.2" fill="#218e42"/>
<text x="1339.4" y="1174.6" font-size="20.3" text-anchor="start" fill="#000">NFE2L2</text>
<rect x="1445.9" y="1154.1" width="29.25" height="19.2" fill="#eb2027"/>
<text x="1339.4" y="1206.7" font-size="20.3" text-anchor="start" fill="#000">SMARCA4</text>
<rect x="1445.9" y="1186.2" width="9.75" height="19.2" fill="#38879b"/>
<rect x="1455.65" y="1186.2" width="5.85" height="19.2" fill="#ebb8b8"/>
<rect x="1461.5" y="1186.2" width="1.95" height="19.2" fill="#f5e816"/>
<rect x="1463.45" y="1186.2" width="1.95" height="19.2" fill="#b0406a"/>
<rect x="1465.4" y="1186.2" width="1.95" height="19.2" fill="#eb2027"/>
<rect x="1467.35" y="1186.2" width="11.7" height="19.2" fill="#218e42"/>
<text x="1339.4" y="1238.8" font-size="20.3" text-anchor="start" fill="#000">RBM10</text>
<rect x="1445.9" y="1218.3" width="5.85" height="19.2" fill="#38879b"/>
<rect x="1451.75" y="1218.3" width="7.8" height="19.2" fill="#ebb8b8"/>
<rect x="1459.55" y="1218.3" width="3.9" height="19.2" fill="#f5e816"/>
<rect x="1463.45" y="1218.3" width="5.85" height="19.2" fill="#b0406a"/>
<rect x="1469.3" y="1218.3" width="3.9" height="19.2" fill="#eb2027"/>
<rect x="1473.2" y="1218.3" width="3.9" height="19.2" fill="#218e42"/>
<text x="1339.4" y="1270.9" font-size="20.3" text-anchor="start" fill="#000">EGFR</text>
<rect x="1445.9" y="1250.4" width="13.65" height="19.2" fill="#38879b"/>
<rect x="1459.55" y="1250.4" width="17.55" height="19.2" fill="#f8a21d"/>
<rect x="1477.1" y="1250.4" width="5.85" height="19.2" fill="#eb2027"/>
<text x="1339.4" y="1303" font-size="20.3" text-anchor="start" fill="#000">FAT1</text>
<rect x="1445.9" y="1282.5" width="13.65" height="19.2" fill="#38879b"/>
<rect x="1459.55" y="1282.5" width="1.95" height="19.2" fill="#218e42"/>
<text x="1339.4" y="1335.1" font-size="20.3" text-anchor="start" fill="#000">BRAF</text>
<rect x="1445.9" y="1314.6" width="13.65" height="19.2" fill="#38879b"/>
<rect x="1459.55" y="1314.6" width="7.8" height="19.2" fill="#eb2027"/>
<text x="1042.95" y="980.1" font-size="20.3" text-anchor="middle" fill="#000">38%</text>
<text x="1042.95" y="1012.7" font-size="20.3" text-anchor="middle" fill="#000">42%</text>
<text x="1042.95" y="1045.3" font-size="20.3" text-anchor="middle" fill="#000">28%</text>
<text x="1042.95" y="1077.9" font-size="20.3" text-anchor="middle" fill="#000">30%</text>
<text x="1042.95" y="1110.5" font-size="20.3" text-anchor="middle" fill="#000">27%</text>
<text x="1042.95" y="1143.1" font-size="20.3" text-anchor="middle" fill="#000">20%</text>
<text x="1042.95" y="1175.7" font-size="20.3" text-anchor="middle" fill="#000">20%</text>
<text x="1042.95" y="1208.3" font-size="20.3" text-anchor="middle" fill="#000">23%</text>
<text x="1042.95" y="1240.9" font-size="20.3" text-anchor="middle" fill="#000">22%</text>
<text x="1042.95" y="1273.5" font-size="20.3" text-anchor="middle" fill="#000">26%</text>
<text x="1042.95" y="1306.1" font-size="20.3" text-anchor="middle" fill="#000">11%</text>
<text x="1042.95" y="1338.7" font-size="20.3" text-anchor="middle" fill="#000">15%</text>
<line x1="1444.9" y1="954.5" x2="1510.3" y2="954.5" stroke="#000" stroke-width="2.2"/>
<line x1="1445.9" y1="950" x2="1445.9" y2="955.5" stroke="#000" stroke-width="2.2"/>
<line x1="1465.35" y1="950" x2="1465.35" y2="955.5" stroke="#000" stroke-width="2.2"/>
<line x1="1484.8" y1="950" x2="1484.8" y2="955.5" stroke="#000" stroke-width="2.2"/>
<line x1="1504.25" y1="950" x2="1504.25" y2="955.5" stroke="#000" stroke-width="2.2"/>
<text x="1445.9" y="948" font-size="20.3" text-anchor="middle" fill="#000">0</text>
<text x="1484.8" y="948" font-size="20.3" text-anchor="middle" fill="#000">20</text>
<path fill="#38879b" d="M1561.1 926.97h3v10.03h-3zM1571.4 916.94h3v20.06h-3zM1576.55 926.97h3v10.03h-3zM1581.7 916.94h3v20.06h-3zM1592 926.97h3v10.03h-3zM1602.3 926.97h3v10.03h-3zM1607.45 926.97h3v10.03h-3zM1612.6 906.91h3v30.09h-3zM1617.75 916.94h3v20.06h-3zM1622.9 926.97h3v10.03h-3zM1628.05 926.97h3v10.03h-3zM1633.2 926.97h3v10.03h-3zM1638.35 916.94h3v20.06h-3zM1643.5 926.97h3v10.03h-3zM1648.65 926.97h3v10.03h-3zM1653.8 926.97h3v10.03h-3zM1658.95 926.97h3v10.03h-3zM1664.1 916.94h3v20.06h-3zM1679.55 926.97h3v10.03h-3zM1684.7 916.94h3v20.06h-3zM1689.85 926.97h3v10.03h-3zM1695 926.97h3v10.03h-3zM1700.15 926.97h3v10.03h-3zM1705.3 926.97h3v10.03h-3zM1710.45 926.97h3v10.03h-3zM1715.6 926.97h3v10.03h-3zM1720.75 916.94h3v20.06h-3zM1725.9 916.94h3v20.06h-3zM1751.65 926.97h3v10.03h-3zM1756.8 906.91h3v30.09h-3zM1761.95 926.97h3v10.03h-3zM1772.25 926.97h3v10.03h-3zM1777.4 926.97h3v10.03h-3zM1782.55 926.97h3v10.03h-3zM1787.7 926.97h3v10.03h-3zM1813.45 926.97h3v10.03h-3zM1818.6 926.97h3v10.03h-3zM1823.75 926.97h3v10.03h-3zM1828.9 926.97h3v10.03h-3z"/>
<path fill="#ebb8b8" d="M1561.1 916.94h3v10.03h-3zM1566.25 926.97h3v10.03h-3zM1576.55 916.94h3v10.03h-3zM1581.7 906.91h3v10.03h-3zM1592 916.94h3v10.03h-3zM1597.15 926.97h3v10.03h-3zM1638.35 906.91h3v10.03h-3zM1643.5 916.94h3v10.03h-3zM1648.65 916.94h3v10.03h-3zM1653.8 916.94h3v10.03h-3zM1679.55 916.94h3v10.03h-3zM1689.85 916.94h3v10.03h-3zM1695 916.94h3v10.03h-3z"/>
<path fill="#eb2027" d="M1561.1 896.88h3v20.06h-3zM1617.75 906.91h3v10.03h-3zM1628.05 906.91h3v20.06h-3zM1633.2 916.94h3v10.03h-3zM1653.8 896.88h3v10.03h-3zM1664.1 906.91h3v10.03h-3zM1669.25 916.94h3v10.03h-3zM1761.95 916.94h3v10.03h-3zM1767.1 916.94h3v20.06h-3zM1792.85 926.97h3v10.03h-3zM1798 926.97h3v10.03h-3z"/>
<path fill="#218e42" d="M1561.1 876.82h3v20.06h-3zM1566.25 876.82h3v40.12h-3zM1571.4 896.88h3v10.03h-3zM1586.85 916.94h3v10.03h-3zM1597.15 916.94h3v10.03h-3zM1602.3 906.91h3v10.03h-3zM1607.45 906.91h3v10.03h-3zM1617.75 896.88h3v10.03h-3zM1628.05 896.88h3v10.03h-3zM1633.2 896.88h3v20.06h-3zM1731.05 916.94h3v20.06h-3zM1736.2 916.94h3v20.06h-3zM1746.5 926.97h3v10.03h-3zM1751.65 916.94h3v10.03h-3zM1787.7 916.94h3v10.03h-3z"/>
<path fill="#f8a21d" d="M1566.25 916.94h3v10.03h-3zM1808.3 926.97h3v10.03h-3z"/>
<path fill="#b0406a" d="M1571.4 906.91h3v10.03h-3zM1602.3 916.94h3v10.03h-3zM1607.45 916.94h3v10.03h-3zM1622.9 906.91h3v10.03h-3zM1674.4 916.94h3v10.03h-3z"/>
<path fill="#f5e816" d="M1576.55 906.91h3v10.03h-3zM1586.85 926.97h3v10.03h-3zM1622.9 916.94h3v10.03h-3zM1653.8 906.91h3v10.03h-3zM1658.95 916.94h3v10.03h-3zM1669.25 926.97h3v10.03h-3zM1674.4 926.97h3v10.03h-3zM1720.75 896.88h3v20.06h-3zM1741.35 926.97h3v10.03h-3zM1772.25 916.94h3v10.03h-3zM1803.15 926.97h3v10.03h-3z"/>
<line x1="1559.9" y1="873.1" x2="1559.9" y2="938" stroke="#000" stroke-width="2.4"/>
<line x1="1554.9" y1="937" x2="1560.4" y2="937" stroke="#000" stroke-width="2.4"/>
<text x="1548.5" y="940" font-size="20.5" text-anchor="end" fill="#000">0</text>
<line x1="1554.9" y1="916.94" x2="1560.4" y2="916.94" stroke="#000" stroke-width="2.4"/>
<text x="1548.5" y="919.94" font-size="20.5" text-anchor="end" fill="#000">2</text>
<line x1="1554.9" y1="896.88" x2="1560.4" y2="896.88" stroke="#000" stroke-width="2.4"/>
<text x="1548.5" y="899.88" font-size="20.5" text-anchor="end" fill="#000">4</text>
<line x1="1554.9" y1="876.82" x2="1560.4" y2="876.82" stroke="#000" stroke-width="2.4"/>
<text x="1548.5" y="879.82" font-size="20.5" text-anchor="end" fill="#000">6</text>
<rect x="1560" y="938.3" width="273" height="15.6" fill="#9984c1"/>
<line x1="1565.17" y1="938.3" x2="1565.17" y2="953.9" stroke="#ffffff" stroke-width="0.6" stroke-opacity="0.2"/>
<line x1="1570.32" y1="938.3" x2="1570.32" y2="953.9" stroke="#ffffff" stroke-width="0.6" stroke-opacity="0.2"/>
<line x1="1575.47" y1="938.3" x2="1575.47" y2="953.9" stroke="#ffffff" stroke-width="0.6" stroke-opacity="0.2"/>
<line x1="1580.62" y1="938.3" x2="1580.62" y2="953.9" stroke="#ffffff" stroke-width="0.6" stroke-opacity="0.2"/>
<line x1="1585.77" y1="938.3" x2="1585.77" y2="953.9" stroke="#ffffff" stroke-width="0.6" stroke-opacity="0.2"/>
<line x1="1590.92" y1="938.3" x2="1590.92" y2="953.9" stroke="#ffffff" stroke-width="0.6" stroke-opacity="0.2"/>
<line x1="1596.07" y1="938.3" x2="1596.07" y2="953.9" stroke="#ffffff" stroke-width="0.6" stroke-opacity="0.2"/>
<line x1="1601.22" y1="938.3" x2="1601.22" y2="953.9" stroke="#ffffff" stroke-width="0.6" stroke-opacity="0.2"/>
<line x1="1606.38" y1="938.3" x2="1606.38" y2="953.9" stroke="#ffffff" stroke-width="0.6" stroke-opacity="0.2"/>
<line x1="1611.52" y1="938.3" x2="1611.52" y2="953.9" stroke="#ffffff" stroke-width="0.6" stroke-opacity="0.2"/>
<line x1="1616.67" y1="938.3" x2="1616.67" y2="953.9" stroke="#ffffff" stroke-width="0.6" stroke-opacity="0.2"/>
<line x1="1621.82" y1="938.3" x2="1621.82" y2="953.9" stroke="#ffffff" stroke-width="0.6" stroke-opacity="0.2"/>
<line x1="1626.97" y1="938.3" x2="1626.97" y2="953.9" stroke="#ffffff" stroke-width="0.6" stroke-opacity="0.2"/>
<line x1="1632.12" y1="938.3" x2="1632.12" y2="953.9" stroke="#ffffff" stroke-width="0.6" stroke-opacity="0.2"/>
<line x1="1637.27" y1="938.3" x2="1637.27" y2="953.9" stroke="#ffffff" stroke-width="0.6" stroke-opacity="0.2"/>
<line x1="1642.42" y1="938.3" x2="1642.42" y2="953.9" stroke="#ffffff" stroke-width="0.6" stroke-opacity="0.2"/>
<line x1="1647.57" y1="938.3" x2="1647.57" y2="953.9" stroke="#ffffff" stroke-width="0.6" stroke-opacity="0.2"/>
<line x1="1652.72" y1="938.3" x2="1652.72" y2="953.9" stroke="#ffffff" stroke-width="0.6" stroke-opacity="0.2"/>
<line x1="1657.88" y1="938.3" x2="1657.88" y2="953.9" stroke="#ffffff" stroke-width="0.6" stroke-opacity="0.2"/>
<line x1="1663.02" y1="938.3" x2="1663.02" y2="953.9" stroke="#ffffff" stroke-width="0.6" stroke-opacity="0.2"/>
<line x1="1668.17" y1="938.3" x2="1668.17" y2="953.9" stroke="#ffffff" stroke-width="0.6" stroke-opacity="0.2"/>
<line x1="1673.32" y1="938.3" x2="1673.32" y2="953.9" stroke="#ffffff" stroke-width="0.6" stroke-opacity="0.2"/>
<line x1="1678.47" y1="938.3" x2="1678.47" y2="953.9" stroke="#ffffff" stroke-width="0.6" stroke-opacity="0.2"/>
<line x1="1683.62" y1="938.3" x2="1683.62" y2="953.9" stroke="#ffffff" stroke-width="0.6" stroke-opacity="0.2"/>
<line x1="1688.77" y1="938.3" x2="1688.77" y2="953.9" stroke="#ffffff" stroke-width="0.6" stroke-opacity="0.2"/>
<line x1="1693.92" y1="938.3" x2="1693.92" y2="953.9" stroke="#ffffff" stroke-width="0.6" stroke-opacity="0.2"/>
<line x1="1699.07" y1="938.3" x2="1699.07" y2="953.9" stroke="#ffffff" stroke-width="0.6" stroke-opacity="0.2"/>
<line x1="1704.22" y1="938.3" x2="1704.22" y2="953.9" stroke="#ffffff" stroke-width="0.6" stroke-opacity="0.2"/>
<line x1="1709.38" y1="938.3" x2="1709.38" y2="953.9" stroke="#ffffff" stroke-width="0.6" stroke-opacity="0.2"/>
<line x1="1714.52" y1="938.3" x2="1714.52" y2="953.9" stroke="#ffffff" stroke-width="0.6" stroke-opacity="0.2"/>
<line x1="1719.67" y1="938.3" x2="1719.67" y2="953.9" stroke="#ffffff" stroke-width="0.6" stroke-opacity="0.2"/>
<line x1="1724.82" y1="938.3" x2="1724.82" y2="953.9" stroke="#ffffff" stroke-width="0.6" stroke-opacity="0.2"/>
<line x1="1729.97" y1="938.3" x2="1729.97" y2="953.9" stroke="#ffffff" stroke-width="0.6" stroke-opacity="0.2"/>
<line x1="1735.12" y1="938.3" x2="1735.12" y2="953.9" stroke="#ffffff" stroke-width="0.6" stroke-opacity="0.2"/>
<line x1="1740.27" y1="938.3" x2="1740.27" y2="953.9" stroke="#ffffff" stroke-width="0.6" stroke-opacity="0.2"/>
<line x1="1745.42" y1="938.3" x2="1745.42" y2="953.9" stroke="#ffffff" stroke-width="0.6" stroke-opacity="0.2"/>
<line x1="1750.57" y1="938.3" x2="1750.57" y2="953.9" stroke="#ffffff" stroke-width="0.6" stroke-opacity="0.2"/>
<line x1="1755.72" y1="938.3" x2="1755.72" y2="953.9" stroke="#ffffff" stroke-width="0.6" stroke-opacity="0.2"/>
<line x1="1760.88" y1="938.3" x2="1760.88" y2="953.9" stroke="#ffffff" stroke-width="0.6" stroke-opacity="0.2"/>
<line x1="1766.02" y1="938.3" x2="1766.02" y2="953.9" stroke="#ffffff" stroke-width="0.6" stroke-opacity="0.2"/>
<line x1="1771.17" y1="938.3" x2="1771.17" y2="953.9" stroke="#ffffff" stroke-width="0.6" stroke-opacity="0.2"/>
<line x1="1776.32" y1="938.3" x2="1776.32" y2="953.9" stroke="#ffffff" stroke-width="0.6" stroke-opacity="0.2"/>
<line x1="1781.47" y1="938.3" x2="1781.47" y2="953.9" stroke="#ffffff" stroke-width="0.6" stroke-opacity="0.2"/>
<line x1="1786.62" y1="938.3" x2="1786.62" y2="953.9" stroke="#ffffff" stroke-width="0.6" stroke-opacity="0.2"/>
<line x1="1791.77" y1="938.3" x2="1791.77" y2="953.9" stroke="#ffffff" stroke-width="0.6" stroke-opacity="0.2"/>
<line x1="1796.92" y1="938.3" x2="1796.92" y2="953.9" stroke="#ffffff" stroke-width="0.6" stroke-opacity="0.2"/>
<line x1="1802.07" y1="938.3" x2="1802.07" y2="953.9" stroke="#ffffff" stroke-width="0.6" stroke-opacity="0.2"/>
<line x1="1807.22" y1="938.3" x2="1807.22" y2="953.9" stroke="#ffffff" stroke-width="0.6" stroke-opacity="0.2"/>
<line x1="1812.38" y1="938.3" x2="1812.38" y2="953.9" stroke="#ffffff" stroke-width="0.6" stroke-opacity="0.2"/>
<line x1="1817.52" y1="938.3" x2="1817.52" y2="953.9" stroke="#ffffff" stroke-width="0.6" stroke-opacity="0.2"/>
<line x1="1822.67" y1="938.3" x2="1822.67" y2="953.9" stroke="#ffffff" stroke-width="0.6" stroke-opacity="0.2"/>
<line x1="1827.82" y1="938.3" x2="1827.82" y2="953.9" stroke="#ffffff" stroke-width="0.6" stroke-opacity="0.2"/>
<text x="1836.8" y="952.8" font-size="20.2" text-anchor="start" fill="#000">NMF4</text>
<defs><pattern id="gp5" patternUnits="userSpaceOnUse" x="1561.1" y="958" width="5.15" height="32.2"><rect x="0" y="0" width="3" height="29.8" fill="#e5e5e5"/></pattern></defs>
<rect x="1561.1" y="958" width="270.8" height="384" fill="url(#gp5)"/>
<path fill="#38879b" d="M1561.1 958h3v29.8h-3zM1581.7 958h3v29.8h-3zM1612.6 958h3v29.8h-3zM1617.75 958h3v29.8h-3zM1628.05 958h3v29.8h-3zM1633.2 958h3v29.8h-3zM1643.5 958h3v29.8h-3zM1648.65 958h3v29.8h-3zM1664.1 958h3v29.8h-3zM1684.7 958h3v29.8h-3zM1700.15 958h3v29.8h-3zM1705.3 958h3v29.8h-3zM1710.45 958h3v29.8h-3zM1715.6 958h3v29.8h-3zM1571.4 990.2h3v29.8h-3zM1592 990.2h3v29.8h-3zM1720.75 990.2h3v29.8h-3zM1725.9 990.2h3v29.8h-3zM1602.3 1022.4h3v29.8h-3zM1607.45 1022.4h3v29.8h-3zM1612.6 1022.4h3v29.8h-3zM1617.75 1022.4h3v29.8h-3zM1720.75 1022.4h3v29.8h-3zM1725.9 1022.4h3v29.8h-3zM1751.65 1022.4h3v29.8h-3zM1756.8 1022.4h3v29.8h-3zM1761.95 1022.4h3v29.8h-3zM1772.25 1022.4h3v29.8h-3zM1777.4 1022.4h3v29.8h-3zM1782.55 1022.4h3v29.8h-3zM1622.9 1054.6h3v29.8h-3zM1571.4 1086.8h3v29.8h-3zM1576.55 1086.8h3v29.8h-3zM1612.6 1086.8h3v29.8h-3zM1638.35 1086.8h3v29.8h-3zM1787.7 1086.8h3v29.8h-3zM1638.35 1119h3v29.8h-3zM1653.8 1119h3v29.8h-3zM1658.95 1119h3v29.8h-3zM1756.8 1119h3v29.8h-3zM1581.7 1151.2h3v29.8h-3zM1664.1 1183.4h3v29.8h-3zM1756.8 1183.4h3v29.8h-3zM1679.55 1247.8h3v29.8h-3zM1684.7 1247.8h3v29.8h-3zM1813.45 1247.8h3v29.8h-3zM1689.85 1280h3v29.8h-3zM1818.6 1280h3v29.8h-3zM1823.75 1280h3v29.8h-3zM1695 1312.2h3v29.8h-3zM1828.9 1312.2h3v29.8h-3z"/>
<path fill="#ebb8b8" d="M1566.25 958h3v29.8h-3zM1576.55 958h3v29.8h-3zM1592 958h3v29.8h-3zM1597.15 958h3v29.8h-3zM1638.35 958h3v29.8h-3zM1679.55 958h3v29.8h-3zM1689.85 958h3v29.8h-3zM1695 958h3v29.8h-3zM1581.7 990.2h3v29.8h-3zM1561.1 1086.8h3v29.8h-3zM1643.5 1086.8h3v29.8h-3zM1648.65 1086.8h3v29.8h-3zM1653.8 1215.6h3v29.8h-3z"/>
<path fill="#b0406a" d="M1571.4 958h3v29.8h-3zM1602.3 958h3v29.8h-3zM1607.45 958h3v29.8h-3zM1622.9 958h3v29.8h-3zM1674.4 1215.6h3v29.8h-3z"/>
<path fill="#f5e816" d="M1586.85 958h3v29.8h-3zM1653.8 958h3v29.8h-3zM1658.95 958h3v29.8h-3zM1669.25 958h3v29.8h-3zM1674.4 958h3v29.8h-3zM1576.55 990.2h3v29.8h-3zM1741.35 990.2h3v29.8h-3zM1622.9 1086.8h3v29.8h-3zM1720.75 1086.8h3v29.8h-3zM1803.15 1119h3v29.8h-3zM1720.75 1183.4h3v29.8h-3zM1772.25 1215.6h3v29.8h-3z"/>
<path fill="#218e42" d="M1561.1 990.2h3v29.8h-3zM1566.25 990.2h3v29.8h-3zM1586.85 990.2h3v29.8h-3zM1597.15 990.2h3v29.8h-3zM1731.05 990.2h3v29.8h-3zM1736.2 990.2h3v29.8h-3zM1746.5 990.2h3v29.8h-3zM1561.1 1054.6h3v29.8h-3zM1566.25 1054.6h3v29.8h-3zM1571.4 1054.6h3v29.8h-3zM1602.3 1054.6h3v29.8h-3zM1607.45 1054.6h3v29.8h-3zM1628.05 1054.6h3v29.8h-3zM1633.2 1054.6h3v29.8h-3zM1731.05 1054.6h3v29.8h-3zM1736.2 1054.6h3v29.8h-3zM1751.65 1054.6h3v29.8h-3zM1566.25 1086.8h3v29.8h-3zM1566.25 1183.4h3v29.8h-3zM1633.2 1183.4h3v29.8h-3zM1617.75 1215.6h3v29.8h-3zM1787.7 1215.6h3v29.8h-3z"/>
<path fill="#eb2027" d="M1767.1 1022.4h3v29.8h-3zM1561.1 1119h3v29.8h-3zM1628.05 1119h3v29.8h-3zM1633.2 1119h3v29.8h-3zM1761.95 1119h3v29.8h-3zM1792.85 1119h3v29.8h-3zM1798 1119h3v29.8h-3zM1561.1 1151.2h3v29.8h-3zM1617.75 1151.2h3v29.8h-3zM1628.05 1151.2h3v29.8h-3zM1653.8 1151.2h3v29.8h-3zM1664.1 1151.2h3v29.8h-3zM1669.25 1151.2h3v29.8h-3zM1767.1 1151.2h3v29.8h-3z"/>
<path fill="#f8a21d" d="M1808.3 1247.8h3v29.8h-3zM1566.25 1312.2h3v29.8h-3z"/>
<text x="1836.8" y="976.9" font-size="20.3" text-anchor="start" fill="#000">TP53</text>
<rect x="1936.9" y="963.6" width="27.02" height="19.2" fill="#38879b"/>
<rect x="1963.92" y="963.6" width="15.44" height="19.2" fill="#ebb8b8"/>
<rect x="1979.36" y="963.6" width="9.65" height="19.2" fill="#f5e816"/>
<rect x="1989.01" y="963.6" width="7.72" height="19.2" fill="#b0406a"/>
<text x="1836.8" y="1009.1" font-size="20.3" text-anchor="start" fill="#000">STK11</text>
<rect x="1936.9" y="995.8" width="7.72" height="19.2" fill="#38879b"/>
<rect x="1944.62" y="995.8" width="1.93" height="19.2" fill="#ebb8b8"/>
<rect x="1946.55" y="995.8" width="3.86" height="19.2" fill="#f5e816"/>
<rect x="1950.41" y="995.8" width="13.51" height="19.2" fill="#218e42"/>
<text x="1836.8" y="1041.3" font-size="20.3" text-anchor="start" fill="#000">KRAS</text>
<rect x="1936.9" y="1028" width="23.16" height="19.2" fill="#38879b"/>
<rect x="1960.06" y="1028" width="1.93" height="19.2" fill="#eb2027"/>
<text x="1836.8" y="1073.5" font-size="20.3" text-anchor="start" fill="#000">NOTCH1</text>
<rect x="1936.9" y="1060.2" width="1.93" height="19.2" fill="#38879b"/>
<rect x="1938.83" y="1060.2" width="19.3" height="19.2" fill="#218e42"/>
<text x="1836.8" y="1105.7" font-size="20.3" text-anchor="start" fill="#000">KEAP1</text>
<rect x="1936.9" y="1092.4" width="9.65" height="19.2" fill="#38879b"/>
<rect x="1946.55" y="1092.4" width="5.79" height="19.2" fill="#ebb8b8"/>
<rect x="1952.34" y="1092.4" width="3.86" height="19.2" fill="#f5e816"/>
<rect x="1956.2" y="1092.4" width="1.93" height="19.2" fill="#218e42"/>
<text x="1836.8" y="1137.9" font-size="20.3" text-anchor="start" fill="#000">CDKN2A</text>
<rect x="1936.9" y="1124.6" width="7.72" height="19.2" fill="#38879b"/>
<rect x="1944.62" y="1124.6" width="1.93" height="19.2" fill="#f5e816"/>
<rect x="1946.55" y="1124.6" width="11.58" height="19.2" fill="#eb2027"/>
<text x="1836.8" y="1170.1" font-size="20.3" text-anchor="start" fill="#000">NFE2L2</text>
<rect x="1936.9" y="1156.8" width="1.93" height="19.2" fill="#38879b"/>
<rect x="1938.83" y="1156.8" width="13.51" height="19.2" fill="#eb2027"/>
<text x="1836.8" y="1202.3" font-size="20.3" text-anchor="start" fill="#000">SMARCA4</text>
<rect x="1936.9" y="1189" width="3.86" height="19.2" fill="#38879b"/>
<rect x="1940.76" y="1189" width="1.93" height="19.2" fill="#f5e816"/>
<rect x="1942.69" y="1189" width="3.86" height="19.2" fill="#218e42"/>
<text x="1836.8" y="1234.5" font-size="20.3" text-anchor="start" fill="#000">RBM10</text>
<rect x="1936.9" y="1221.2" width="1.93" height="19.2" fill="#ebb8b8"/>
<rect x="1938.83" y="1221.2" width="1.93" height="19.2" fill="#f5e816"/>
<rect x="1940.76" y="1221.2" width="1.93" height="19.2" fill="#b0406a"/>
<rect x="1942.69" y="1221.2" width="3.86" height="19.2" fill="#218e42"/>
<text x="1836.8" y="1266.7" font-size="20.3" text-anchor="start" fill="#000">EGFR</text>
<rect x="1936.9" y="1253.4" width="5.79" height="19.2" fill="#38879b"/>
<rect x="1942.69" y="1253.4" width="1.93" height="19.2" fill="#f8a21d"/>
<text x="1836.8" y="1298.9" font-size="20.3" text-anchor="start" fill="#000">FAT1</text>
<rect x="1936.9" y="1285.6" width="5.79" height="19.2" fill="#38879b"/>
<text x="1836.8" y="1331.1" font-size="20.3" text-anchor="start" fill="#000">BRAF</text>
<rect x="1936.9" y="1317.8" width="3.86" height="19.2" fill="#38879b"/>
<rect x="1940.76" y="1317.8" width="1.93" height="19.2" fill="#f8a21d"/>
<text x="1541.5" y="976.9" font-size="20.3" text-anchor="middle" fill="#000">48%</text>
<text x="1541.5" y="1009.1" font-size="20.3" text-anchor="middle" fill="#000">22%</text>
<text x="1541.5" y="1041.3" font-size="20.3" text-anchor="middle" fill="#000">20%</text>
<text x="1541.5" y="1073.5" font-size="20.3" text-anchor="middle" fill="#000">17%</text>
<text x="1541.5" y="1105.7" font-size="20.3" text-anchor="middle" fill="#000">17%</text>
<text x="1541.5" y="1137.9" font-size="20.3" text-anchor="middle" fill="#000">17%</text>
<text x="1541.5" y="1170.1" font-size="20.3" text-anchor="middle" fill="#000">12%</text>
<text x="1541.5" y="1202.3" font-size="20.3" text-anchor="middle" fill="#000">8%</text>
<text x="1541.5" y="1234.5" font-size="20.3" text-anchor="middle" fill="#000">8%</text>
<text x="1541.5" y="1266.7" font-size="20.3" text-anchor="middle" fill="#000">6%</text>
<text x="1541.5" y="1298.9" font-size="20.3" text-anchor="middle" fill="#000">5%</text>
<text x="1541.5" y="1331.1" font-size="20.3" text-anchor="middle" fill="#000">5%</text>
<line x1="1935.9" y1="956" x2="2001" y2="956" stroke="#000" stroke-width="2.2"/>
<line x1="1936.9" y1="951.5" x2="1936.9" y2="957" stroke="#000" stroke-width="2.2"/>
<line x1="1956.6" y1="951.5" x2="1956.6" y2="957" stroke="#000" stroke-width="2.2"/>
<line x1="1976.3" y1="951.5" x2="1976.3" y2="957" stroke="#000" stroke-width="2.2"/>
<line x1="1996" y1="951.5" x2="1996" y2="957" stroke="#000" stroke-width="2.2"/>
<text x="1936.9" y="949.5" font-size="20.3" text-anchor="middle" fill="#000">0</text>
<text x="1976.3" y="949.5" font-size="20.3" text-anchor="middle" fill="#000">20</text>
<text x="21.5" y="1462" font-size="18.5" text-anchor="start" fill="#1a1a1a" font-weight="bold">c</text>
<line x1="393.9" y1="1456.7" x2="393.9" y2="2288" stroke="#cc1c28" stroke-width="3.9" stroke-dasharray="14.3,15.0"/>
<line x1="162" y1="1449.1" x2="162" y2="2290.2" stroke="#000" stroke-width="3.2"/>
<line x1="160.4" y1="2288.6" x2="620.8" y2="2288.6" stroke="#000" stroke-width="3.2"/>
<line x1="156.4" y1="1490.6" x2="161" y2="1490.6" stroke="#333" stroke-width="2.8"/>
<text x="155.3" y="1497.9" font-size="20.9" text-anchor="end" fill="#4d4d4d">TP53</text>
<line x1="156.4" y1="1559.47" x2="161" y2="1559.47" stroke="#333" stroke-width="2.8"/>
<text x="155.3" y="1566.77" font-size="20.9" text-anchor="end" fill="#4d4d4d">STK11</text>
<line x1="156.4" y1="1628.34" x2="161" y2="1628.34" stroke="#333" stroke-width="2.8"/>
<text x="155.3" y="1635.64" font-size="20.9" text-anchor="end" fill="#4d4d4d">KRAS</text>
<line x1="156.4" y1="1697.21" x2="161" y2="1697.21" stroke="#333" stroke-width="2.8"/>
<text x="155.3" y="1704.51" font-size="20.9" text-anchor="end" fill="#4d4d4d">NOTCH1</text>
<line x1="156.4" y1="1766.08" x2="161" y2="1766.08" stroke="#333" stroke-width="2.8"/>
<text x="155.3" y="1773.38" font-size="20.9" text-anchor="end" fill="#4d4d4d">KEAP1</text>
<line x1="156.4" y1="1834.95" x2="161" y2="1834.95" stroke="#333" stroke-width="2.8"/>
<text x="155.3" y="1842.25" font-size="20.9" text-anchor="end" fill="#4d4d4d">CDKN2A</text>
<line x1="156.4" y1="1903.82" x2="161" y2="1903.82" stroke="#333" stroke-width="2.8"/>
<text x="155.3" y="1911.12" font-size="20.9" text-anchor="end" fill="#4d4d4d">NFE2L2</text>
<line x1="156.4" y1="1972.69" x2="161" y2="1972.69" stroke="#333" stroke-width="2.8"/>
<text x="155.3" y="1979.99" font-size="20.9" text-anchor="end" fill="#4d4d4d">SMARCA4</text>
<line x1="156.4" y1="2041.56" x2="161" y2="2041.56" stroke="#333" stroke-width="2.8"/>
<text x="155.3" y="2048.86" font-size="20.9" text-anchor="end" fill="#4d4d4d">RBM10</text>
<line x1="156.4" y1="2110.43" x2="161" y2="2110.43" stroke="#333" stroke-width="2.8"/>
<text x="155.3" y="2117.73" font-size="20.9" text-anchor="end" fill="#4d4d4d">EGFR</text>
<line x1="156.4" y1="2179.3" x2="161" y2="2179.3" stroke="#333" stroke-width="2.8"/>
<text x="155.3" y="2186.6" font-size="20.9" text-anchor="end" fill="#4d4d4d">FAT1</text>
<line x1="156.4" y1="2248.17" x2="161" y2="2248.17" stroke="#333" stroke-width="2.8"/>
<text x="155.3" y="2255.47" font-size="20.9" text-anchor="end" fill="#4d4d4d">BRAF</text>
<line x1="240.2" y1="2290" x2="240.2" y2="2294.8" stroke="#333" stroke-width="2.8"/>
<text x="240.2" y="2313.8" font-size="20.2" text-anchor="middle" fill="#4d4d4d">0.5</text>
<line x1="336.7" y1="2290" x2="336.7" y2="2294.8" stroke="#333" stroke-width="2.8"/>
<text x="336.7" y="2313.8" font-size="20.2" text-anchor="middle" fill="#4d4d4d">1.0</text>
<line x1="433.2" y1="2290" x2="433.2" y2="2294.8" stroke="#333" stroke-width="2.8"/>
<text x="433.2" y="2313.8" font-size="20.2" text-anchor="middle" fill="#4d4d4d">1.5</text>
<line x1="529.7" y1="2290" x2="529.7" y2="2294.8" stroke="#333" stroke-width="2.8"/>
<text x="529.7" y="2313.8" font-size="20.2" text-anchor="middle" fill="#4d4d4d">2.0</text>
<text x="382" y="2340.2" font-size="20.6" text-anchor="middle" fill="#000">&#8722;log10(Pvalue)</text>
<text x="0" y="0" font-size="21" text-anchor="middle" transform="translate(48.6,1871) rotate(-90)">Gene</text>
<circle cx="416.82" cy="1490.6" r="9.6" fill="#4e69b4" stroke="#000" stroke-width="2.7"/>
<circle cx="369.15" cy="1559.47" r="9.6" fill="#4e69b4" stroke="#000" stroke-width="2.7"/>
<circle cx="242.74" cy="1628.34" r="9.6" fill="#4e69b4" stroke="#000" stroke-width="2.7"/>
<circle cx="182.91" cy="1697.21" r="9.6" fill="#4e69b4" stroke="#000" stroke-width="2.7"/>
<circle cx="224.02" cy="1766.08" r="9.6" fill="#4e69b4" stroke="#000" stroke-width="2.7"/>
<circle cx="450.6" cy="1834.95" r="9.6" fill="#4e69b4" stroke="#000" stroke-width="2.7"/>
<circle cx="300.64" cy="1903.82" r="9.6" fill="#4e69b4" stroke="#000" stroke-width="2.7"/>
<circle cx="600.34" cy="1972.69" r="9.6" fill="#4e69b4" stroke="#000" stroke-width="2.7"/>
<circle cx="278.83" cy="2041.56" r="9.6" fill="#4e69b4" stroke="#000" stroke-width="2.7"/>
<circle cx="416.44" cy="2110.43" r="9.6" fill="#4e69b4" stroke="#000" stroke-width="2.7"/>
<circle cx="228.26" cy="2179.3" r="9.6" fill="#4e69b4" stroke="#000" stroke-width="2.7"/>
<circle cx="233.67" cy="2248.17" r="9.6" fill="#4e69b4" stroke="#000" stroke-width="2.7"/>
<text x="810.2" y="1462.9" font-size="18.5" text-anchor="start" fill="#1a1a1a" font-weight="bold">d</text>
<rect x="974.1" y="1416.3" width="84.78" height="38.1" fill="#ee6044"/>
<rect x="1058.88" y="1416.3" width="302.67" height="38.1" fill="#83c88e"/>
<rect x="1361.54" y="1416.3" width="169.55" height="38.1" fill="#63c8d6"/>
<rect x="1531.1" y="1416.3" width="187.4" height="38.1" fill="#9984c1"/>
<text x="1019.89" y="1442.6" font-size="20.7" text-anchor="middle" fill="#000">11.4%</text>
<text x="1213.61" y="1442.6" font-size="20.7" text-anchor="middle" fill="#000">40.7%</text>
<text x="1449.72" y="1442.6" font-size="20.7" text-anchor="middle" fill="#000">22.8%</text>
<text x="1628.2" y="1442.6" font-size="20.7" text-anchor="middle" fill="#000">25.2%</text>
<rect x="967.9" y="1433.75" width="3.2" height="3.2" fill="#000"/>
<text x="915.6" y="1441.1" font-size="20.6" text-anchor="middle" fill="#222">TP53</text>
<rect x="974.1" y="1459.1" width="77.42" height="38.1" fill="#ee6044"/>
<rect x="1051.52" y="1459.1" width="294.78" height="38.1" fill="#83c88e"/>
<rect x="1346.3" y="1459.1" width="256.07" height="38.1" fill="#63c8d6"/>
<rect x="1602.37" y="1459.1" width="116.13" height="38.1" fill="#9984c1"/>
<text x="1016.21" y="1485.4" font-size="20.7" text-anchor="middle" fill="#000">10.4%</text>
<text x="1202.31" y="1485.4" font-size="20.7" text-anchor="middle" fill="#000">39.6%</text>
<text x="1477.74" y="1485.4" font-size="20.7" text-anchor="middle" fill="#000">34.4%</text>
<text x="1663.84" y="1485.4" font-size="20.7" text-anchor="middle" fill="#000">15.6%</text>
<rect x="967.9" y="1476.55" width="3.2" height="3.2" fill="#000"/>
<text x="915.6" y="1483.9" font-size="20.6" text-anchor="middle" fill="#222">STK11</text>
<rect x="974.1" y="1501.9" width="73.62" height="38.1" fill="#ee6044"/>
<rect x="1047.72" y="1501.9" width="314.57" height="38.1" fill="#83c88e"/>
<rect x="1362.29" y="1501.9" width="220.12" height="38.1" fill="#63c8d6"/>
<rect x="1582.41" y="1501.9" width="136.09" height="38.1" fill="#9984c1"/>
<text x="1014.31" y="1528.2" font-size="20.7" text-anchor="middle" fill="#000">9.9%</text>
<text x="1208.41" y="1528.2" font-size="20.7" text-anchor="middle" fill="#000">42.3%</text>
<text x="1475.75" y="1528.2" font-size="20.7" text-anchor="middle" fill="#000">29.6%</text>
<text x="1653.86" y="1528.2" font-size="20.7" text-anchor="middle" fill="#000">18.3%</text>
<rect x="967.9" y="1519.35" width="3.2" height="3.2" fill="#000"/>
<text x="915.6" y="1526.7" font-size="20.6" text-anchor="middle" fill="#222">KRAS</text>
<rect x="974.1" y="1544.7" width="115.38" height="38.1" fill="#ee6044"/>
<rect x="1089.48" y="1544.7" width="262.03" height="38.1" fill="#83c88e"/>
<rect x="1351.51" y="1544.7" width="241.19" height="38.1" fill="#63c8d6"/>
<rect x="1592.7" y="1544.7" width="125.8" height="38.1" fill="#9984c1"/>
<text x="1035.19" y="1571" font-size="20.7" text-anchor="middle" fill="#000">15.5%</text>
<text x="1223.9" y="1571" font-size="20.7" text-anchor="middle" fill="#000">35.2%</text>
<text x="1475.5" y="1571" font-size="20.7" text-anchor="middle" fill="#000">32.4%</text>
<text x="1659" y="1571" font-size="20.7" text-anchor="middle" fill="#000">16.9%</text>
<rect x="967.9" y="1562.15" width="3.2" height="3.2" fill="#000"/>
<text x="915.6" y="1569.5" font-size="20.6" text-anchor="middle" fill="#222">NOTCH1</text>
<rect x="974.1" y="1587.5" width="88.58" height="38.1" fill="#ee6044"/>
<rect x="1062.68" y="1587.5" width="311.16" height="38.1" fill="#83c88e"/>
<rect x="1373.84" y="1587.5" width="222.58" height="38.1" fill="#63c8d6"/>
<rect x="1596.42" y="1587.5" width="122.08" height="38.1" fill="#9984c1"/>
<text x="1021.79" y="1613.8" font-size="20.7" text-anchor="middle" fill="#000">11.9%</text>
<text x="1221.66" y="1613.8" font-size="20.7" text-anchor="middle" fill="#000">41.8%</text>
<text x="1488.53" y="1613.8" font-size="20.7" text-anchor="middle" fill="#000">29.9%</text>
<text x="1660.86" y="1613.8" font-size="20.7" text-anchor="middle" fill="#000">16.4%</text>
<rect x="967.9" y="1604.95" width="3.2" height="3.2" fill="#000"/>
<text x="915.6" y="1612.3" font-size="20.6" text-anchor="middle" fill="#222">KEAP1</text>
<rect x="974.1" y="1630.3" width="69.97" height="38.1" fill="#ee6044"/>
<rect x="1044.07" y="1630.3" width="372.2" height="38.1" fill="#83c88e"/>
<rect x="1416.27" y="1630.3" width="174.19" height="38.1" fill="#63c8d6"/>
<rect x="1590.46" y="1630.3" width="128.04" height="38.1" fill="#9984c1"/>
<text x="1012.49" y="1656.6" font-size="20.7" text-anchor="middle" fill="#000">9.4%</text>
<text x="1233.57" y="1656.6" font-size="20.7" text-anchor="middle" fill="#000">50%</text>
<text x="1506.77" y="1656.6" font-size="20.7" text-anchor="middle" fill="#000">23.4%</text>
<text x="1657.88" y="1656.6" font-size="20.7" text-anchor="middle" fill="#000">17.2%</text>
<rect x="967.9" y="1647.75" width="3.2" height="3.2" fill="#000"/>
<text x="915.6" y="1655.1" font-size="20.6" text-anchor="middle" fill="#222">CDKN2A</text>
<rect x="974.1" y="1673.1" width="93.05" height="38.1" fill="#ee6044"/>
<rect x="1067.15" y="1673.1" width="345.4" height="38.1" fill="#83c88e"/>
<rect x="1412.55" y="1673.1" width="199.5" height="38.1" fill="#63c8d6"/>
<rect x="1612.05" y="1673.1" width="106.45" height="38.1" fill="#9984c1"/>
<text x="1024.03" y="1699.4" font-size="20.7" text-anchor="middle" fill="#000">12.5%</text>
<text x="1243.25" y="1699.4" font-size="20.7" text-anchor="middle" fill="#000">46.4%</text>
<text x="1515.7" y="1699.4" font-size="20.7" text-anchor="middle" fill="#000">26.8%</text>
<text x="1668.68" y="1699.4" font-size="20.7" text-anchor="middle" fill="#000">14.3%</text>
<rect x="967.9" y="1690.55" width="3.2" height="3.2" fill="#000"/>
<text x="915.6" y="1697.9" font-size="20.6" text-anchor="middle" fill="#222">NFE2L2</text>
<rect x="974.1" y="1715.9" width="30.52" height="38.1" fill="#ee6044"/>
<rect x="1004.62" y="1715.9" width="364.76" height="38.1" fill="#83c88e"/>
<rect x="1369.38" y="1715.9" width="273.19" height="38.1" fill="#63c8d6"/>
<rect x="1642.57" y="1715.9" width="75.93" height="38.1" fill="#9984c1"/>
<text x="992.76" y="1742.2" font-size="20.7" text-anchor="middle" fill="#000">4.1%</text>
<text x="1190.4" y="1742.2" font-size="20.7" text-anchor="middle" fill="#000">49%</text>
<text x="1509.37" y="1742.2" font-size="20.7" text-anchor="middle" fill="#000">36.7%</text>
<text x="1683.94" y="1742.2" font-size="20.7" text-anchor="middle" fill="#000">10.2%</text>
<rect x="967.9" y="1733.35" width="3.2" height="3.2" fill="#000"/>
<text x="915.6" y="1740.7" font-size="20.6" text-anchor="middle" fill="#222">SMARCA4</text>
<rect x="974.1" y="1758.7" width="96.77" height="38.1" fill="#ee6044"/>
<rect x="1070.87" y="1758.7" width="307.44" height="38.1" fill="#83c88e"/>
<rect x="1378.31" y="1758.7" width="259.05" height="38.1" fill="#63c8d6"/>
<rect x="1637.36" y="1758.7" width="81.14" height="38.1" fill="#9984c1"/>
<text x="1025.89" y="1785" font-size="20.7" text-anchor="middle" fill="#000">13%</text>
<text x="1227.99" y="1785" font-size="20.7" text-anchor="middle" fill="#000">41.3%</text>
<text x="1511.23" y="1785" font-size="20.7" text-anchor="middle" fill="#000">34.8%</text>
<text x="1681.33" y="1785" font-size="20.7" text-anchor="middle" fill="#000">10.9%</text>
<rect x="967.9" y="1776.15" width="3.2" height="3.2" fill="#000"/>
<text x="915.6" y="1783.5" font-size="20.6" text-anchor="middle" fill="#222">RBM10</text>
<rect x="974.1" y="1801.5" width="121.34" height="38.1" fill="#ee6044"/>
<rect x="1095.44" y="1801.5" width="224.81" height="38.1" fill="#83c88e"/>
<rect x="1320.25" y="1801.5" width="329.02" height="38.1" fill="#63c8d6"/>
<rect x="1649.27" y="1801.5" width="69.23" height="38.1" fill="#9984c1"/>
<text x="1038.17" y="1827.8" font-size="20.7" text-anchor="middle" fill="#000">16.3%</text>
<text x="1211.24" y="1827.8" font-size="20.7" text-anchor="middle" fill="#000">30.2%</text>
<text x="1488.16" y="1827.8" font-size="20.7" text-anchor="middle" fill="#000">44.2%</text>
<text x="1687.29" y="1827.8" font-size="20.7" text-anchor="middle" fill="#000">9.3%</text>
<rect x="967.9" y="1818.95" width="3.2" height="3.2" fill="#000"/>
<text x="915.6" y="1826.3" font-size="20.6" text-anchor="middle" fill="#222">EGFR</text>
<rect x="974.1" y="1844.3" width="165.42" height="38.1" fill="#ee6044"/>
<rect x="1139.52" y="1844.3" width="275.7" height="38.1" fill="#83c88e"/>
<rect x="1415.23" y="1844.3" width="220.56" height="38.1" fill="#63c8d6"/>
<rect x="1635.79" y="1844.3" width="82.71" height="38.1" fill="#9984c1"/>
<text x="1060.21" y="1870.6" font-size="20.7" text-anchor="middle" fill="#000">22.2%</text>
<text x="1280.77" y="1870.6" font-size="20.7" text-anchor="middle" fill="#000">37%</text>
<text x="1528.91" y="1870.6" font-size="20.7" text-anchor="middle" fill="#000">29.6%</text>
<text x="1680.54" y="1870.6" font-size="20.7" text-anchor="middle" fill="#000">11.1%</text>
<rect x="967.9" y="1861.75" width="3.2" height="3.2" fill="#000"/>
<text x="915.6" y="1869.1" font-size="20.6" text-anchor="middle" fill="#222">FAT1</text>
<rect x="974.1" y="1887.1" width="114.64" height="38.1" fill="#ee6044"/>
<rect x="1088.74" y="1887.1" width="229.28" height="38.1" fill="#83c88e"/>
<rect x="1318.01" y="1887.1" width="314.88" height="38.1" fill="#63c8d6"/>
<rect x="1632.89" y="1887.1" width="85.61" height="38.1" fill="#9984c1"/>
<text x="1034.82" y="1913.4" font-size="20.7" text-anchor="middle" fill="#000">15.4%</text>
<text x="1206.78" y="1913.4" font-size="20.7" text-anchor="middle" fill="#000">30.8%</text>
<text x="1478.85" y="1913.4" font-size="20.7" text-anchor="middle" fill="#000">42.3%</text>
<text x="1679.1" y="1913.4" font-size="20.7" text-anchor="middle" fill="#000">11.5%</text>
<rect x="967.9" y="1904.55" width="3.2" height="3.2" fill="#000"/>
<text x="915.6" y="1911.9" font-size="20.6" text-anchor="middle" fill="#222">BRAF</text>
<text x="978.1" y="1944.2" font-size="20" text-anchor="middle" fill="#4d4d4d">0.00</text>
<rect x="972.5" y="1927.2" width="3.2" height="3.2" fill="#000"/>
<text x="1164.2" y="1944.2" font-size="20" text-anchor="middle" fill="#4d4d4d">0.25</text>
<rect x="1158.6" y="1927.2" width="3.2" height="3.2" fill="#000"/>
<text x="1350.3" y="1949.5" font-size="20" text-anchor="middle" fill="#4d4d4d">0.50</text>
<rect x="1344.7" y="1927.2" width="3.2" height="3.2" fill="#000"/>
<text x="1536.4" y="1944.2" font-size="20" text-anchor="middle" fill="#4d4d4d">0.75</text>
<rect x="1530.8" y="1927.2" width="3.2" height="3.2" fill="#000"/>
<text x="1722.5" y="1944.2" font-size="20" text-anchor="middle" fill="#4d4d4d">1.00</text>
<rect x="1716.9" y="1927.2" width="3.2" height="3.2" fill="#000"/>
<text x="1360.5" y="1971.3" font-size="20" text-anchor="middle" fill="#4d4d4d">Fraction of patients</text>
<text x="0" y="0" font-size="20" text-anchor="middle" fill="#222" transform="translate(858.0,1668.7) rotate(-90)">Gene</text>
<rect x="1725.3" y="1566.9" width="25.8" height="25.6" fill="#ee6044"/>
<text x="1764.2" y="1583.6" font-size="20.5" text-anchor="start" fill="#000">NMF1 (n=37)</text>
<rect x="1725.3" y="1596.4" width="25.8" height="25.6" fill="#83c88e"/>
<text x="1764.2" y="1613.1" font-size="20.5" text-anchor="start" fill="#000">NMF2 (n=85)</text>
<rect x="1725.3" y="1625.9" width="25.8" height="25.6" fill="#63c8d6"/>
<text x="1764.2" y="1642.6" font-size="20.5" text-anchor="start" fill="#000">NMF3 (n=72)</text>
<rect x="1725.3" y="1655.4" width="25.8" height="25.6" fill="#9984c1"/>
<text x="1764.2" y="1672.1" font-size="20.5" text-anchor="start" fill="#000">NMF4 (n=65)</text>
<text x="824.3" y="2034.1" font-size="18.5" text-anchor="start" fill="#1a1a1a" font-weight="bold">e</text>
<rect x="999.2" y="2196.3" width="49.6" height="49.6" fill="#9cc8b3"/>
<path d="M1031.4,2090 L1031.4,2090 C1031.53,2094.18 1031.52,2107.02 1032.2,2115.1 C1032.88,2123.18 1033.97,2130.68 1035.5,2138.5 C1037.03,2146.32 1038.77,2154.18 1041.4,2162 C1044.03,2169.82 1048.82,2179.55 1051.3,2185.4 C1053.78,2191.25 1055.13,2193.2 1056.3,2197.1 C1057.47,2201 1057.97,2204.9 1058.3,2208.8 C1058.63,2212.7 1058.6,2216.6 1058.3,2220.5 C1058,2224.4 1057.28,2228.3 1056.5,2232.2 C1055.72,2236.1 1054.77,2240 1053.6,2243.9 C1052.43,2247.8 1050.95,2251.68 1049.5,2255.6 C1048.05,2259.52 1046.55,2263.48 1044.9,2267.4 C1043.25,2271.32 1041.07,2275.2 1039.6,2279.1 C1038.13,2283 1037.17,2286.9 1036.1,2290.8 C1035.03,2294.7 1033.98,2297.82 1033.2,2302.5 C1032.42,2307.18 1031.7,2316.17 1031.4,2318.9 L1031.4,2318.9 Z" fill="#9bc6b2"/>
<clipPath id="cb0"><rect x="999.2" y="2196.3" width="49.6" height="49.6"/></clipPath>
<path d="M1031.4,2090 L1031.4,2090 C1031.53,2094.18 1031.52,2107.02 1032.2,2115.1 C1032.88,2123.18 1033.97,2130.68 1035.5,2138.5 C1037.03,2146.32 1038.77,2154.18 1041.4,2162 C1044.03,2169.82 1048.82,2179.55 1051.3,2185.4 C1053.78,2191.25 1055.13,2193.2 1056.3,2197.1 C1057.47,2201 1057.97,2204.9 1058.3,2208.8 C1058.63,2212.7 1058.6,2216.6 1058.3,2220.5 C1058,2224.4 1057.28,2228.3 1056.5,2232.2 C1055.72,2236.1 1054.77,2240 1053.6,2243.9 C1052.43,2247.8 1050.95,2251.68 1049.5,2255.6 C1048.05,2259.52 1046.55,2263.48 1044.9,2267.4 C1043.25,2271.32 1041.07,2275.2 1039.6,2279.1 C1038.13,2283 1037.17,2286.9 1036.1,2290.8 C1035.03,2294.7 1033.98,2297.82 1033.2,2302.5 C1032.42,2307.18 1031.7,2316.17 1031.4,2318.9 L1031.4,2318.9 Z" fill="#68b294" clip-path="url(#cb0)"/>
<line x1="1023.9" y1="2133.2" x2="1023.9" y2="2196.3" stroke="#000" stroke-width="3.6"/>
<line x1="1023.9" y1="2245.9" x2="1023.9" y2="2274.5" stroke="#000" stroke-width="3.6"/>
<rect x="999.2" y="2196.3" width="49.6" height="49.6" fill="none" stroke="#000" stroke-width="3.9"/>
<line x1="999.2" y1="2218" x2="1048.8" y2="2218" stroke="#000" stroke-width="7"/>
<rect x="1078.5" y="2186.1" width="49" height="41.8" fill="#eba981"/>
<path d="M1111,2087 L1111,2087 C1111.1,2093.63 1111.12,2118.22 1111.6,2126.8 C1112.08,2135.38 1112.93,2134.58 1113.9,2138.5 C1114.87,2142.42 1115.83,2146.38 1117.4,2150.3 C1118.97,2154.22 1121.35,2158.1 1123.3,2162 C1125.25,2165.9 1127.35,2169.8 1129.1,2173.7 C1130.85,2177.6 1132.13,2181.5 1133.8,2185.4 C1135.47,2189.3 1137.33,2193.2 1139.1,2197.1 C1140.87,2201 1143.13,2205.28 1144.4,2208.8 C1145.67,2212.32 1146.52,2215.27 1146.7,2218.2 C1146.88,2221.13 1146.87,2223.08 1145.5,2226.4 C1144.13,2229.72 1141.03,2234.2 1138.5,2238.1 C1135.97,2242 1133.03,2245.9 1130.3,2249.8 C1127.57,2253.7 1124.63,2257.6 1122.1,2261.5 C1119.57,2265.4 1116.85,2269.28 1115.1,2273.2 C1113.35,2277.12 1112.28,2281.87 1111.6,2285 C1110.92,2288.13 1111.1,2290.83 1111,2292 L1111,2292 Z" fill="#eca982"/>
<clipPath id="cb1"><rect x="1078.5" y="2186.1" width="49" height="41.8"/></clipPath>
<path d="M1111,2087 L1111,2087 C1111.1,2093.63 1111.12,2118.22 1111.6,2126.8 C1112.08,2135.38 1112.93,2134.58 1113.9,2138.5 C1114.87,2142.42 1115.83,2146.38 1117.4,2150.3 C1118.97,2154.22 1121.35,2158.1 1123.3,2162 C1125.25,2165.9 1127.35,2169.8 1129.1,2173.7 C1130.85,2177.6 1132.13,2181.5 1133.8,2185.4 C1135.47,2189.3 1137.33,2193.2 1139.1,2197.1 C1140.87,2201 1143.13,2205.28 1144.4,2208.8 C1145.67,2212.32 1146.52,2215.27 1146.7,2218.2 C1146.88,2221.13 1146.87,2223.08 1145.5,2226.4 C1144.13,2229.72 1141.03,2234.2 1138.5,2238.1 C1135.97,2242 1133.03,2245.9 1130.3,2249.8 C1127.57,2253.7 1124.63,2257.6 1122.1,2261.5 C1119.57,2265.4 1116.85,2269.28 1115.1,2273.2 C1113.35,2277.12 1112.28,2281.87 1111.6,2285 C1110.92,2288.13 1111.1,2290.83 1111,2292 L1111,2292 Z" fill="#e58a52" clip-path="url(#cb1)"/>
<line x1="1102.9" y1="2147.7" x2="1102.9" y2="2186.1" stroke="#000" stroke-width="3.6"/>
<line x1="1102.9" y1="2227.9" x2="1102.9" y2="2261.6" stroke="#000" stroke-width="3.6"/>
<rect x="1078.5" y="2186.1" width="49" height="41.8" fill="none" stroke="#000" stroke-width="3.9"/>
<line x1="1078.5" y1="2212.9" x2="1127.5" y2="2212.9" stroke="#000" stroke-width="7"/>
<circle cx="1102.9" cy="2111.3" r="2.6" fill="#8a6a6a" stroke="#555" stroke-width="0.8"/>
<rect x="1157.6" y="2203" width="48.7" height="41.4" fill="#b5b1dc"/>
<path d="M1191.2,2133.9 L1191.2,2133.9 C1191.45,2135.65 1192.05,2140.7 1192.7,2144.4 C1193.35,2148.1 1194.32,2152.2 1195.1,2156.1 C1195.88,2160 1196.13,2163.9 1197.4,2167.8 C1198.67,2171.7 1200.55,2175.6 1202.7,2179.5 C1204.85,2183.4 1208.25,2188.27 1210.3,2191.2 C1212.35,2194.13 1213.15,2194.17 1215,2197.1 C1216.85,2200.03 1220.18,2204.9 1221.4,2208.8 C1222.62,2212.7 1222.15,2216.6 1222.3,2220.5 C1222.45,2224.4 1222.35,2228.68 1222.3,2232.2 C1222.25,2235.72 1222.63,2238.67 1222,2241.6 C1221.37,2244.53 1220.75,2246.48 1218.5,2249.8 C1216.25,2253.12 1211.92,2257.6 1208.5,2261.5 C1205.08,2265.4 1200.73,2269.28 1198,2273.2 C1195.27,2277.12 1193.23,2282.27 1192.1,2285 C1190.97,2287.73 1191.35,2288.83 1191.2,2289.6 L1191.2,2289.6 Z" fill="#aba6d6"/>
<clipPath id="cb2"><rect x="1157.6" y="2203" width="48.7" height="41.4"/></clipPath>
<path d="M1191.2,2133.9 L1191.2,2133.9 C1191.45,2135.65 1192.05,2140.7 1192.7,2144.4 C1193.35,2148.1 1194.32,2152.2 1195.1,2156.1 C1195.88,2160 1196.13,2163.9 1197.4,2167.8 C1198.67,2171.7 1200.55,2175.6 1202.7,2179.5 C1204.85,2183.4 1208.25,2188.27 1210.3,2191.2 C1212.35,2194.13 1213.15,2194.17 1215,2197.1 C1216.85,2200.03 1220.18,2204.9 1221.4,2208.8 C1222.62,2212.7 1222.15,2216.6 1222.3,2220.5 C1222.45,2224.4 1222.35,2228.68 1222.3,2232.2 C1222.25,2235.72 1222.63,2238.67 1222,2241.6 C1221.37,2244.53 1220.75,2246.48 1218.5,2249.8 C1216.25,2253.12 1211.92,2257.6 1208.5,2261.5 C1205.08,2265.4 1200.73,2269.28 1198,2273.2 C1195.27,2277.12 1193.23,2282.27 1192.1,2285 C1190.97,2287.73 1191.35,2288.83 1191.2,2289.6 L1191.2,2289.6 Z" fill="#9088c8" clip-path="url(#cb2)"/>
<line x1="1182.2" y1="2152.2" x2="1182.2" y2="2203" stroke="#000" stroke-width="3.6"/>
<line x1="1182.2" y1="2244.4" x2="1182.2" y2="2259.4" stroke="#000" stroke-width="3.6"/>
<rect x="1157.6" y="2203" width="48.7" height="41.4" fill="none" stroke="#000" stroke-width="3.9"/>
<line x1="1157.6" y1="2222.8" x2="1206.3" y2="2222.8" stroke="#000" stroke-width="7"/>
<rect x="1237.2" y="2201.5" width="49" height="44.4" fill="#efa0c1"/>
<path d="M1269.4,2089.4 L1269.4,2089.4 C1269.43,2093.68 1269.4,2108.87 1269.6,2115.1 C1269.8,2121.33 1270.25,2122.9 1270.6,2126.8 C1270.95,2130.7 1271.17,2134.58 1271.7,2138.5 C1272.23,2142.42 1272.92,2146.38 1273.8,2150.3 C1274.68,2154.22 1275.82,2158.1 1277,2162 C1278.18,2165.9 1279.43,2169.8 1280.9,2173.7 C1282.37,2177.6 1284.1,2181.5 1285.8,2185.4 C1287.5,2189.3 1289.45,2193.2 1291.1,2197.1 C1292.75,2201 1294.53,2204.9 1295.7,2208.8 C1296.87,2212.7 1297.5,2216.6 1298.1,2220.5 C1298.7,2224.4 1299.5,2228.3 1299.3,2232.2 C1299.1,2236.1 1298.27,2240 1296.9,2243.9 C1295.53,2247.8 1293.05,2251.68 1291.1,2255.6 C1289.15,2259.52 1287.25,2263.48 1285.2,2267.4 C1283.15,2271.32 1280.65,2275.2 1278.8,2279.1 C1276.95,2283 1275.37,2286.9 1274.1,2290.8 C1272.83,2294.7 1271.98,2298.4 1271.2,2302.5 C1270.42,2306.6 1269.7,2313.25 1269.4,2315.4 L1269.4,2315.4 Z" fill="#ef93bb"/>
<clipPath id="cb3"><rect x="1237.2" y="2201.5" width="49" height="44.4"/></clipPath>
<path d="M1269.4,2089.4 L1269.4,2089.4 C1269.43,2093.68 1269.4,2108.87 1269.6,2115.1 C1269.8,2121.33 1270.25,2122.9 1270.6,2126.8 C1270.95,2130.7 1271.17,2134.58 1271.7,2138.5 C1272.23,2142.42 1272.92,2146.38 1273.8,2150.3 C1274.68,2154.22 1275.82,2158.1 1277,2162 C1278.18,2165.9 1279.43,2169.8 1280.9,2173.7 C1282.37,2177.6 1284.1,2181.5 1285.8,2185.4 C1287.5,2189.3 1289.45,2193.2 1291.1,2197.1 C1292.75,2201 1294.53,2204.9 1295.7,2208.8 C1296.87,2212.7 1297.5,2216.6 1298.1,2220.5 C1298.7,2224.4 1299.5,2228.3 1299.3,2232.2 C1299.1,2236.1 1298.27,2240 1296.9,2243.9 C1295.53,2247.8 1293.05,2251.68 1291.1,2255.6 C1289.15,2259.52 1287.25,2263.48 1285.2,2267.4 C1283.15,2271.32 1280.65,2275.2 1278.8,2279.1 C1276.95,2283 1275.37,2286.9 1274.1,2290.8 C1272.83,2294.7 1271.98,2298.4 1271.2,2302.5 C1270.42,2306.6 1269.7,2313.25 1269.4,2315.4 L1269.4,2315.4 Z" fill="#e96ea5" clip-path="url(#cb3)"/>
<line x1="1261.8" y1="2143.8" x2="1261.8" y2="2201.5" stroke="#000" stroke-width="3.6"/>
<line x1="1261.8" y1="2245.9" x2="1261.8" y2="2277.5" stroke="#000" stroke-width="3.6"/>
<rect x="1237.2" y="2201.5" width="49" height="44.4" fill="none" stroke="#000" stroke-width="3.9"/>
<line x1="1237.2" y1="2222.8" x2="1286.2" y2="2222.8" stroke="#000" stroke-width="7"/>
<circle cx="1261.8" cy="2126.6" r="2.6" fill="#8a6a6a" stroke="#555" stroke-width="0.8"/>
<line x1="976.6" y1="2031.7" x2="976.6" y2="2334.7" stroke="#000" stroke-width="4.4"/>
<line x1="974.4" y1="2332.5" x2="1301.8" y2="2332.5" stroke="#000" stroke-width="4.4"/>
<line x1="972" y1="2277.5" x2="977" y2="2277.5" stroke="#000" stroke-width="3"/>
<text x="970.8" y="2281.7" font-size="21" text-anchor="end" fill="#4d4d4d">0</text>
<line x1="972" y1="2198.1" x2="977" y2="2198.1" stroke="#000" stroke-width="3"/>
<text x="970.8" y="2202.3" font-size="21" text-anchor="end" fill="#4d4d4d">2</text>
<line x1="972" y1="2118.7" x2="977" y2="2118.7" stroke="#000" stroke-width="3"/>
<text x="970.8" y="2122.9" font-size="21" text-anchor="end" fill="#4d4d4d">4</text>
<line x1="972" y1="2039.3" x2="977" y2="2039.3" stroke="#000" stroke-width="3"/>
<text x="970.8" y="2043.5" font-size="21" text-anchor="end" fill="#4d4d4d">6</text>
<line x1="1023.9" y1="2333" x2="1023.9" y2="2336.8" stroke="#000" stroke-width="3.4"/>
<text x="1020.9" y="2354.2" font-size="21" text-anchor="middle" fill="#4d4d4d">1</text>
<line x1="1102.9" y1="2333" x2="1102.9" y2="2336.8" stroke="#000" stroke-width="3.4"/>
<text x="1099.9" y="2354.2" font-size="21" text-anchor="middle" fill="#4d4d4d">2</text>
<line x1="1182.2" y1="2333" x2="1182.2" y2="2336.8" stroke="#000" stroke-width="3.4"/>
<text x="1179.2" y="2354.2" font-size="21" text-anchor="middle" fill="#4d4d4d">3</text>
<line x1="1261.8" y1="2333" x2="1261.8" y2="2336.8" stroke="#000" stroke-width="3.4"/>
<text x="1258.8" y="2354.2" font-size="21" text-anchor="middle" fill="#4d4d4d">4</text>
<text x="1145.5" y="2374.5" font-size="21" text-anchor="middle" fill="#4d4d4d">NMF</text>
<text x="0" y="0" font-size="21" text-anchor="middle" fill="#4d4d4d" transform="translate(935.0,2178.3) rotate(-90)">log(TMB/MB)</text>
<path d="M1023.9,2109.4 L1023.9,2102.6 L1102.9,2102.6 L1102.9,2109.4" fill="none" stroke="#000" stroke-width="3.6"/>
<text x="1068.3" y="2100.8" font-size="19.9" text-anchor="middle" fill="#000">NS</text>
<path d="M1023.9,2092.6 L1023.9,2085.8 L1182.2,2085.8 L1182.2,2092.6" fill="none" stroke="#000" stroke-width="3.6"/>
<text x="1107.1" y="2084" font-size="19.9" text-anchor="middle" fill="#000">NS</text>
<path d="M1023.9,2076 L1023.9,2069.2 L1261.8,2069.2 L1261.8,2076" fill="none" stroke="#000" stroke-width="3.6"/>
<text x="1147" y="2066.8" font-size="19.9" text-anchor="middle" fill="#000">NS</text>
<path d="M1102.9,2059.5 L1102.9,2052.7 L1182.2,2052.7 L1182.2,2059.5" fill="none" stroke="#000" stroke-width="3.6"/>
<text x="1145.5" y="2055" font-size="19.9" text-anchor="middle" fill="#000">**</text>
<path d="M1102.9,2042.7 L1102.9,2035.9 L1261.8,2035.9 L1261.8,2042.7" fill="none" stroke="#000" stroke-width="3.6"/>
<text x="1185.5" y="2040.7" font-size="19.9" text-anchor="middle" fill="#000">**</text>
<path d="M1182.2,2025.9 L1182.2,2019.1 L1261.8,2019.1 L1261.8,2025.9" fill="none" stroke="#000" stroke-width="3.6"/>
<text x="1226.1" y="2016.3" font-size="19.9" text-anchor="middle" fill="#000">NS</text>
</svg></body></html>
